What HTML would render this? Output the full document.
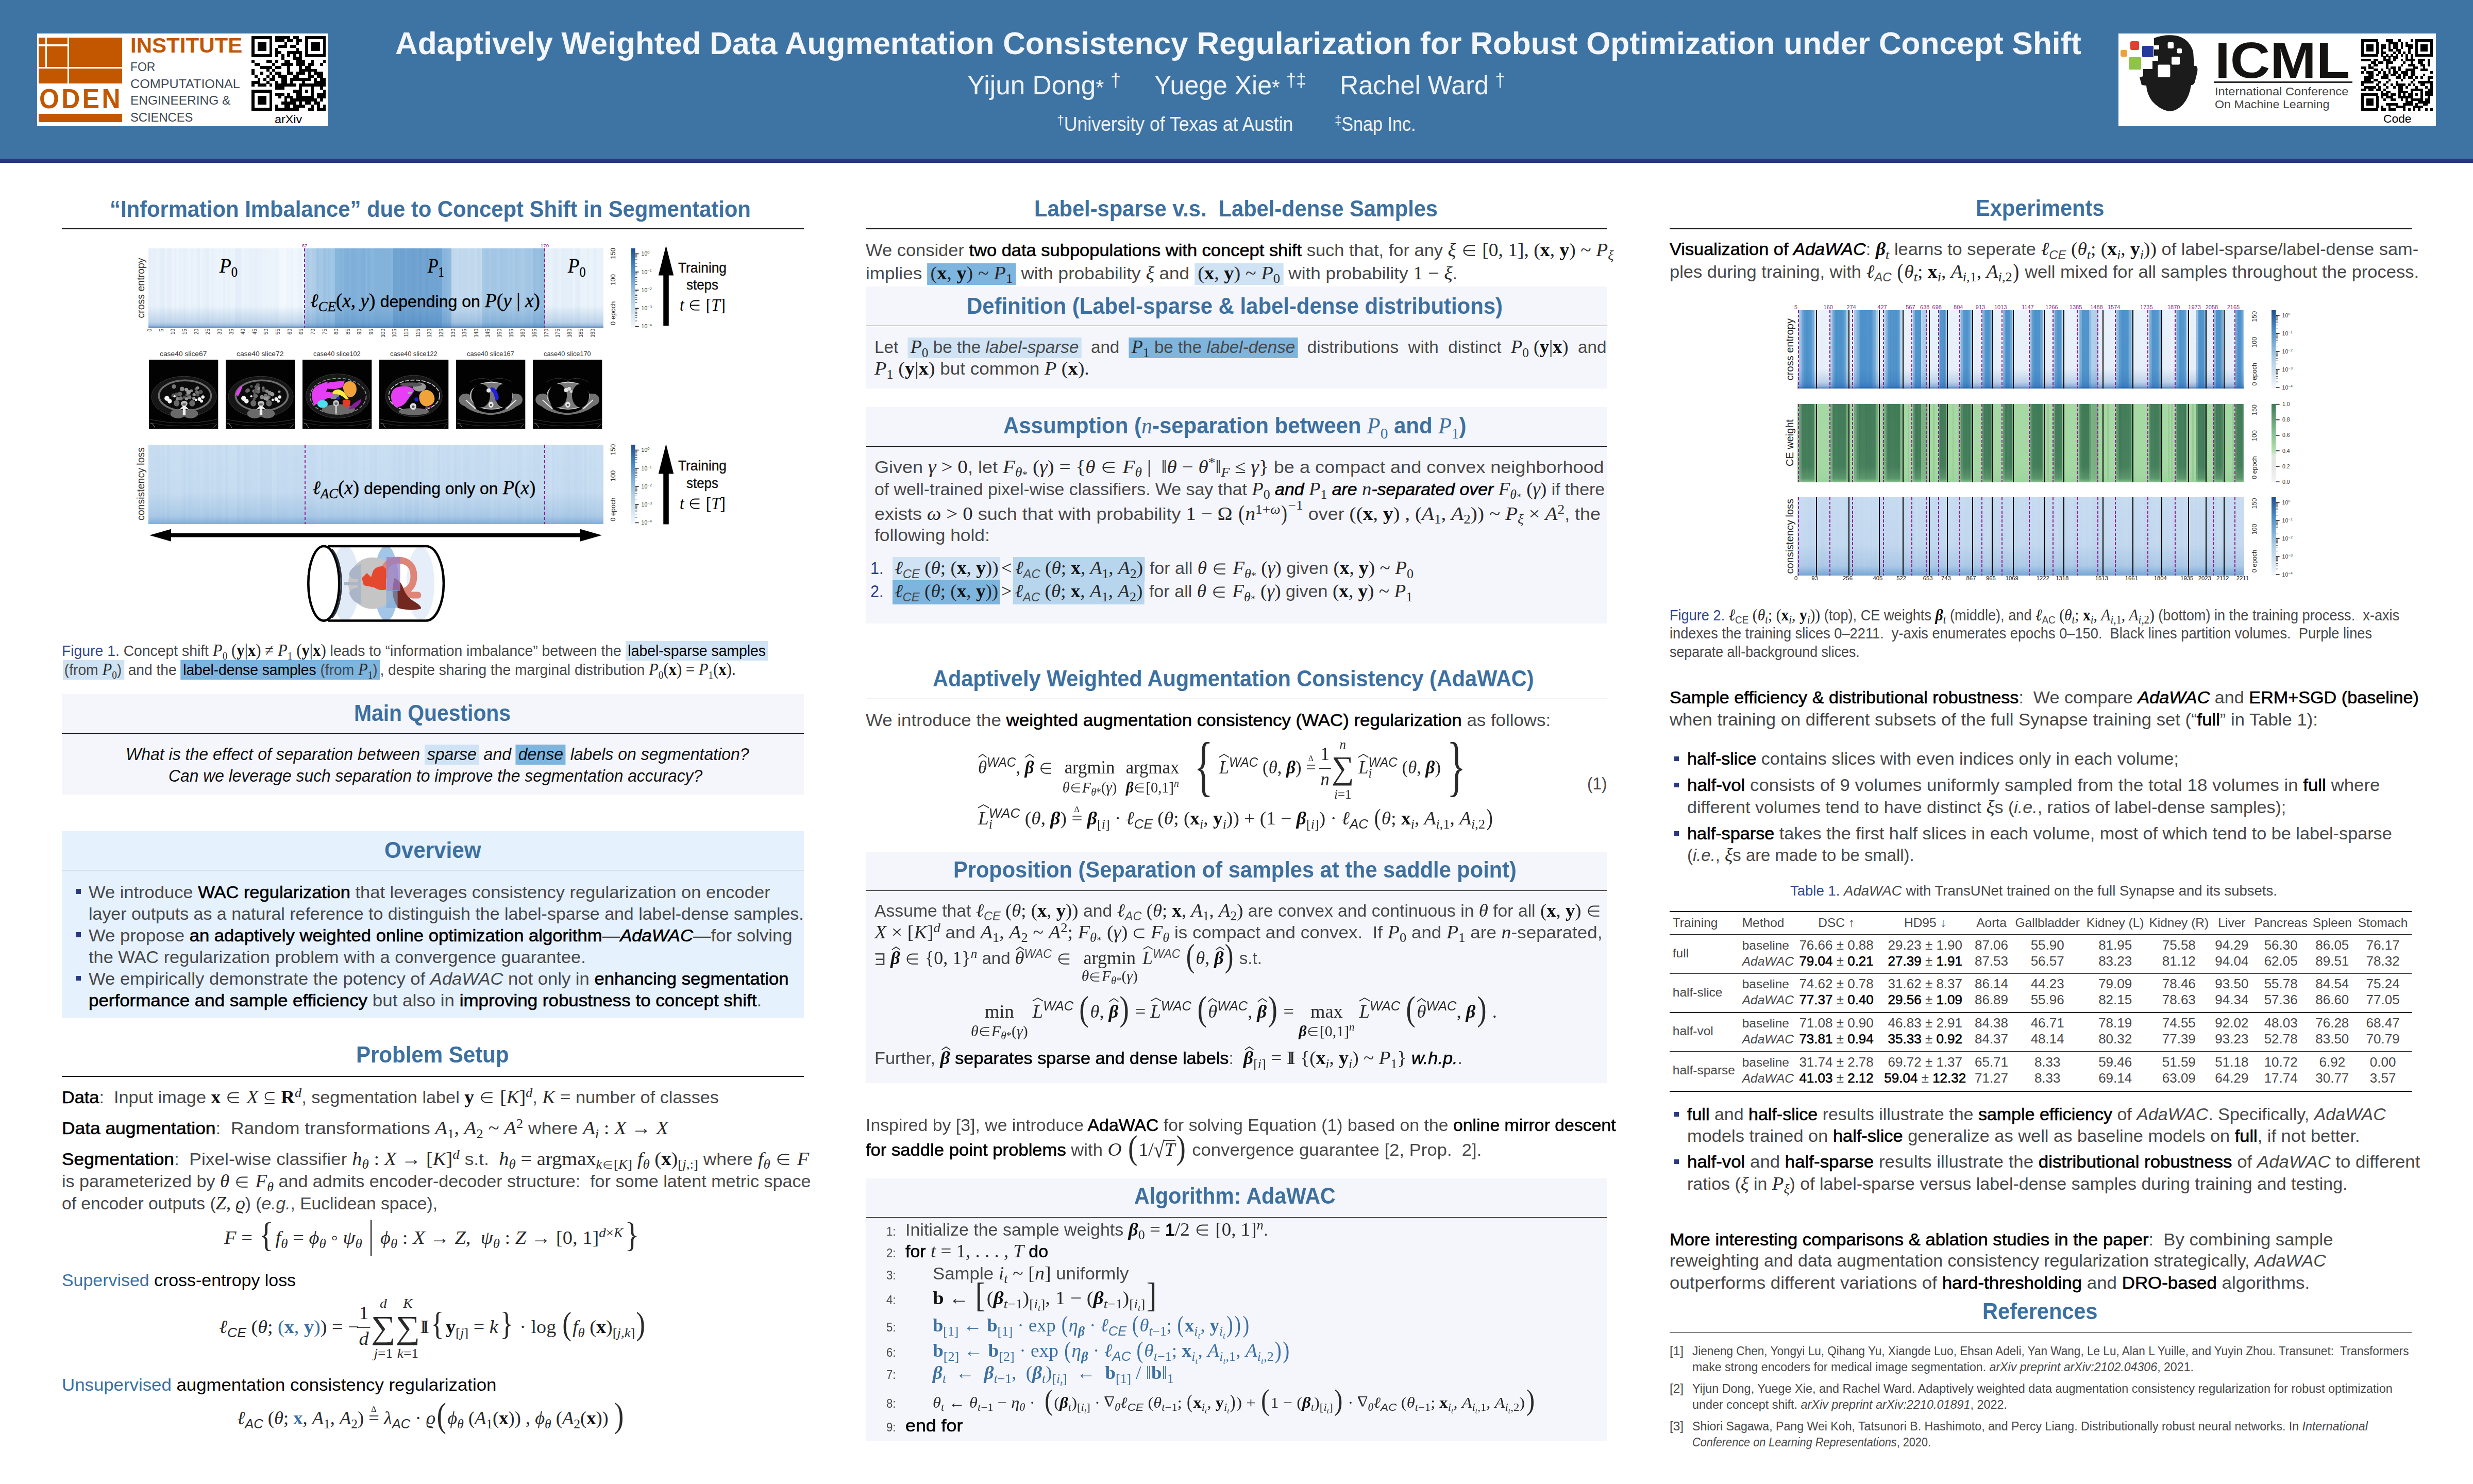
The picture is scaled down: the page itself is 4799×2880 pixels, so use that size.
<!DOCTYPE html><html><head><meta charset="utf-8"><title>AdaWAC poster</title><style>

html,body{margin:0;padding:0}
body{width:4799px;height:2880px;position:relative;overflow:hidden;background:#fff;font-family:"Liberation Sans",sans-serif}
.L{position:absolute;white-space:nowrap;line-height:0;font-size:0;transform-origin:0 0}
.L>u{display:inline-block;height:200px;width:0;text-decoration:none}
.L>span{line-height:0}
.b{font-family:"Liberation Sans",sans-serif;color:#484848}
.h{font-family:"Liberation Sans",sans-serif;font-weight:bold;color:#3c70a1}
.w{font-family:"Liberation Sans",sans-serif;color:#fff}
b{font-weight:normal;color:#000;-webkit-text-stroke:0.6px #000}
.h b{font-weight:bold}
i.t{font-style:italic}
.m{font-family:"Liberation Serif",serif;font-style:italic;color:#2a2a2a}
.r{font-family:"Liberation Serif",serif;font-style:normal;color:#2a2a2a}
.mb{font-family:"Liberation Serif",serif;font-style:normal;font-weight:bold;color:#111;-webkit-text-stroke:0}
.mbi{font-family:"Liberation Serif",serif;font-style:italic;font-weight:bold;color:#111;-webkit-text-stroke:0}
.b .m,.b .r,.b .mb,.b .mbi{font-size:109%}
.b .m .r,.b .r .m,.b .r .r,.b .m .m{font-size:100%}
.sb{font-size:70%;position:relative;top:.32em}
.sp{font-size:70%;position:relative;top:-.52em}
.z{display:inline-block;width:0}
.st{display:inline-flex;flex-direction:column;align-items:center;vertical-align:baseline}
.st>span{display:block;height:0}
.blk,.blk .m,.blk .r{color:#000}
.bl{color:#3c70a1}
.bl .m,.bl .r,.bl .mb,.bl .mbi{color:#3c70a1}
.hl1{background:#cfe3f4}
.hl2{background:#7db5df}
.hl3{background:#b7d6ee}
svg{position:absolute;overflow:visible}

</style></head><body>
<div style="position:absolute;left:0.0px;top:0.0px;width:4799.0px;height:308.0px;background:#3e74a4;"></div>
<div style="position:absolute;left:0.0px;top:308.0px;width:4799.0px;height:8.0px;background:#26387a;"></div>
<div class="L" style="left:767.0px;top:-95.2px;transform:scaleX(0.9912);"><u></u><span class="w" style="font-size:61px;font-weight:bold;color:#f4f6fb">Adaptively Weighted Data Augmentation Consistency Regularization for Robust Optimization under Concept Shift</span></div>
<div class="L" style="left:1877.0px;top:-17.0px;transform:scaleX(0.9877);"><u></u><span class="w" style="font-size:52px;color:#eef2f8">Yijun Dong<span style="font-size:80%;position:relative;top:.02em">*</span><span style="font-size:70%;position:relative;top:-.42em;margin-left:.35em">†</span></span></div>
<div class="L" style="left:2240.0px;top:-17.0px;transform:scaleX(0.9617);"><u></u><span class="w" style="font-size:52px;color:#eef2f8">Yuege Xie<span style="font-size:80%;position:relative;top:.02em">*</span><span style="font-size:70%;position:relative;top:-.42em;margin-left:.35em">†‡</span></span></div>
<div class="L" style="left:2600.0px;top:-17.0px;transform:scaleX(0.9676);"><u></u><span class="w" style="font-size:52px;color:#eef2f8">Rachel Ward<span style="font-size:70%;position:relative;top:-.42em;margin-left:.35em">†</span></span></div>
<div class="L" style="left:2051.0px;top:54.3px;transform:scaleX(0.9367);"><u></u><span class="w" style="font-size:38px;color:#eef2f8"><span style="font-size:70%;position:relative;top:-.45em">†</span>University of Texas at Austin</span></div>
<div class="L" style="left:2590.0px;top:54.3px;transform:scaleX(0.8977);"><u></u><span class="w" style="font-size:38px;color:#eef2f8"><span style="font-size:70%;position:relative;top:-.45em">‡</span>Snap Inc.</span></div>
<div style="position:absolute;left:72.0px;top:65.0px;width:564.0px;height:180.0px;background:#fff;"></div>
<div style="position:absolute;left:74.6px;top:73.0px;width:13.8px;height:13.2px;background:#c25700;"></div>
<div style="position:absolute;left:91.2px;top:73.0px;width:40.2px;height:13.2px;background:#c25700;"></div>
<div style="position:absolute;left:74.6px;top:89.8px;width:13.8px;height:39.8px;background:#c25700;"></div>
<div style="position:absolute;left:91.2px;top:89.8px;width:40.2px;height:39.8px;background:#c25700;"></div>
<div style="position:absolute;left:134.2px;top:73.0px;width:102.8px;height:56.6px;background:#c25700;"></div>
<div style="position:absolute;left:74.6px;top:133.0px;width:56.8px;height:28.6px;background:#c25700;"></div>
<div style="position:absolute;left:134.2px;top:133.0px;width:102.8px;height:28.6px;background:#c25700;"></div>
<div style="position:absolute;left:74.6px;top:221.0px;width:162.4px;height:15.8px;background:#c25700;"></div>
<div class="L" style="left:75.5px;top:10.0px;transform:scaleX(0.9410);"><u></u><span class="b" style="font-size:53px;font-weight:bold;color:#c25700;letter-spacing:.09em;margin-right:-.09em">ODEN</span></div>
<div class="L" style="left:253.4px;top:-97.8px;transform:scaleX(1.0515);"><u></u><span class="b" style="font-size:40px;font-weight:bold;color:#c25700">INSTITUTE</span></div>
<div class="L" style="left:253.4px;top:-62.2px;transform:scaleX(0.9346);"><u></u><span class="b" style="font-size:24.5px;color:#3d4954;">FOR</span></div>
<div class="L" style="left:253.4px;top:-29.4px;transform:scaleX(1.0265);"><u></u><span class="b" style="font-size:24.5px;color:#3d4954;">COMPUTATIONAL</span></div>
<div class="L" style="left:253.4px;top:3.3px;transform:scaleX(0.9980);"><u></u><span class="b" style="font-size:24.5px;color:#3d4954;">ENGINEERING &amp;</span></div>
<div class="L" style="left:253.4px;top:35.6px;transform:scaleX(0.9698);"><u></u><span class="b" style="font-size:24.5px;color:#3d4954;">SCIENCES</span></div>
<div class="L" style="left:533.0px;top:39.2px;transform:scaleX(1.0377);"><u></u><span class="b" style="font-size:22.5px;color:#000;">arXiv</span></div>
<svg style="left:488.2px;top:69.9px" width="144.4" height="144.4" viewBox="0 0 144.4 144.4" shape-rendering="crispEdges"><path d="M0.00 0.00h40.43v5.93h-40.43zM46.21 0.00h28.88v5.93h-28.88zM80.86 0.00h11.55v5.93h-11.55zM103.97 0.00h40.43v5.93h-40.43zM0.00 5.78h5.78v5.93h-5.78zM34.66 5.78h5.78v5.93h-5.78zM46.21 5.78h17.33v5.93h-17.33zM69.31 5.78h11.55v5.93h-11.55zM86.64 5.78h11.55v5.93h-11.55zM103.97 5.78h5.78v5.93h-5.78zM138.62 5.78h5.78v5.93h-5.78zM0.00 11.55h5.78v5.93h-5.78zM11.55 11.55h17.33v5.93h-17.33zM34.66 11.55h5.78v5.93h-5.78zM63.54 11.55h5.78v5.93h-5.78zM86.64 11.55h5.78v5.93h-5.78zM103.97 11.55h5.78v5.93h-5.78zM115.52 11.55h17.33v5.93h-17.33zM138.62 11.55h5.78v5.93h-5.78zM0.00 17.33h5.78v5.93h-5.78zM11.55 17.33h17.33v5.93h-17.33zM34.66 17.33h5.78v5.93h-5.78zM51.98 17.33h17.33v5.93h-17.33zM75.09 17.33h11.55v5.93h-11.55zM103.97 17.33h5.78v5.93h-5.78zM115.52 17.33h17.33v5.93h-17.33zM138.62 17.33h5.78v5.93h-5.78zM0.00 23.10h5.78v5.93h-5.78zM11.55 23.10h17.33v5.93h-17.33zM34.66 23.10h5.78v5.93h-5.78zM46.21 23.10h5.78v5.93h-5.78zM86.64 23.10h5.78v5.93h-5.78zM103.97 23.10h5.78v5.93h-5.78zM115.52 23.10h17.33v5.93h-17.33zM138.62 23.10h5.78v5.93h-5.78zM0.00 28.88h5.78v5.93h-5.78zM34.66 28.88h5.78v5.93h-5.78zM46.21 28.88h11.55v5.93h-11.55zM69.31 28.88h28.88v5.93h-28.88zM103.97 28.88h5.78v5.93h-5.78zM138.62 28.88h5.78v5.93h-5.78zM0.00 34.66h40.43v5.93h-40.43zM46.21 34.66h5.78v5.93h-5.78zM57.76 34.66h5.78v5.93h-5.78zM69.31 34.66h5.78v5.93h-5.78zM80.86 34.66h5.78v5.93h-5.78zM92.42 34.66h5.78v5.93h-5.78zM103.97 34.66h40.43v5.93h-40.43zM57.76 40.43h5.78v5.93h-5.78zM80.86 40.43h17.33v5.93h-17.33zM0.00 46.21h5.78v5.93h-5.78zM28.88 46.21h11.55v5.93h-11.55zM46.21 46.21h5.78v5.93h-5.78zM63.54 46.21h11.55v5.93h-11.55zM86.64 46.21h17.33v5.93h-17.33zM115.52 46.21h5.78v5.93h-5.78zM138.62 46.21h5.78v5.93h-5.78zM5.78 51.98h11.55v5.93h-11.55zM40.43 51.98h5.78v5.93h-5.78zM57.76 51.98h23.10v5.93h-23.10zM86.64 51.98h17.33v5.93h-17.33zM109.74 51.98h11.55v5.93h-11.55zM132.85 51.98h5.78v5.93h-5.78zM17.33 57.76h23.10v5.93h-23.10zM46.21 57.76h11.55v5.93h-11.55zM69.31 57.76h5.78v5.93h-5.78zM92.42 57.76h5.78v5.93h-5.78zM103.97 57.76h11.55v5.93h-11.55zM0.00 63.54h5.78v5.93h-5.78zM28.88 63.54h5.78v5.93h-5.78zM40.43 63.54h5.78v5.93h-5.78zM69.31 63.54h5.78v5.93h-5.78zM92.42 63.54h34.66v5.93h-34.66zM0.00 69.31h5.78v5.93h-5.78zM17.33 69.31h5.78v5.93h-5.78zM34.66 69.31h5.78v5.93h-5.78zM46.21 69.31h11.55v5.93h-11.55zM69.31 69.31h11.55v5.93h-11.55zM86.64 69.31h17.33v5.93h-17.33zM109.74 69.31h5.78v5.93h-5.78zM121.30 69.31h17.33v5.93h-17.33zM5.78 75.09h5.78v5.93h-5.78zM28.88 75.09h5.78v5.93h-5.78zM40.43 75.09h5.78v5.93h-5.78zM51.98 75.09h17.33v5.93h-17.33zM80.86 75.09h11.55v5.93h-11.55zM109.74 75.09h11.55v5.93h-11.55zM127.07 75.09h11.55v5.93h-11.55zM11.55 80.86h5.78v5.93h-5.78zM23.10 80.86h5.78v5.93h-5.78zM34.66 80.86h11.55v5.93h-11.55zM57.76 80.86h11.55v5.93h-11.55zM75.09 80.86h40.43v5.93h-40.43zM121.30 80.86h5.78v5.93h-5.78zM132.85 80.86h11.55v5.93h-11.55zM0.00 86.64h17.33v5.93h-17.33zM28.88 86.64h5.78v5.93h-5.78zM46.21 86.64h5.78v5.93h-5.78zM57.76 86.64h11.55v5.93h-11.55zM75.09 86.64h5.78v5.93h-5.78zM98.19 86.64h5.78v5.93h-5.78zM121.30 86.64h23.10v5.93h-23.10zM0.00 92.42h5.78v5.93h-5.78zM11.55 92.42h17.33v5.93h-17.33zM34.66 92.42h5.78v5.93h-5.78zM46.21 92.42h40.43v5.93h-40.43zM92.42 92.42h51.98v5.93h-51.98zM46.21 98.19h17.33v5.93h-17.33zM92.42 98.19h5.78v5.93h-5.78zM115.52 98.19h5.78v5.93h-5.78zM132.85 98.19h5.78v5.93h-5.78zM0.00 103.97h40.43v5.93h-40.43zM80.86 103.97h17.33v5.93h-17.33zM103.97 103.97h5.78v5.93h-5.78zM115.52 103.97h5.78v5.93h-5.78zM138.62 103.97h5.78v5.93h-5.78zM0.00 109.74h5.78v5.93h-5.78zM34.66 109.74h5.78v5.93h-5.78zM46.21 109.74h17.33v5.93h-17.33zM69.31 109.74h5.78v5.93h-5.78zM86.64 109.74h11.55v5.93h-11.55zM115.52 109.74h5.78v5.93h-5.78zM127.07 109.74h17.33v5.93h-17.33zM0.00 115.52h5.78v5.93h-5.78zM11.55 115.52h17.33v5.93h-17.33zM34.66 115.52h5.78v5.93h-5.78zM51.98 115.52h5.78v5.93h-5.78zM63.54 115.52h17.33v5.93h-17.33zM86.64 115.52h34.66v5.93h-34.66zM127.07 115.52h17.33v5.93h-17.33zM0.00 121.30h5.78v5.93h-5.78zM11.55 121.30h17.33v5.93h-17.33zM34.66 121.30h5.78v5.93h-5.78zM63.54 121.30h5.78v5.93h-5.78zM75.09 121.30h51.98v5.93h-51.98zM132.85 121.30h5.78v5.93h-5.78zM0.00 127.07h5.78v5.93h-5.78zM11.55 127.07h17.33v5.93h-17.33zM34.66 127.07h5.78v5.93h-5.78zM57.76 127.07h28.88v5.93h-28.88zM92.42 127.07h5.78v5.93h-5.78zM103.97 127.07h11.55v5.93h-11.55zM121.30 127.07h11.55v5.93h-11.55zM0.00 132.85h5.78v5.93h-5.78zM34.66 132.85h5.78v5.93h-5.78zM46.21 132.85h5.78v5.93h-5.78zM63.54 132.85h11.55v5.93h-11.55zM80.86 132.85h23.10v5.93h-23.10zM115.52 132.85h5.78v5.93h-5.78zM127.07 132.85h5.78v5.93h-5.78zM138.62 132.85h5.78v5.93h-5.78zM0.00 138.62h40.43v5.93h-40.43zM46.21 138.62h46.21v5.93h-46.21zM109.74 138.62h11.55v5.93h-11.55zM127.07 138.62h17.33v5.93h-17.33z" fill="#000"/></svg>
<div style="position:absolute;left:4111.0px;top:65.0px;width:616.0px;height:180.0px;background:#fff;"></div>
<div style="position:absolute;left:4134.0px;top:80.2px;width:17.0px;height:17.0px;background:#e0402f;border-radius:3px"></div>
<div style="position:absolute;left:4157.3px;top:89.2px;width:21.3px;height:21.4px;background:#26389a;border-radius:2px"></div>
<div style="position:absolute;left:4114.6px;top:97.2px;width:13.6px;height:12.8px;background:#f0a233;border-radius:3px"></div>
<div style="position:absolute;left:4131.4px;top:110.8px;width:24.0px;height:24.1px;background:#8ec549;border-radius:2px"></div>
<svg style="left:0;top:0" width="4799" height="320" viewBox="0 0 4799 320"><path d="M4180 74 Q4200 66 4222 69 Q4248 74 4256 100 L4258 128 Q4266 126 4264 140 L4259 160 Q4256 166 4252 165 Q4249 188 4236 203 Q4222 217 4208 216 Q4190 212 4176 196 Q4166 182 4165 166 L4156 165 L4152 150 L4159 148 L4159 134 L4177 134 L4177 118 L4188 118 L4188 108 L4180 108 L4180 96 L4190 96 L4190 88 L4180 88 Z" fill="#1b1b1b"/><rect x="4206.6" y="82" width="11.5" height="12" rx="2" fill="#fff"/><rect x="4224.8" y="94" width="9.2" height="9.4" rx="2" fill="#fff"/><rect x="4214" y="110" width="16" height="15.5" rx="2" fill="#fff"/><rect x="4187.4" y="125.5" width="24" height="24.5" rx="2" fill="#fff"/></svg>
<div class="L" style="left:4297.6px;top:-49.1px;transform:scaleX(1.0843);"><u></u><span class="b" style="font-size:99px;font-weight:bold;color:#151311">ICML</span></div>
<div style="position:absolute;left:4296.0px;top:158.0px;width:268.5px;height:3.0px;background:#2a2a2a;"></div>
<div class="L" style="left:4298.0px;top:-15.2px;transform:scaleX(1.1013);"><u></u><span class="b" style="font-size:21.5px;color:#444;">International Conference</span></div>
<div class="L" style="left:4298.0px;top:10.1px;transform:scaleX(1.0821);"><u></u><span class="b" style="font-size:21.5px;color:#444;">On Machine Learning</span></div>
<svg style="left:4582.4px;top:76.2px" width="138.8" height="138.8" viewBox="0 0 138.8 138.8" shape-rendering="crispEdges"><path d="M0.00 0.00h33.50v4.94h-33.50zM47.86 0.00h14.36v4.94h-14.36zM71.79 0.00h4.79v4.94h-4.79zM95.72 0.00h4.79v4.94h-4.79zM105.30 0.00h33.50v4.94h-33.50zM0.00 4.79h4.79v4.94h-4.79zM28.72 4.79h4.79v4.94h-4.79zM52.65 4.79h19.14v4.94h-19.14zM76.58 4.79h4.79v4.94h-4.79zM86.15 4.79h4.79v4.94h-4.79zM105.30 4.79h4.79v4.94h-4.79zM134.01 4.79h4.79v4.94h-4.79zM0.00 9.57h4.79v4.94h-4.79zM9.57 9.57h14.36v4.94h-14.36zM28.72 9.57h4.79v4.94h-4.79zM38.29 9.57h9.57v4.94h-9.57zM52.65 9.57h4.79v4.94h-4.79zM62.22 9.57h9.57v4.94h-9.57zM76.58 9.57h4.79v4.94h-4.79zM86.15 9.57h14.36v4.94h-14.36zM105.30 9.57h4.79v4.94h-4.79zM114.87 9.57h14.36v4.94h-14.36zM134.01 9.57h4.79v4.94h-4.79zM0.00 14.36h4.79v4.94h-4.79zM9.57 14.36h14.36v4.94h-14.36zM28.72 14.36h4.79v4.94h-4.79zM38.29 14.36h9.57v4.94h-9.57zM52.65 14.36h4.79v4.94h-4.79zM62.22 14.36h9.57v4.94h-9.57zM76.58 14.36h4.79v4.94h-4.79zM90.94 14.36h9.57v4.94h-9.57zM105.30 14.36h4.79v4.94h-4.79zM114.87 14.36h14.36v4.94h-14.36zM134.01 14.36h4.79v4.94h-4.79zM0.00 19.14h4.79v4.94h-4.79zM9.57 19.14h14.36v4.94h-14.36zM28.72 19.14h4.79v4.94h-4.79zM38.29 19.14h4.79v4.94h-4.79zM52.65 19.14h9.57v4.94h-9.57zM67.01 19.14h9.57v4.94h-9.57zM90.94 19.14h4.79v4.94h-4.79zM105.30 19.14h4.79v4.94h-4.79zM114.87 19.14h14.36v4.94h-14.36zM134.01 19.14h4.79v4.94h-4.79zM0.00 23.93h4.79v4.94h-4.79zM28.72 23.93h4.79v4.94h-4.79zM38.29 23.93h9.57v4.94h-9.57zM62.22 23.93h4.79v4.94h-4.79zM71.79 23.93h4.79v4.94h-4.79zM81.37 23.93h4.79v4.94h-4.79zM90.94 23.93h4.79v4.94h-4.79zM105.30 23.93h4.79v4.94h-4.79zM134.01 23.93h4.79v4.94h-4.79zM0.00 28.72h33.50v4.94h-33.50zM38.29 28.72h4.79v4.94h-4.79zM47.86 28.72h4.79v4.94h-4.79zM57.43 28.72h4.79v4.94h-4.79zM67.01 28.72h4.79v4.94h-4.79zM76.58 28.72h4.79v4.94h-4.79zM86.15 28.72h4.79v4.94h-4.79zM95.72 28.72h4.79v4.94h-4.79zM105.30 28.72h33.50v4.94h-33.50zM43.08 33.50h4.79v4.94h-4.79zM52.65 33.50h4.79v4.94h-4.79zM62.22 33.50h9.57v4.94h-9.57zM86.15 33.50h4.79v4.94h-4.79zM95.72 33.50h4.79v4.94h-4.79zM0.00 38.29h19.14v4.94h-19.14zM23.93 38.29h9.57v4.94h-9.57zM43.08 38.29h14.36v4.94h-14.36zM62.22 38.29h4.79v4.94h-4.79zM76.58 38.29h4.79v4.94h-4.79zM86.15 38.29h19.14v4.94h-19.14zM110.08 38.29h14.36v4.94h-14.36zM129.23 38.29h4.79v4.94h-4.79zM19.14 43.08h9.57v4.94h-9.57zM33.50 43.08h9.57v4.94h-9.57zM47.86 43.08h14.36v4.94h-14.36zM81.37 43.08h4.79v4.94h-4.79zM95.72 43.08h4.79v4.94h-4.79zM110.08 43.08h9.57v4.94h-9.57zM129.23 43.08h4.79v4.94h-4.79zM14.36 47.86h4.79v4.94h-4.79zM23.93 47.86h9.57v4.94h-9.57zM47.86 47.86h4.79v4.94h-4.79zM76.58 47.86h4.79v4.94h-4.79zM90.94 47.86h14.36v4.94h-14.36zM114.87 47.86h9.57v4.94h-9.57zM129.23 47.86h4.79v4.94h-4.79zM0.00 52.65h9.57v4.94h-9.57zM14.36 52.65h9.57v4.94h-9.57zM47.86 52.65h4.79v4.94h-4.79zM57.43 52.65h9.57v4.94h-9.57zM71.79 52.65h4.79v4.94h-4.79zM100.51 52.65h9.57v4.94h-9.57zM119.66 52.65h4.79v4.94h-4.79zM4.79 57.43h4.79v4.94h-4.79zM23.93 57.43h9.57v4.94h-9.57zM38.29 57.43h4.79v4.94h-4.79zM52.65 57.43h4.79v4.94h-4.79zM62.22 57.43h4.79v4.94h-4.79zM71.79 57.43h4.79v4.94h-4.79zM86.15 57.43h19.14v4.94h-19.14zM114.87 57.43h14.36v4.94h-14.36zM0.00 62.22h4.79v4.94h-4.79zM9.57 62.22h14.36v4.94h-14.36zM33.50 62.22h4.79v4.94h-4.79zM43.08 62.22h4.79v4.94h-4.79zM52.65 62.22h4.79v4.94h-4.79zM62.22 62.22h9.57v4.94h-9.57zM76.58 62.22h14.36v4.94h-14.36zM95.72 62.22h9.57v4.94h-9.57zM134.01 62.22h4.79v4.94h-4.79zM14.36 67.01h9.57v4.94h-9.57zM28.72 67.01h4.79v4.94h-4.79zM43.08 67.01h9.57v4.94h-9.57zM57.43 67.01h9.57v4.94h-9.57zM71.79 67.01h4.79v4.94h-4.79zM81.37 67.01h9.57v4.94h-9.57zM95.72 67.01h9.57v4.94h-9.57zM119.66 67.01h4.79v4.94h-4.79zM4.79 71.79h19.14v4.94h-19.14zM38.29 71.79h14.36v4.94h-14.36zM67.01 71.79h9.57v4.94h-9.57zM81.37 71.79h4.79v4.94h-4.79zM90.94 71.79h9.57v4.94h-9.57zM105.30 71.79h4.79v4.94h-4.79zM114.87 71.79h4.79v4.94h-4.79zM129.23 71.79h9.57v4.94h-9.57zM4.79 76.58h14.36v4.94h-14.36zM23.93 76.58h9.57v4.94h-9.57zM52.65 76.58h4.79v4.94h-4.79zM76.58 76.58h4.79v4.94h-4.79zM100.51 76.58h4.79v4.94h-4.79zM129.23 76.58h4.79v4.94h-4.79zM0.00 81.37h23.93v4.94h-23.93zM33.50 81.37h4.79v4.94h-4.79zM47.86 81.37h4.79v4.94h-4.79zM67.01 81.37h4.79v4.94h-4.79zM95.72 81.37h4.79v4.94h-4.79zM110.08 81.37h28.72v4.94h-28.72zM0.00 86.15h4.79v4.94h-4.79zM28.72 86.15h4.79v4.94h-4.79zM43.08 86.15h4.79v4.94h-4.79zM57.43 86.15h4.79v4.94h-4.79zM67.01 86.15h19.14v4.94h-19.14zM90.94 86.15h4.79v4.94h-4.79zM100.51 86.15h4.79v4.94h-4.79zM114.87 86.15h9.57v4.94h-9.57zM134.01 86.15h4.79v4.94h-4.79zM4.79 90.94h23.93v4.94h-23.93zM33.50 90.94h4.79v4.94h-4.79zM47.86 90.94h4.79v4.94h-4.79zM62.22 90.94h4.79v4.94h-4.79zM71.79 90.94h9.57v4.94h-9.57zM86.15 90.94h4.79v4.94h-4.79zM105.30 90.94h4.79v4.94h-4.79zM124.44 90.94h4.79v4.94h-4.79zM134.01 90.94h4.79v4.94h-4.79zM0.00 95.72h9.57v4.94h-9.57zM14.36 95.72h9.57v4.94h-9.57zM28.72 95.72h9.57v4.94h-9.57zM43.08 95.72h4.79v4.94h-4.79zM71.79 95.72h9.57v4.94h-9.57zM95.72 95.72h23.93v4.94h-23.93zM129.23 95.72h9.57v4.94h-9.57zM38.29 100.51h4.79v4.94h-4.79zM47.86 100.51h9.57v4.94h-9.57zM71.79 100.51h19.14v4.94h-19.14zM95.72 100.51h4.79v4.94h-4.79zM114.87 100.51h4.79v4.94h-4.79zM124.44 100.51h14.36v4.94h-14.36zM0.00 105.30h33.50v4.94h-33.50zM38.29 105.30h14.36v4.94h-14.36zM57.43 105.30h9.57v4.94h-9.57zM71.79 105.30h4.79v4.94h-4.79zM81.37 105.30h4.79v4.94h-4.79zM90.94 105.30h9.57v4.94h-9.57zM105.30 105.30h4.79v4.94h-4.79zM114.87 105.30h4.79v4.94h-4.79zM124.44 105.30h14.36v4.94h-14.36zM0.00 110.08h4.79v4.94h-4.79zM28.72 110.08h4.79v4.94h-4.79zM38.29 110.08h4.79v4.94h-4.79zM47.86 110.08h14.36v4.94h-14.36zM71.79 110.08h28.72v4.94h-28.72zM114.87 110.08h4.79v4.94h-4.79zM129.23 110.08h4.79v4.94h-4.79zM0.00 114.87h4.79v4.94h-4.79zM9.57 114.87h14.36v4.94h-14.36zM28.72 114.87h4.79v4.94h-4.79zM43.08 114.87h4.79v4.94h-4.79zM57.43 114.87h9.57v4.94h-9.57zM76.58 114.87h4.79v4.94h-4.79zM86.15 114.87h4.79v4.94h-4.79zM95.72 114.87h23.93v4.94h-23.93zM124.44 114.87h9.57v4.94h-9.57zM0.00 119.66h4.79v4.94h-4.79zM9.57 119.66h14.36v4.94h-14.36zM28.72 119.66h4.79v4.94h-4.79zM86.15 119.66h14.36v4.94h-14.36zM110.08 119.66h23.93v4.94h-23.93zM0.00 124.44h4.79v4.94h-4.79zM9.57 124.44h14.36v4.94h-14.36zM28.72 124.44h4.79v4.94h-4.79zM47.86 124.44h23.93v4.94h-23.93zM81.37 124.44h19.14v4.94h-19.14zM105.30 124.44h4.79v4.94h-4.79zM119.66 124.44h9.57v4.94h-9.57zM0.00 129.23h4.79v4.94h-4.79zM28.72 129.23h4.79v4.94h-4.79zM38.29 129.23h4.79v4.94h-4.79zM52.65 129.23h4.79v4.94h-4.79zM67.01 129.23h19.14v4.94h-19.14zM100.51 129.23h19.14v4.94h-19.14zM0.00 134.01h33.50v4.94h-33.50zM38.29 134.01h9.57v4.94h-9.57zM52.65 134.01h14.36v4.94h-14.36zM81.37 134.01h4.79v4.94h-4.79zM90.94 134.01h4.79v4.94h-4.79zM100.51 134.01h4.79v4.94h-4.79zM110.08 134.01h4.79v4.94h-4.79zM124.44 134.01h4.79v4.94h-4.79zM134.01 134.01h4.79v4.94h-4.79z" fill="#000"/></svg>
<div class="L" style="left:4624.6px;top:37.6px;transform:scaleX(1.0365);"><u></u><span class="b" style="font-size:22px;color:#000;">Code</span></div>
<div class="L" style="left:213.0px;top:221.0px;transform:scaleX(0.9602);"><u></u><span class="h" style="font-size:43.5px;">“Information Imbalance” due to Concept Shift in Segmentation</span></div>
<div style="position:absolute;left:120.0px;top:443.4px;width:1440.0px;height:1.2px;background:#151515;"></div>
<svg style="left:287.8px;top:481.8px" width="882.6" height="153.8" viewBox="0 0 882.6 153.8" shape-rendering="crispEdges"><rect x="0.0" width="4.8" height="153.8" fill="#e5eff9"/><rect x="4.5" width="4.8" height="153.8" fill="#e8f1fa"/><rect x="9.1" width="4.8" height="153.8" fill="#e7f0fa"/><rect x="13.6" width="9.4" height="153.8" fill="#e9f2fa"/><rect x="22.6" width="4.8" height="153.8" fill="#e4eef9"/><rect x="27.2" width="4.8" height="153.8" fill="#e3eef9"/><rect x="31.7" width="4.8" height="153.8" fill="#ebf3fb"/><rect x="36.2" width="4.8" height="153.8" fill="#e6eff9"/><rect x="40.7" width="4.8" height="153.8" fill="#e5eff9"/><rect x="45.3" width="4.8" height="153.8" fill="#edf4fb"/><rect x="49.8" width="4.8" height="153.8" fill="#e8f1fa"/><rect x="54.3" width="4.8" height="153.8" fill="#ebf3fb"/><rect x="58.8" width="4.8" height="153.8" fill="#e8f1fa"/><rect x="63.4" width="4.8" height="153.8" fill="#e9f2fa"/><rect x="67.9" width="4.8" height="153.8" fill="#e5eff9"/><rect x="72.4" width="4.8" height="153.8" fill="#e9f2fa"/><rect x="76.9" width="4.8" height="153.8" fill="#ecf4fb"/><rect x="81.5" width="4.8" height="153.8" fill="#e8f1fa"/><rect x="86.0" width="4.8" height="153.8" fill="#eaf3fb"/><rect x="90.5" width="4.8" height="153.8" fill="#eaf2fb"/><rect x="95.0" width="4.8" height="153.8" fill="#e4eef9"/><rect x="99.6" width="4.8" height="153.8" fill="#ebf3fb"/><rect x="104.1" width="4.8" height="153.8" fill="#e9f2fa"/><rect x="108.6" width="4.8" height="153.8" fill="#e6f0f9"/><rect x="113.2" width="4.8" height="153.8" fill="#e3eef9"/><rect x="117.7" width="4.8" height="153.8" fill="#ecf4fb"/><rect x="122.2" width="4.8" height="153.8" fill="#e8f1fa"/><rect x="126.7" width="4.8" height="153.8" fill="#eaf3fb"/><rect x="131.3" width="4.8" height="153.8" fill="#ecf4fb"/><rect x="135.8" width="4.8" height="153.8" fill="#eaf2fb"/><rect x="140.3" width="4.8" height="153.8" fill="#ecf4fb"/><rect x="144.8" width="4.8" height="153.8" fill="#e7f0fa"/><rect x="149.4" width="4.8" height="153.8" fill="#ebf3fb"/><rect x="153.9" width="4.8" height="153.8" fill="#e7f1fa"/><rect x="158.4" width="9.4" height="153.8" fill="#ecf4fb"/><rect x="167.5" width="9.4" height="153.8" fill="#e4eef9"/><rect x="176.5" width="4.8" height="153.8" fill="#e5eff9"/><rect x="181.0" width="4.8" height="153.8" fill="#edf4fb"/><rect x="185.6" width="4.8" height="153.8" fill="#e7f1fa"/><rect x="190.1" width="4.8" height="153.8" fill="#e9f2fa"/><rect x="194.6" width="4.8" height="153.8" fill="#e6f0f9"/><rect x="199.2" width="4.8" height="153.8" fill="#e8f1fa"/><rect x="203.7" width="9.4" height="153.8" fill="#e7f0fa"/><rect x="212.7" width="9.4" height="153.8" fill="#e9f2fa"/><rect x="221.8" width="4.8" height="153.8" fill="#ecf4fb"/><rect x="226.3" width="4.8" height="153.8" fill="#eaf2fb"/><rect x="230.8" width="4.8" height="153.8" fill="#ecf4fb"/><rect x="235.4" width="4.8" height="153.8" fill="#ecf3fb"/><rect x="239.9" width="4.8" height="153.8" fill="#edf4fb"/><rect x="244.4" width="4.8" height="153.8" fill="#eaf2fb"/><rect x="248.9" width="4.8" height="153.8" fill="#ebf3fb"/><rect x="253.5" width="4.8" height="153.8" fill="#f2f8fd"/><rect x="258.0" width="4.8" height="153.8" fill="#f3f8fd"/><rect x="262.5" width="4.8" height="153.8" fill="#f2f8fd"/><rect x="267.0" width="4.8" height="153.8" fill="#eff5fc"/><rect x="271.6" width="4.8" height="153.8" fill="#f0f6fd"/><rect x="276.1" width="4.8" height="153.8" fill="#ebf3fb"/><rect x="280.6" width="4.8" height="153.8" fill="#f1f7fd"/><rect x="285.1" width="4.8" height="153.8" fill="#eff6fc"/><rect x="289.7" width="4.8" height="153.8" fill="#ecf3fb"/><rect x="294.2" width="4.8" height="153.8" fill="#eaf2fb"/><rect x="298.7" width="4.8" height="153.8" fill="#f2f7fd"/><rect x="303.3" width="4.8" height="153.8" fill="#b5d1e9"/><rect x="307.8" width="4.8" height="153.8" fill="#accbe7"/><rect x="312.3" width="4.8" height="153.8" fill="#b3d0e9"/><rect x="316.8" width="4.8" height="153.8" fill="#afcde8"/><rect x="321.4" width="4.8" height="153.8" fill="#adcce7"/><rect x="325.9" width="4.8" height="153.8" fill="#9ec4e3"/><rect x="330.4" width="4.8" height="153.8" fill="#a3c7e5"/><rect x="334.9" width="4.8" height="153.8" fill="#a4c8e5"/><rect x="339.5" width="4.8" height="153.8" fill="#9bc2e3"/><rect x="344.0" width="4.8" height="153.8" fill="#a1c6e4"/><rect x="348.5" width="4.8" height="153.8" fill="#9bc2e3"/><rect x="353.0" width="4.8" height="153.8" fill="#a2c7e5"/><rect x="357.6" width="4.8" height="153.8" fill="#9ec4e3"/><rect x="362.1" width="4.8" height="153.8" fill="#87b5db"/><rect x="366.6" width="4.8" height="153.8" fill="#88b5db"/><rect x="371.1" width="4.8" height="153.8" fill="#83b2da"/><rect x="375.7" width="4.8" height="153.8" fill="#88b5db"/><rect x="380.2" width="4.8" height="153.8" fill="#81b1d9"/><rect x="384.7" width="4.8" height="153.8" fill="#7fafd9"/><rect x="389.2" width="4.8" height="153.8" fill="#84b3da"/><rect x="393.8" width="4.8" height="153.8" fill="#7eafd9"/><rect x="398.3" width="4.8" height="153.8" fill="#80b0d9"/><rect x="402.8" width="4.8" height="153.8" fill="#82b1da"/><rect x="407.4" width="4.8" height="153.8" fill="#84b3da"/><rect x="411.9" width="4.8" height="153.8" fill="#80b0d9"/><rect x="416.4" width="4.8" height="153.8" fill="#7eafd9"/><rect x="420.9" width="4.8" height="153.8" fill="#87b5db"/><rect x="425.5" width="4.8" height="153.8" fill="#81b1d9"/><rect x="430.0" width="4.8" height="153.8" fill="#88b5db"/><rect x="434.5" width="4.8" height="153.8" fill="#87b5db"/><rect x="439.0" width="4.8" height="153.8" fill="#82b1da"/><rect x="443.6" width="9.4" height="153.8" fill="#83b2da"/><rect x="452.6" width="9.4" height="153.8" fill="#84b3da"/><rect x="461.7" width="4.8" height="153.8" fill="#84b2da"/><rect x="466.2" width="4.8" height="153.8" fill="#84b3da"/><rect x="470.7" width="4.8" height="153.8" fill="#87b5db"/><rect x="475.2" width="4.8" height="153.8" fill="#70a3d1"/><rect x="479.8" width="4.8" height="153.8" fill="#6fa3d1"/><rect x="484.3" width="4.8" height="153.8" fill="#72a5d2"/><rect x="488.8" width="4.8" height="153.8" fill="#6da1d0"/><rect x="493.4" width="4.8" height="153.8" fill="#6ea2d0"/><rect x="497.9" width="4.8" height="153.8" fill="#75a6d2"/><rect x="502.4" width="9.4" height="153.8" fill="#70a3d1"/><rect x="511.5" width="4.8" height="153.8" fill="#6ba0d0"/><rect x="516.0" width="4.8" height="153.8" fill="#6fa2d1"/><rect x="520.5" width="4.8" height="153.8" fill="#71a4d1"/><rect x="525.0" width="4.8" height="153.8" fill="#6ba0d0"/><rect x="529.6" width="9.4" height="153.8" fill="#71a4d1"/><rect x="538.6" width="4.8" height="153.8" fill="#6ca0d0"/><rect x="543.1" width="4.8" height="153.8" fill="#71a4d1"/><rect x="547.7" width="4.8" height="153.8" fill="#70a3d1"/><rect x="552.2" width="4.8" height="153.8" fill="#72a4d2"/><rect x="556.7" width="4.8" height="153.8" fill="#6fa2d1"/><rect x="561.2" width="4.8" height="153.8" fill="#72a4d2"/><rect x="565.8" width="4.8" height="153.8" fill="#72a5d2"/><rect x="570.3" width="4.8" height="153.8" fill="#87b5dc"/><rect x="574.8" width="4.8" height="153.8" fill="#88b5dc"/><rect x="579.3" width="4.8" height="153.8" fill="#8eb9de"/><rect x="583.9" width="4.8" height="153.8" fill="#91bbde"/><rect x="588.4" width="4.8" height="153.8" fill="#c0d7ec"/><rect x="592.9" width="4.8" height="153.8" fill="#c2d9ed"/><rect x="597.5" width="4.8" height="153.8" fill="#c3daed"/><rect x="602.0" width="4.8" height="153.8" fill="#c0d8ec"/><rect x="606.5" width="4.8" height="153.8" fill="#c1d8ed"/><rect x="611.0" width="4.8" height="153.8" fill="#c0d8ec"/><rect x="615.6" width="4.8" height="153.8" fill="#c1d8ed"/><rect x="620.1" width="4.8" height="153.8" fill="#c3daed"/><rect x="624.6" width="4.8" height="153.8" fill="#c0d8ec"/><rect x="629.1" width="4.8" height="153.8" fill="#c1d8ed"/><rect x="633.7" width="4.8" height="153.8" fill="#c5dbee"/><rect x="638.2" width="4.8" height="153.8" fill="#bdd6ec"/><rect x="642.7" width="4.8" height="153.8" fill="#c3d9ed"/><rect x="647.2" width="4.8" height="153.8" fill="#a7cae6"/><rect x="651.8" width="4.8" height="153.8" fill="#a3c7e4"/><rect x="656.3" width="4.8" height="153.8" fill="#a2c6e4"/><rect x="660.8" width="4.8" height="153.8" fill="#a8cae6"/><rect x="665.3" width="9.4" height="153.8" fill="#a2c6e4"/><rect x="674.4" width="4.8" height="153.8" fill="#a4c8e5"/><rect x="678.9" width="4.8" height="153.8" fill="#a7c9e6"/><rect x="683.4" width="4.8" height="153.8" fill="#a1c5e4"/><rect x="688.0" width="4.8" height="153.8" fill="#a3c7e4"/><rect x="692.5" width="4.8" height="153.8" fill="#a3c7e5"/><rect x="697.0" width="4.8" height="153.8" fill="#a8cae6"/><rect x="701.6" width="4.8" height="153.8" fill="#a4c8e5"/><rect x="706.1" width="4.8" height="153.8" fill="#a9cae6"/><rect x="710.6" width="4.8" height="153.8" fill="#a2c6e4"/><rect x="715.1" width="4.8" height="153.8" fill="#a3c7e5"/><rect x="719.7" width="4.8" height="153.8" fill="#a7c9e5"/><rect x="724.2" width="4.8" height="153.8" fill="#a9cbe6"/><rect x="728.7" width="4.8" height="153.8" fill="#a5c8e5"/><rect x="733.2" width="4.8" height="153.8" fill="#a2c6e4"/><rect x="737.8" width="4.8" height="153.8" fill="#a1c5e4"/><rect x="742.3" width="4.8" height="153.8" fill="#a5c8e5"/><rect x="746.8" width="4.8" height="153.8" fill="#93bcdf"/><rect x="751.3" width="9.4" height="153.8" fill="#99c0e1"/><rect x="760.4" width="4.8" height="153.8" fill="#93bcdf"/><rect x="764.9" width="4.8" height="153.8" fill="#94bcdf"/><rect x="769.4" width="4.8" height="153.8" fill="#e9f2fa"/><rect x="774.0" width="4.8" height="153.8" fill="#e7f1f9"/><rect x="778.5" width="4.8" height="153.8" fill="#e9f2fa"/><rect x="783.0" width="4.8" height="153.8" fill="#e4eff9"/><rect x="787.6" width="4.8" height="153.8" fill="#e2edf8"/><rect x="792.1" width="4.8" height="153.8" fill="#e4eff8"/><rect x="796.6" width="4.8" height="153.8" fill="#e9f2fa"/><rect x="801.1" width="4.8" height="153.8" fill="#e4eef8"/><rect x="805.7" width="4.8" height="153.8" fill="#e4eff9"/><rect x="810.2" width="13.9" height="153.8" fill="#e5eff9"/><rect x="823.8" width="4.8" height="153.8" fill="#eaf3fa"/><rect x="828.3" width="4.8" height="153.8" fill="#e3eef8"/><rect x="832.8" width="4.8" height="153.8" fill="#e1edf8"/><rect x="837.3" width="9.4" height="153.8" fill="#eaf3fa"/><rect x="846.4" width="4.8" height="153.8" fill="#ebf3fa"/><rect x="850.9" width="4.8" height="153.8" fill="#e5f0f9"/><rect x="855.4" width="4.8" height="153.8" fill="#ebf3fa"/><rect x="860.0" width="4.8" height="153.8" fill="#eaf3fa"/><rect x="864.5" width="4.8" height="153.8" fill="#e3eef8"/><rect x="869.0" width="4.8" height="153.8" fill="#e8f2fa"/><rect x="873.5" width="4.8" height="153.8" fill="#e9f2fa"/><rect x="878.1" width="4.8" height="153.8" fill="#e8f1f9"/><defs><linearGradient id="g1" x1="0" y1="0" x2="0" y2="1"><stop offset="0" stop-color="#2c6fb3" stop-opacity="0"/><stop offset=".72" stop-color="#2c6fb3" stop-opacity="0"/><stop offset=".93" stop-color="#2c6fb3" stop-opacity=".22"/><stop offset=".975" stop-color="#2c6fb3" stop-opacity=".42"/><stop offset="1" stop-color="#1f5aa6" stop-opacity=".7"/></linearGradient></defs><rect width="883" height="154" fill="url(#g1)"/><line x1="303.5" y1="0" x2="303.5" y2="153.8" stroke="#8e1f93" stroke-width="2" stroke-dasharray="6.5 3.5"/><line x1="769.2" y1="0" x2="769.2" y2="153.8" stroke="#8e1f93" stroke-width="2" stroke-dasharray="6.5 3.5"/></svg>
<svg style="left:287.8px;top:862.6px" width="882.6" height="153.6" viewBox="0 0 882.6 153.6" shape-rendering="crispEdges"><rect x="0.0" width="4.8" height="153.6" fill="#c8ddf1"/><rect x="4.5" width="4.8" height="153.6" fill="#c6dcf0"/><rect x="9.1" width="4.8" height="153.6" fill="#c7dcf1"/><rect x="13.6" width="4.8" height="153.6" fill="#c6dbf0"/><rect x="18.1" width="4.8" height="153.6" fill="#c5dbf0"/><rect x="22.6" width="4.8" height="153.6" fill="#c9ddf1"/><rect x="27.2" width="4.8" height="153.6" fill="#c6dcf0"/><rect x="31.7" width="4.8" height="153.6" fill="#cadff2"/><rect x="36.2" width="4.8" height="153.6" fill="#c4daf0"/><rect x="40.7" width="4.8" height="153.6" fill="#cbdff2"/><rect x="45.3" width="4.8" height="153.6" fill="#cadef1"/><rect x="49.8" width="13.9" height="153.6" fill="#cbdff2"/><rect x="63.4" width="4.8" height="153.6" fill="#c9ddf1"/><rect x="67.9" width="4.8" height="153.6" fill="#c4daf0"/><rect x="72.4" width="4.8" height="153.6" fill="#cadef2"/><rect x="76.9" width="4.8" height="153.6" fill="#c5dbf0"/><rect x="81.5" width="4.8" height="153.6" fill="#c6dcf1"/><rect x="86.0" width="4.8" height="153.6" fill="#c9def1"/><rect x="90.5" width="4.8" height="153.6" fill="#c8ddf1"/><rect x="95.0" width="4.8" height="153.6" fill="#c7ddf1"/><rect x="99.6" width="4.8" height="153.6" fill="#ccdff2"/><rect x="104.1" width="4.8" height="153.6" fill="#c9def1"/><rect x="108.6" width="4.8" height="153.6" fill="#c7dcf1"/><rect x="113.2" width="4.8" height="153.6" fill="#c6dcf0"/><rect x="117.7" width="4.8" height="153.6" fill="#cbdff2"/><rect x="122.2" width="4.8" height="153.6" fill="#c8ddf1"/><rect x="126.7" width="4.8" height="153.6" fill="#cadff2"/><rect x="131.3" width="4.8" height="153.6" fill="#c7dcf1"/><rect x="135.8" width="4.8" height="153.6" fill="#c6dbf0"/><rect x="140.3" width="4.8" height="153.6" fill="#c8ddf1"/><rect x="144.8" width="4.8" height="153.6" fill="#cbdff2"/><rect x="149.4" width="4.8" height="153.6" fill="#c5dbf0"/><rect x="153.9" width="4.8" height="153.6" fill="#cadff2"/><rect x="158.4" width="4.8" height="153.6" fill="#cbdff2"/><rect x="162.9" width="4.8" height="153.6" fill="#cadff2"/><rect x="167.5" width="4.8" height="153.6" fill="#cbdff2"/><rect x="172.0" width="4.8" height="153.6" fill="#c4daf0"/><rect x="176.5" width="4.8" height="153.6" fill="#c9def1"/><rect x="181.0" width="4.8" height="153.6" fill="#cbdff2"/><rect x="185.6" width="4.8" height="153.6" fill="#c4daf0"/><rect x="190.1" width="9.4" height="153.6" fill="#c6dcf0"/><rect x="199.2" width="4.8" height="153.6" fill="#c8ddf1"/><rect x="203.7" width="4.8" height="153.6" fill="#c7ddf1"/><rect x="208.2" width="4.8" height="153.6" fill="#c8ddf1"/><rect x="212.7" width="4.8" height="153.6" fill="#cadff2"/><rect x="217.3" width="4.8" height="153.6" fill="#c4daf0"/><rect x="221.8" width="4.8" height="153.6" fill="#c4dbf0"/><rect x="226.3" width="13.9" height="153.6" fill="#c5dbf0"/><rect x="239.9" width="4.8" height="153.6" fill="#cce0f2"/><rect x="244.4" width="4.8" height="153.6" fill="#cbdff2"/><rect x="248.9" width="4.8" height="153.6" fill="#c5dbf0"/><rect x="253.5" width="4.8" height="153.6" fill="#c8ddf1"/><rect x="258.0" width="13.9" height="153.6" fill="#c7dcf1"/><rect x="271.6" width="4.8" height="153.6" fill="#c9def1"/><rect x="276.1" width="4.8" height="153.6" fill="#c9ddf1"/><rect x="280.6" width="4.8" height="153.6" fill="#c7dcf1"/><rect x="285.1" width="4.8" height="153.6" fill="#c6dbf0"/><rect x="289.7" width="4.8" height="153.6" fill="#c7dcf1"/><rect x="294.2" width="4.8" height="153.6" fill="#c5dbf0"/><rect x="298.7" width="4.8" height="153.6" fill="#c8ddf1"/><rect x="303.3" width="4.8" height="153.6" fill="#cadef2"/><rect x="307.8" width="4.8" height="153.6" fill="#c7dcf1"/><rect x="312.3" width="9.4" height="153.6" fill="#c5dbf0"/><rect x="321.4" width="4.8" height="153.6" fill="#c7dcf1"/><rect x="325.9" width="4.8" height="153.6" fill="#c9def1"/><rect x="330.4" width="4.8" height="153.6" fill="#cadff2"/><rect x="334.9" width="4.8" height="153.6" fill="#c7dcf1"/><rect x="339.5" width="4.8" height="153.6" fill="#cadff2"/><rect x="344.0" width="4.8" height="153.6" fill="#c9def1"/><rect x="348.5" width="4.8" height="153.6" fill="#c7ddf1"/><rect x="353.0" width="4.8" height="153.6" fill="#c7dcf1"/><rect x="357.6" width="4.8" height="153.6" fill="#c8ddf1"/><rect x="362.1" width="4.8" height="153.6" fill="#cadef1"/><rect x="366.6" width="4.8" height="153.6" fill="#c7ddf1"/><rect x="371.1" width="4.8" height="153.6" fill="#cadef1"/><rect x="375.7" width="4.8" height="153.6" fill="#c8ddf1"/><rect x="380.2" width="4.8" height="153.6" fill="#c6dcf0"/><rect x="384.7" width="4.8" height="153.6" fill="#c8ddf1"/><rect x="389.2" width="4.8" height="153.6" fill="#cadef1"/><rect x="393.8" width="4.8" height="153.6" fill="#c5dbf0"/><rect x="398.3" width="9.4" height="153.6" fill="#c7ddf1"/><rect x="407.4" width="9.4" height="153.6" fill="#cbdff2"/><rect x="416.4" width="4.8" height="153.6" fill="#c7dcf1"/><rect x="420.9" width="4.8" height="153.6" fill="#cbdff2"/><rect x="425.5" width="4.8" height="153.6" fill="#cadff2"/><rect x="430.0" width="4.8" height="153.6" fill="#c6dcf0"/><rect x="434.5" width="4.8" height="153.6" fill="#c8ddf1"/><rect x="439.0" width="4.8" height="153.6" fill="#c5dbf0"/><rect x="443.6" width="4.8" height="153.6" fill="#cbdff2"/><rect x="448.1" width="4.8" height="153.6" fill="#c9def1"/><rect x="452.6" width="4.8" height="153.6" fill="#cbdff2"/><rect x="457.1" width="4.8" height="153.6" fill="#cadff2"/><rect x="461.7" width="4.8" height="153.6" fill="#c9def1"/><rect x="466.2" width="4.8" height="153.6" fill="#cadef2"/><rect x="470.7" width="4.8" height="153.6" fill="#c9ddf1"/><rect x="475.2" width="4.8" height="153.6" fill="#c5dbf0"/><rect x="479.8" width="4.8" height="153.6" fill="#c9ddf1"/><rect x="484.3" width="4.8" height="153.6" fill="#c4daf0"/><rect x="488.8" width="4.8" height="153.6" fill="#c5dbf0"/><rect x="493.4" width="4.8" height="153.6" fill="#cadff2"/><rect x="497.9" width="4.8" height="153.6" fill="#c4daf0"/><rect x="502.4" width="9.4" height="153.6" fill="#c5dbf0"/><rect x="511.5" width="4.8" height="153.6" fill="#cbdff2"/><rect x="516.0" width="4.8" height="153.6" fill="#c5dbf0"/><rect x="520.5" width="4.8" height="153.6" fill="#c4daf0"/><rect x="525.0" width="4.8" height="153.6" fill="#cbdff2"/><rect x="529.6" width="4.8" height="153.6" fill="#c5dbf0"/><rect x="534.1" width="4.8" height="153.6" fill="#cbdff2"/><rect x="538.6" width="4.8" height="153.6" fill="#c9def1"/><rect x="543.1" width="4.8" height="153.6" fill="#cbdff2"/><rect x="547.7" width="4.8" height="153.6" fill="#cce0f2"/><rect x="552.2" width="4.8" height="153.6" fill="#c9ddf1"/><rect x="556.7" width="4.8" height="153.6" fill="#cadff2"/><rect x="561.2" width="4.8" height="153.6" fill="#c4daf0"/><rect x="565.8" width="4.8" height="153.6" fill="#cadef2"/><rect x="570.3" width="4.8" height="153.6" fill="#c8ddf1"/><rect x="574.8" width="4.8" height="153.6" fill="#cadef2"/><rect x="579.3" width="4.8" height="153.6" fill="#c5dbf0"/><rect x="583.9" width="4.8" height="153.6" fill="#cadef2"/><rect x="588.4" width="4.8" height="153.6" fill="#cbdff2"/><rect x="592.9" width="4.8" height="153.6" fill="#c4dbf0"/><rect x="597.5" width="4.8" height="153.6" fill="#c7dcf1"/><rect x="602.0" width="4.8" height="153.6" fill="#c9ddf1"/><rect x="606.5" width="4.8" height="153.6" fill="#cbdff2"/><rect x="611.0" width="4.8" height="153.6" fill="#c6dcf0"/><rect x="615.6" width="4.8" height="153.6" fill="#c5dbf0"/><rect x="620.1" width="4.8" height="153.6" fill="#c6dcf0"/><rect x="624.6" width="4.8" height="153.6" fill="#c9def1"/><rect x="629.1" width="4.8" height="153.6" fill="#cadef2"/><rect x="633.7" width="18.4" height="153.6" fill="#c7dcf1"/><rect x="651.8" width="4.8" height="153.6" fill="#c7ddf1"/><rect x="656.3" width="4.8" height="153.6" fill="#c5dbf0"/><rect x="660.8" width="4.8" height="153.6" fill="#c8ddf1"/><rect x="665.3" width="4.8" height="153.6" fill="#cce0f2"/><rect x="669.9" width="4.8" height="153.6" fill="#c7ddf1"/><rect x="674.4" width="4.8" height="153.6" fill="#cadef2"/><rect x="678.9" width="4.8" height="153.6" fill="#c5dbf0"/><rect x="683.4" width="4.8" height="153.6" fill="#cadef1"/><rect x="688.0" width="4.8" height="153.6" fill="#cadef2"/><rect x="692.5" width="4.8" height="153.6" fill="#c9def1"/><rect x="697.0" width="9.4" height="153.6" fill="#c8ddf1"/><rect x="706.1" width="4.8" height="153.6" fill="#c9def1"/><rect x="710.6" width="4.8" height="153.6" fill="#cbdff2"/><rect x="715.1" width="9.4" height="153.6" fill="#c5dbf0"/><rect x="724.2" width="4.8" height="153.6" fill="#cadef2"/><rect x="728.7" width="4.8" height="153.6" fill="#cbdff2"/><rect x="733.2" width="9.4" height="153.6" fill="#c8ddf1"/><rect x="742.3" width="4.8" height="153.6" fill="#cadef2"/><rect x="746.8" width="4.8" height="153.6" fill="#c5dbf0"/><rect x="751.3" width="4.8" height="153.6" fill="#c6dcf0"/><rect x="755.9" width="4.8" height="153.6" fill="#c6dbf0"/><rect x="760.4" width="4.8" height="153.6" fill="#c9ddf1"/><rect x="764.9" width="4.8" height="153.6" fill="#c7dcf1"/><rect x="769.4" width="4.8" height="153.6" fill="#c6dcf0"/><rect x="774.0" width="4.8" height="153.6" fill="#cadef1"/><rect x="778.5" width="4.8" height="153.6" fill="#cce0f2"/><rect x="783.0" width="4.8" height="153.6" fill="#c6dcf1"/><rect x="787.6" width="4.8" height="153.6" fill="#cadef1"/><rect x="792.1" width="4.8" height="153.6" fill="#c7ddf1"/><rect x="796.6" width="4.8" height="153.6" fill="#cbdff2"/><rect x="801.1" width="4.8" height="153.6" fill="#c9ddf1"/><rect x="805.7" width="4.8" height="153.6" fill="#c6dcf0"/><rect x="810.2" width="4.8" height="153.6" fill="#c6dbf0"/><rect x="814.7" width="4.8" height="153.6" fill="#c4daf0"/><rect x="819.2" width="4.8" height="153.6" fill="#c8ddf1"/><rect x="823.8" width="4.8" height="153.6" fill="#c7dcf1"/><rect x="828.3" width="4.8" height="153.6" fill="#c5dbf0"/><rect x="832.8" width="9.4" height="153.6" fill="#c7dcf1"/><rect x="841.9" width="4.8" height="153.6" fill="#cadff2"/><rect x="846.4" width="4.8" height="153.6" fill="#c5dbf0"/><rect x="850.9" width="4.8" height="153.6" fill="#cce0f2"/><rect x="855.4" width="4.8" height="153.6" fill="#c8ddf1"/><rect x="860.0" width="4.8" height="153.6" fill="#c9def1"/><rect x="864.5" width="4.8" height="153.6" fill="#c8ddf1"/><rect x="869.0" width="9.4" height="153.6" fill="#cbdff2"/><rect x="878.1" width="4.8" height="153.6" fill="#c8ddf1"/><defs><linearGradient id="g2" x1="0" y1="0" x2="0" y2="1"><stop offset="0" stop-color="#3d80c0" stop-opacity="0"/><stop offset=".6" stop-color="#3d80c0" stop-opacity="0.03"/><stop offset=".9" stop-color="#3d80c0" stop-opacity=".22"/><stop offset="1" stop-color="#3d80c0" stop-opacity=".5"/></linearGradient></defs><rect width="883" height="154" fill="url(#g2)"/><line x1="303.5" y1="0" x2="303.5" y2="153.6" stroke="#8e1f93" stroke-width="2" stroke-dasharray="6.5 3.5"/><line x1="769.2" y1="0" x2="769.2" y2="153.6" stroke="#8e1f93" stroke-width="2" stroke-dasharray="6.5 3.5"/></svg>
<svg style="left:0;top:0" width="10" height="10"><text transform="translate(279.5,559.0) rotate(-90)" font-size="19.5" fill="#333" text-anchor="middle" font-family="Liberation Sans">cross entropy</text><text transform="translate(279.5,939.0) rotate(-90)" font-size="19.5" fill="#333" text-anchor="middle" font-family="Liberation Sans">consistency loss</text><text transform="translate(1193.5,491.8) rotate(-90)" font-size="13" fill="#333" text-anchor="middle" font-family="Liberation Sans">150</text><text transform="translate(1193.5,542.8) rotate(-90)" font-size="13" fill="#333" text-anchor="middle" font-family="Liberation Sans">100</text><text transform="translate(1193.5,607.8) rotate(-90)" font-size="13" fill="#333" text-anchor="middle" font-family="Liberation Sans">0 epoch</text><text transform="translate(1193.5,872.6) rotate(-90)" font-size="13" fill="#333" text-anchor="middle" font-family="Liberation Sans">150</text><text transform="translate(1193.5,923.6) rotate(-90)" font-size="13" fill="#333" text-anchor="middle" font-family="Liberation Sans">100</text><text transform="translate(1193.5,988.6) rotate(-90)" font-size="13" fill="#333" text-anchor="middle" font-family="Liberation Sans">0 epoch</text><text transform="translate(294.1,638.0) rotate(-90)" font-size="10" fill="#333" text-anchor="end" font-family="Liberation Sans">0</text><text transform="translate(316.7,638.0) rotate(-90)" font-size="10" fill="#333" text-anchor="end" font-family="Liberation Sans">5</text><text transform="translate(339.3,638.0) rotate(-90)" font-size="10" fill="#333" text-anchor="end" font-family="Liberation Sans">10</text><text transform="translate(362.0,638.0) rotate(-90)" font-size="10" fill="#333" text-anchor="end" font-family="Liberation Sans">15</text><text transform="translate(384.6,638.0) rotate(-90)" font-size="10" fill="#333" text-anchor="end" font-family="Liberation Sans">20</text><text transform="translate(407.2,638.0) rotate(-90)" font-size="10" fill="#333" text-anchor="end" font-family="Liberation Sans">25</text><text transform="translate(429.8,638.0) rotate(-90)" font-size="10" fill="#333" text-anchor="end" font-family="Liberation Sans">30</text><text transform="translate(452.5,638.0) rotate(-90)" font-size="10" fill="#333" text-anchor="end" font-family="Liberation Sans">35</text><text transform="translate(475.1,638.0) rotate(-90)" font-size="10" fill="#333" text-anchor="end" font-family="Liberation Sans">40</text><text transform="translate(497.7,638.0) rotate(-90)" font-size="10" fill="#333" text-anchor="end" font-family="Liberation Sans">45</text><text transform="translate(520.4,638.0) rotate(-90)" font-size="10" fill="#333" text-anchor="end" font-family="Liberation Sans">50</text><text transform="translate(543.0,638.0) rotate(-90)" font-size="10" fill="#333" text-anchor="end" font-family="Liberation Sans">55</text><text transform="translate(565.6,638.0) rotate(-90)" font-size="10" fill="#333" text-anchor="end" font-family="Liberation Sans">60</text><text transform="translate(588.3,638.0) rotate(-90)" font-size="10" fill="#333" text-anchor="end" font-family="Liberation Sans">65</text><text transform="translate(610.9,638.0) rotate(-90)" font-size="10" fill="#333" text-anchor="end" font-family="Liberation Sans">70</text><text transform="translate(633.5,638.0) rotate(-90)" font-size="10" fill="#333" text-anchor="end" font-family="Liberation Sans">75</text><text transform="translate(656.2,638.0) rotate(-90)" font-size="10" fill="#333" text-anchor="end" font-family="Liberation Sans">80</text><text transform="translate(678.8,638.0) rotate(-90)" font-size="10" fill="#333" text-anchor="end" font-family="Liberation Sans">85</text><text transform="translate(701.4,638.0) rotate(-90)" font-size="10" fill="#333" text-anchor="end" font-family="Liberation Sans">90</text><text transform="translate(724.0,638.0) rotate(-90)" font-size="10" fill="#333" text-anchor="end" font-family="Liberation Sans">95</text><text transform="translate(746.7,638.0) rotate(-90)" font-size="10" fill="#333" text-anchor="end" font-family="Liberation Sans">100</text><text transform="translate(769.3,638.0) rotate(-90)" font-size="10" fill="#333" text-anchor="end" font-family="Liberation Sans">105</text><text transform="translate(791.9,638.0) rotate(-90)" font-size="10" fill="#333" text-anchor="end" font-family="Liberation Sans">110</text><text transform="translate(814.6,638.0) rotate(-90)" font-size="10" fill="#333" text-anchor="end" font-family="Liberation Sans">115</text><text transform="translate(837.2,638.0) rotate(-90)" font-size="10" fill="#333" text-anchor="end" font-family="Liberation Sans">120</text><text transform="translate(859.8,638.0) rotate(-90)" font-size="10" fill="#333" text-anchor="end" font-family="Liberation Sans">125</text><text transform="translate(882.5,638.0) rotate(-90)" font-size="10" fill="#333" text-anchor="end" font-family="Liberation Sans">130</text><text transform="translate(905.1,638.0) rotate(-90)" font-size="10" fill="#333" text-anchor="end" font-family="Liberation Sans">135</text><text transform="translate(927.7,638.0) rotate(-90)" font-size="10" fill="#333" text-anchor="end" font-family="Liberation Sans">140</text><text transform="translate(950.4,638.0) rotate(-90)" font-size="10" fill="#333" text-anchor="end" font-family="Liberation Sans">145</text><text transform="translate(973.0,638.0) rotate(-90)" font-size="10" fill="#333" text-anchor="end" font-family="Liberation Sans">150</text><text transform="translate(995.6,638.0) rotate(-90)" font-size="10" fill="#333" text-anchor="end" font-family="Liberation Sans">155</text><text transform="translate(1018.2,638.0) rotate(-90)" font-size="10" fill="#333" text-anchor="end" font-family="Liberation Sans">160</text><text transform="translate(1040.9,638.0) rotate(-90)" font-size="10" fill="#333" text-anchor="end" font-family="Liberation Sans">165</text><text transform="translate(1063.5,638.0) rotate(-90)" font-size="10" fill="#333" text-anchor="end" font-family="Liberation Sans">170</text><text transform="translate(1086.1,638.0) rotate(-90)" font-size="10" fill="#333" text-anchor="end" font-family="Liberation Sans">175</text><text transform="translate(1108.8,638.0) rotate(-90)" font-size="10" fill="#333" text-anchor="end" font-family="Liberation Sans">180</text><text transform="translate(1131.4,638.0) rotate(-90)" font-size="10" fill="#333" text-anchor="end" font-family="Liberation Sans">185</text><text transform="translate(1154.0,638.0) rotate(-90)" font-size="10" fill="#333" text-anchor="end" font-family="Liberation Sans">190</text><text x="591" y="479.5" font-size="9.5" fill="#8e1f93" text-anchor="middle" font-family="Liberation Sans">67</text><text x="1057" y="479.5" font-size="9.5" fill="#8e1f93" text-anchor="middle" font-family="Liberation Sans">170</text></svg>
<svg style="left:1224.6px;top:482.0px" width="67.6" height="163.5" viewBox="0 0 67.6 163.5"><defs><linearGradient id="cb1" x1="0" y1="0" x2="0" y2="1"><stop offset="0" stop-color="#1d4f91"/><stop offset=".25" stop-color="#4b8cc6"/><stop offset=".6" stop-color="#a9cbe6"/><stop offset="1" stop-color="#f3f8fd"/></linearGradient></defs><rect width="7.6" height="153.5" fill="url(#cb1)"/><rect x="7.6" y="9.7" width="7" height="1.6" fill="#222"/><text x="19.6" y="14.5" font-size="10.5" fill="#333" font-family="Liberation Sans">10<tspan dy="-4" font-size="7.5">0</tspan></text><rect x="7.6" y="11.6" width="4" height="1" fill="#333"/><rect x="7.6" y="13.4" width="4" height="1" fill="#333"/><rect x="7.6" y="15.5" width="4" height="1" fill="#333"/><rect x="7.6" y="17.8" width="4" height="1" fill="#333"/><rect x="7.6" y="20.6" width="4" height="1" fill="#333"/><rect x="7.6" y="24.0" width="4" height="1" fill="#333"/><rect x="7.6" y="28.4" width="4" height="1" fill="#333"/><rect x="7.6" y="34.6" width="4" height="1" fill="#333"/><rect x="7.6" y="45.0" width="7" height="1.6" fill="#222"/><text x="19.6" y="49.8" font-size="10.5" fill="#333" font-family="Liberation Sans">10<tspan dy="-4" font-size="7.5">−1</tspan></text><rect x="7.6" y="46.9" width="4" height="1" fill="#333"/><rect x="7.6" y="48.7" width="4" height="1" fill="#333"/><rect x="7.6" y="50.7" width="4" height="1" fill="#333"/><rect x="7.6" y="53.1" width="4" height="1" fill="#333"/><rect x="7.6" y="55.9" width="4" height="1" fill="#333"/><rect x="7.6" y="59.3" width="4" height="1" fill="#333"/><rect x="7.6" y="63.7" width="4" height="1" fill="#333"/><rect x="7.6" y="69.9" width="4" height="1" fill="#333"/><rect x="7.6" y="80.2" width="7" height="1.6" fill="#222"/><text x="19.6" y="85.0" font-size="10.5" fill="#333" font-family="Liberation Sans">10<tspan dy="-4" font-size="7.5">−2</tspan></text><rect x="7.6" y="82.1" width="4" height="1" fill="#333"/><rect x="7.6" y="83.9" width="4" height="1" fill="#333"/><rect x="7.6" y="86.0" width="4" height="1" fill="#333"/><rect x="7.6" y="88.3" width="4" height="1" fill="#333"/><rect x="7.6" y="91.1" width="4" height="1" fill="#333"/><rect x="7.6" y="94.5" width="4" height="1" fill="#333"/><rect x="7.6" y="98.9" width="4" height="1" fill="#333"/><rect x="7.6" y="105.1" width="4" height="1" fill="#333"/><rect x="7.6" y="115.5" width="7" height="1.6" fill="#222"/><text x="19.6" y="120.2" font-size="10.5" fill="#333" font-family="Liberation Sans">10<tspan dy="-4" font-size="7.5">−3</tspan></text><rect x="7.6" y="117.4" width="4" height="1" fill="#333"/><rect x="7.6" y="119.2" width="4" height="1" fill="#333"/><rect x="7.6" y="121.2" width="4" height="1" fill="#333"/><rect x="7.6" y="123.6" width="4" height="1" fill="#333"/><rect x="7.6" y="126.4" width="4" height="1" fill="#333"/><rect x="7.6" y="129.8" width="4" height="1" fill="#333"/><rect x="7.6" y="134.2" width="4" height="1" fill="#333"/><rect x="7.6" y="140.4" width="4" height="1" fill="#333"/><rect x="7.6" y="150.7" width="7" height="1.6" fill="#222"/><text x="19.6" y="155.5" font-size="10.5" fill="#333" font-family="Liberation Sans">10<tspan dy="-4" font-size="7.5">−4</tspan></text></svg>
<svg style="left:1224.6px;top:862.8px" width="67.6" height="163.5" viewBox="0 0 67.6 163.5"><defs><linearGradient id="cb2" x1="0" y1="0" x2="0" y2="1"><stop offset="0" stop-color="#1d4f91"/><stop offset=".25" stop-color="#4b8cc6"/><stop offset=".6" stop-color="#a9cbe6"/><stop offset="1" stop-color="#f3f8fd"/></linearGradient></defs><rect width="7.6" height="153.5" fill="url(#cb2)"/><rect x="7.6" y="9.7" width="7" height="1.6" fill="#222"/><text x="19.6" y="14.5" font-size="10.5" fill="#333" font-family="Liberation Sans">10<tspan dy="-4" font-size="7.5">0</tspan></text><rect x="7.6" y="11.6" width="4" height="1" fill="#333"/><rect x="7.6" y="13.4" width="4" height="1" fill="#333"/><rect x="7.6" y="15.5" width="4" height="1" fill="#333"/><rect x="7.6" y="17.8" width="4" height="1" fill="#333"/><rect x="7.6" y="20.6" width="4" height="1" fill="#333"/><rect x="7.6" y="24.0" width="4" height="1" fill="#333"/><rect x="7.6" y="28.4" width="4" height="1" fill="#333"/><rect x="7.6" y="34.6" width="4" height="1" fill="#333"/><rect x="7.6" y="45.0" width="7" height="1.6" fill="#222"/><text x="19.6" y="49.8" font-size="10.5" fill="#333" font-family="Liberation Sans">10<tspan dy="-4" font-size="7.5">−1</tspan></text><rect x="7.6" y="46.9" width="4" height="1" fill="#333"/><rect x="7.6" y="48.7" width="4" height="1" fill="#333"/><rect x="7.6" y="50.7" width="4" height="1" fill="#333"/><rect x="7.6" y="53.1" width="4" height="1" fill="#333"/><rect x="7.6" y="55.9" width="4" height="1" fill="#333"/><rect x="7.6" y="59.3" width="4" height="1" fill="#333"/><rect x="7.6" y="63.7" width="4" height="1" fill="#333"/><rect x="7.6" y="69.9" width="4" height="1" fill="#333"/><rect x="7.6" y="80.2" width="7" height="1.6" fill="#222"/><text x="19.6" y="85.0" font-size="10.5" fill="#333" font-family="Liberation Sans">10<tspan dy="-4" font-size="7.5">−2</tspan></text><rect x="7.6" y="82.1" width="4" height="1" fill="#333"/><rect x="7.6" y="83.9" width="4" height="1" fill="#333"/><rect x="7.6" y="86.0" width="4" height="1" fill="#333"/><rect x="7.6" y="88.3" width="4" height="1" fill="#333"/><rect x="7.6" y="91.1" width="4" height="1" fill="#333"/><rect x="7.6" y="94.5" width="4" height="1" fill="#333"/><rect x="7.6" y="98.9" width="4" height="1" fill="#333"/><rect x="7.6" y="105.1" width="4" height="1" fill="#333"/><rect x="7.6" y="115.5" width="7" height="1.6" fill="#222"/><text x="19.6" y="120.2" font-size="10.5" fill="#333" font-family="Liberation Sans">10<tspan dy="-4" font-size="7.5">−3</tspan></text><rect x="7.6" y="117.4" width="4" height="1" fill="#333"/><rect x="7.6" y="119.2" width="4" height="1" fill="#333"/><rect x="7.6" y="121.2" width="4" height="1" fill="#333"/><rect x="7.6" y="123.6" width="4" height="1" fill="#333"/><rect x="7.6" y="126.4" width="4" height="1" fill="#333"/><rect x="7.6" y="129.8" width="4" height="1" fill="#333"/><rect x="7.6" y="134.2" width="4" height="1" fill="#333"/><rect x="7.6" y="140.4" width="4" height="1" fill="#333"/><rect x="7.6" y="150.7" width="7" height="1.6" fill="#222"/><text x="19.6" y="155.5" font-size="10.5" fill="#333" font-family="Liberation Sans">10<tspan dy="-4" font-size="7.5">−4</tspan></text></svg>
<svg style="left:0;top:0" width="10" height="10"><path d="M1292.5 476.5L1307.25 534.5H1297.75V632H1287.25V534.5H1277.75Z" fill="#000"/></svg>
<svg style="left:0;top:0" width="10" height="10"><path d="M1292.5 861.5L1307.25 919.5H1297.75V1017.5H1287.25V919.5H1277.75Z" fill="#000"/></svg>
<div class="L" style="left:1316.0px;top:328.7px;transform:scaleX(0.9554);"><u></u><span class="b" style="font-size:27.5px;color:#111;-webkit-text-stroke:.4px #111">Training</span></div>
<div class="L" style="left:1332.0px;top:362.4px;transform:scaleX(0.9412);"><u></u><span class="b" style="font-size:27.5px;color:#111;-webkit-text-stroke:.4px #111">steps</span></div>
<div class="L" style="left:1319.0px;top:402.8px;transform:scaleX(0.9220);"><u></u><span class="r blk" style="font-size:34px;color:#000;"><span class="m">t</span> <span class="r" style="display:inline-block;width:.74em;height:0;position:relative;margin:0 .05em"><svg style="left:.04em;top:-.6em" width=".64em" height=".62em" viewBox="0 0 20 19"><path d="M19 1.2H9.5a8.3 8.3 0 0 0 0 16.6H19M1.4 9.5H19" fill="none" stroke="currentColor" stroke-width="1.7"/></svg></span> <span class="r">[</span><span class="m">T</span><span class="r">]</span></span></div>
<div class="L" style="left:1316.0px;top:713.4px;transform:scaleX(0.9554);"><u></u><span class="b" style="font-size:27.5px;color:#111;-webkit-text-stroke:.4px #111">Training</span></div>
<div class="L" style="left:1332.0px;top:747.1px;transform:scaleX(0.9412);"><u></u><span class="b" style="font-size:27.5px;color:#111;-webkit-text-stroke:.4px #111">steps</span></div>
<div class="L" style="left:1319.0px;top:787.5px;transform:scaleX(0.9220);"><u></u><span class="r blk" style="font-size:34px;color:#000;"><span class="m">t</span> <span class="r" style="display:inline-block;width:.74em;height:0;position:relative;margin:0 .05em"><svg style="left:.04em;top:-.6em" width=".64em" height=".62em" viewBox="0 0 20 19"><path d="M19 1.2H9.5a8.3 8.3 0 0 0 0 16.6H19M1.4 9.5H19" fill="none" stroke="currentColor" stroke-width="1.7"/></svg></span> <span class="r">[</span><span class="m">T</span><span class="r">]</span></span></div>
<div class="L" style="left:425.5px;top:329.0px;transform:scaleX(0.9103);"><u></u><span class="m blk" style="font-size:41px;color:#000;-webkit-text-stroke:.35px #000"><span class="m">P</span><span class="r" style="font-size:66%;position:relative;top:.3em">0</span></span></div>
<div class="L" style="left:830.0px;top:329.0px;transform:scaleX(0.8205);"><u></u><span class="m blk" style="font-size:41px;color:#000;-webkit-text-stroke:.35px #000"><span class="m">P</span><span class="r" style="font-size:66%;position:relative;top:.3em">1</span></span></div>
<div class="L" style="left:1102.0px;top:329.0px;transform:scaleX(0.8974);"><u></u><span class="m blk" style="font-size:41px;color:#000;-webkit-text-stroke:.35px #000"><span class="m">P</span><span class="r" style="font-size:66%;position:relative;top:.3em">0</span></span></div>
<div class="L" style="left:602.0px;top:396.0px;transform:scaleX(1.0068);"><u></u><span class="m blk" style="font-size:37px;color:#000;-webkit-text-stroke:.35px #000"><span class="m">ℓ</span><span class="m" style="font-size:72%;position:relative;top:.3em">CE</span><span class="r">(</span><span class="m">x, y</span><span class="r">)</span> <span class="b" style="font-style:normal;color:#000;-webkit-text-stroke:.4px #000;font-size:86%">depending on</span> <span class="m">P</span><span class="r">(</span><span class="m">y</span><span class="r"> | </span><span class="m">x</span><span class="r">)</span></span></div>
<div class="L" style="left:606.5px;top:758.6px;"><u></u><span class="m blk" style="font-size:37px;color:#000;-webkit-text-stroke:.35px #000"><span class="m">ℓ</span><span class="m" style="font-size:72%;position:relative;top:.3em">AC</span><span class="r">(</span><span class="m">x</span><span class="r">)</span> <span class="b" style="font-style:normal;color:#000;-webkit-text-stroke:.4px #000;font-size:86%">depending only on</span> <span class="m">P</span><span class="r">(</span><span class="m">x</span><span class="r">)</span></span></div>
<svg style="left:289.3px;top:697.9px" width="134.3" height="134.3" viewBox="0 0 100 100"><rect width="100" height="100" fill="#020202"/><path d="M0 86 Q50 97 100 86" fill="none" stroke="#3a3a3a" stroke-width=".8"/><path d="M0 91 Q50 101 100 91" fill="none" stroke="#2e2e2e" stroke-width=".7"/><path d="M2 92.5h3l4 6" fill="none" stroke="#bbb" stroke-width=".6"/><path d="M98 93l-5 6" stroke="#888" stroke-width=".6"/><ellipse cx="50.7" cy="53.5" rx="47" ry="29.5" fill="#161616" stroke="#3a3a3a" stroke-width=".7"/><ellipse cx="52" cy="52" rx="37.7" ry="22" fill="#0b0b0b" stroke="#6e6e6e" stroke-width="2.6"/><circle cx="68.2" cy="42.4" r="2.2" fill="#666666"/><circle cx="36.0" cy="39.3" r="2.7" fill="#777777"/><circle cx="58.6" cy="52.0" r="2.0" fill="#555555"/><circle cx="41.4" cy="56.6" r="2.5" fill="#888888"/><circle cx="57.7" cy="54.3" r="2.3" fill="#777777"/><circle cx="65.3" cy="50.7" r="2.4" fill="#888888"/><circle cx="54.7" cy="51.0" r="2.0" fill="#666666"/><circle cx="59.2" cy="54.7" r="2.3" fill="#777777"/><circle cx="51.2" cy="54.6" r="2.2" fill="#555555"/><circle cx="54.3" cy="56.6" r="2.2" fill="#999999"/><circle cx="70.6" cy="47.6" r="2.2" fill="#777777"/><circle cx="47.9" cy="42.3" r="3.3" fill="#888888"/><circle cx="61.4" cy="44.9" r="2.1" fill="#888888"/><circle cx="35.4" cy="51.7" r="2.9" fill="#555555"/><circle cx="69.2" cy="46.8" r="2.2" fill="#777777"/><circle cx="56.8" cy="45.7" r="2.5" fill="#666666"/><circle cx="74.8" cy="46.6" r="3.1" fill="#555555"/><circle cx="46.0" cy="56.0" r="2.9" fill="#777777"/><circle cx="40.1" cy="50.5" r="3.1" fill="#555555"/><circle cx="64.9" cy="56.0" r="2.3" fill="#999999"/><circle cx="70.7" cy="50.9" r="2.3" fill="#555555"/><circle cx="36.1" cy="38.7" r="2.9" fill="#777777"/><circle cx="54.1" cy="43.4" r="2.6" fill="#999999"/><circle cx="57.2" cy="47.2" r="3.2" fill="#999999"/><circle cx="70.4" cy="40.8" r="2.2" fill="#888888"/><circle cx="44.8" cy="49.5" r="3.2" fill="#666666"/><circle cx="26" cy="56" r="3.6" fill="#f4f4f4"/><circle cx="30" cy="60" r="3.2" fill="#f4f4f4"/><circle cx="73" cy="57" r="2.6" fill="#f4f4f4"/><circle cx="78" cy="54" r="2.4" fill="#f4f4f4"/><circle cx="76" cy="60" r="2.2" fill="#f4f4f4"/><circle cx="68" cy="58" r="1.8" fill="#f4f4f4"/><circle cx="37" cy="53" r="1.6" fill="#f4f4f4"/><ellipse cx="40" cy="63" rx="4.2" ry="4.5" fill="#686868"/><ellipse cx="62.5" cy="63" rx="4.2" ry="4.5" fill="#686868"/><ellipse cx="42" cy="78" rx="11" ry="6.8" fill="#6a6a6a"/><ellipse cx="60" cy="78" rx="11" ry="6.8" fill="#6a6a6a"/><ellipse cx="51" cy="63.5" rx="4.8" ry="4.2" fill="#bdbdbd"/><ellipse cx="51" cy="64.5" rx="2.6" ry="1.6" fill="#6a6a6a"/><path d="M44 72 L49 67 H53 L58 72 L53 71 V80 H49 V71Z" fill="#efefef"/></svg>
<div class="L" style="left:310.2px;top:491.2px;transform:scaleX(1.0632);"><u></u><span class="b" style="font-size:13px;color:#333;">case40 slice67</span></div>
<svg style="left:438.1px;top:697.9px" width="134.3" height="134.3" viewBox="0 0 100 100"><rect width="100" height="100" fill="#020202"/><path d="M0 86 Q50 97 100 86" fill="none" stroke="#3a3a3a" stroke-width=".8"/><path d="M0 91 Q50 101 100 91" fill="none" stroke="#2e2e2e" stroke-width=".7"/><path d="M2 92.5h3l4 6" fill="none" stroke="#bbb" stroke-width=".6"/><path d="M98 93l-5 6" stroke="#888" stroke-width=".6"/><ellipse cx="50.7" cy="53.5" rx="47" ry="29.5" fill="#161616" stroke="#3a3a3a" stroke-width=".7"/><ellipse cx="52" cy="52" rx="37.7" ry="22" fill="#0b0b0b" stroke="#6e6e6e" stroke-width="2.6"/><circle cx="62.0" cy="54.1" r="2.6" fill="#777777"/><circle cx="56.6" cy="56.0" r="2.1" fill="#999999"/><circle cx="30.6" cy="45.4" r="2.4" fill="#555555"/><circle cx="46.7" cy="45.7" r="3.3" fill="#666666"/><circle cx="47.1" cy="41.4" r="2.8" fill="#888888"/><circle cx="63.5" cy="48.1" r="2.9" fill="#888888"/><circle cx="37.2" cy="38.6" r="2.0" fill="#555555"/><circle cx="55.0" cy="44.2" r="2.5" fill="#555555"/><circle cx="40.5" cy="45.4" r="2.0" fill="#888888"/><circle cx="44.4" cy="41.6" r="1.9" fill="#666666"/><circle cx="58.3" cy="54.6" r="3.4" fill="#999999"/><circle cx="67.2" cy="50.0" r="3.1" fill="#999999"/><circle cx="59.5" cy="56.9" r="2.5" fill="#999999"/><circle cx="42.4" cy="51.5" r="2.3" fill="#888888"/><circle cx="41.6" cy="47.4" r="2.1" fill="#555555"/><circle cx="46.5" cy="36.4" r="2.6" fill="#555555"/><circle cx="32.2" cy="44.3" r="2.7" fill="#666666"/><circle cx="41.2" cy="56.9" r="2.1" fill="#555555"/><circle cx="57.9" cy="51.5" r="2.4" fill="#777777"/><circle cx="42.7" cy="44.3" r="2.1" fill="#555555"/><circle cx="59.5" cy="45.4" r="2.4" fill="#888888"/><circle cx="44.1" cy="39.6" r="2.5" fill="#666666"/><circle cx="77.5" cy="46.3" r="1.8" fill="#999999"/><circle cx="43.1" cy="52.4" r="3.3" fill="#666666"/><circle cx="52.4" cy="54.1" r="3.1" fill="#888888"/><circle cx="54.3" cy="40.7" r="1.9" fill="#777777"/><circle cx="26" cy="56" r="3.6" fill="#f4f4f4"/><circle cx="30" cy="60" r="3.2" fill="#f4f4f4"/><circle cx="73" cy="57" r="2.6" fill="#f4f4f4"/><circle cx="78" cy="54" r="2.4" fill="#f4f4f4"/><circle cx="76" cy="60" r="2.2" fill="#f4f4f4"/><circle cx="68" cy="58" r="1.8" fill="#f4f4f4"/><circle cx="37" cy="53" r="1.6" fill="#f4f4f4"/><ellipse cx="40" cy="63" rx="4.2" ry="4.5" fill="#686868"/><ellipse cx="62.5" cy="63" rx="4.2" ry="4.5" fill="#686868"/><ellipse cx="42" cy="78" rx="11" ry="6.8" fill="#6a6a6a"/><ellipse cx="60" cy="78" rx="11" ry="6.8" fill="#6a6a6a"/><ellipse cx="51" cy="63.5" rx="4.8" ry="4.2" fill="#bdbdbd"/><ellipse cx="51" cy="64.5" rx="2.6" ry="1.6" fill="#6a6a6a"/><path d="M44 72 L49 67 H53 L58 72 L53 71 V80 H49 V71Z" fill="#efefef"/><path d="M15 50 Q17 42 24.5 36.5 Q24 42 17.5 53.5Z" fill="#e53ef5"/></svg>
<div class="L" style="left:459.0px;top:491.2px;transform:scaleX(1.0632);"><u></u><span class="b" style="font-size:13px;color:#333;">case40 slice72</span></div>
<svg style="left:587.0px;top:697.9px" width="134.3" height="134.3" viewBox="0 0 100 100"><rect width="100" height="100" fill="#020202"/><path d="M0 86 Q50 97 100 86" fill="none" stroke="#3a3a3a" stroke-width=".8"/><path d="M0 91 Q50 101 100 91" fill="none" stroke="#2e2e2e" stroke-width=".7"/><path d="M2 92.5h3l4 6" fill="none" stroke="#bbb" stroke-width=".6"/><path d="M98 93l-5 6" stroke="#888" stroke-width=".6"/><ellipse cx="51" cy="52.5" rx="46.2" ry="32" fill="#181818" stroke="#3a3a3a" stroke-width=".7"/><ellipse cx="51.5" cy="53" rx="40.5" ry="26" fill="#101010" stroke="#8a8a8a" stroke-width="1.3" stroke-dasharray="5 2.5"/><ellipse cx="52" cy="72" rx="24" ry="7.5" fill="#6c6c6c"/><ellipse cx="45" cy="52" rx="8" ry="5" fill="#8a8a8a"/><path d="M17 66 Q11 52 15 44 Q19 37 27 35 L36 31.5 L36.5 36 L38 33 L61 30.2 Q60 36 57.5 40 L47 42.5 L36 42 L34 46 L45 48 L44 53 Q34 56 28 60 Q22 63 17 66Z" fill="#e53ef5"/><path d="M58.5 40 Q60 31 69 31 Q79 33 78 45 Q76 54 68 54.5 Q60 52 58.5 40Z" fill="#f0a33a"/><path d="M43.5 47 Q46 43 52 43 Q58 44 62 50 L67 57 Q63 58 60 55 Q54 49 44 49.5Z" fill="#f8ec3a"/><ellipse cx="29" cy="64" rx="7.6" ry="5.6" fill="#4fe0f0"/><path d="M58 59 Q63 56 69 59 Q70 67 64 69 Q57 68 58 59Z" fill="#e23b2a"/><circle cx="51.6" cy="55.5" r="2.3" fill="#1c1ce6"/><path d="M66.5 71 Q72 63 85 56.5 Q85 64 77 69 Q71 72 66.5 71Z" fill="#8a1d9c"/><ellipse cx="48.5" cy="63" rx="4.4" ry="4.6" fill="#c9c9c9"/><ellipse cx="48.5" cy="63.5" rx="2.2" ry="2" fill="#6a6a6a"/><rect x="47.6" y="67" width="1.8" height="11" fill="#e8e8e8"/></svg>
<div class="L" style="left:607.9px;top:491.2px;transform:scaleX(0.9840);"><u></u><span class="b" style="font-size:13px;color:#333;">case40 slice102</span></div>
<svg style="left:735.8px;top:697.9px" width="134.3" height="134.3" viewBox="0 0 100 100"><rect width="100" height="100" fill="#020202"/><path d="M0 86 Q50 97 100 86" fill="none" stroke="#3a3a3a" stroke-width=".8"/><path d="M0 91 Q50 101 100 91" fill="none" stroke="#2e2e2e" stroke-width=".7"/><path d="M2 92.5h3l4 6" fill="none" stroke="#bbb" stroke-width=".6"/><path d="M98 93l-5 6" stroke="#888" stroke-width=".6"/><ellipse cx="50" cy="52.5" rx="41" ry="30" fill="#181818" stroke="#3a3a3a" stroke-width=".7"/><ellipse cx="50.5" cy="52" rx="36.8" ry="22.5" fill="#080808" stroke="#c8c8c8" stroke-width="1.3" stroke-dasharray="6 2"/><ellipse cx="50" cy="75" rx="22" ry="5" fill="#6c6c6c"/><ellipse cx="58" cy="39.5" rx="9.5" ry="6.5" fill="#9a9a9a"/><ellipse cx="46" cy="36" rx="16" ry="3" fill="#555"/><path d="M17.5 58 Q15 45 25 40 Q36 36.5 47 40.5 Q51 43 49.5 47 Q45 52 41 58 Q35 68 26 68.5 Q19 67 17.5 58Z" fill="#e53ef5"/><path d="M57.5 54 Q58 45 68 43.5 Q79 45 80 57 Q79 66 68 67.7 Q58 66 57.5 54Z" fill="#f0a33a"/><circle cx="53.7" cy="57.5" r="2.9" fill="#1c1ce6"/><ellipse cx="44" cy="48" rx="3.2" ry="1.6" fill="#aaa"/><path d="M66 69.5l10 -2.5v1.5l-10 2.5z" fill="#b02cc0"/><ellipse cx="49" cy="67.5" rx="4.6" ry="4.8" fill="#e2e2e2"/><ellipse cx="49" cy="68" rx="2.1" ry="1.9" fill="#555"/></svg>
<div class="L" style="left:756.7px;top:491.2px;transform:scaleX(0.9840);"><u></u><span class="b" style="font-size:13px;color:#333;">case40 slice122</span></div>
<svg style="left:884.7px;top:697.9px" width="134.3" height="134.3" viewBox="0 0 100 100"><rect width="100" height="100" fill="#020202"/><path d="M0 86 Q50 97 100 86" fill="none" stroke="#3a3a3a" stroke-width=".8"/><path d="M0 91 Q50 101 100 91" fill="none" stroke="#2e2e2e" stroke-width=".7"/><path d="M2 92.5h3l4 6" fill="none" stroke="#bbb" stroke-width=".6"/><path d="M98 93l-5 6" stroke="#888" stroke-width=".6"/><path d="M20 32 Q35 23 50 30 Q65 23 80 32" fill="none" stroke="#2c2c2c" stroke-width=".8"/><path d="M4 56 Q6 49 15 49 Q24 50 23 60 L30 72 Q50 82 70 72 L77 60 Q76 50 85 49 Q94 49 96 56 Q97 64 88 67 Q75 78 50 80 Q25 78 12 67 Q3 64 4 56Z" fill="#737373"/><ellipse cx="51" cy="52" rx="30.5" ry="19.5" fill="#7a7a7a" stroke="#cfcfcf" stroke-width="1"/><ellipse cx="35.8" cy="52" rx="13.4" ry="17" fill="#030303"/><ellipse cx="69" cy="52" rx="12.4" ry="17" fill="#030303"/><path d="M14 58 L28 71" stroke="#eee" stroke-width="1.5"/><path d="M87 58 L73 71" stroke="#eee" stroke-width="1.5"/><ellipse cx="50.5" cy="65" rx="3.6" ry="4.4" fill="#e6e6e6"/><ellipse cx="50.5" cy="65.5" rx="1.6" ry="1.6" fill="#555"/><path d="M45 33.5 Q51 31 57 33.5" fill="none" stroke="#ddd" stroke-width="1.3"/><circle cx="47" cy="44.5" r="3" fill="#e8e8e8"/><path d="M49.5 41 Q53 38.5 57 43 Q62 50 61.5 56 Q60 60 56.5 59 Q56 52 53 47 Q50 45 49.5 41Z" fill="#2020e0"/></svg>
<div class="L" style="left:905.6px;top:491.2px;transform:scaleX(0.9840);"><u></u><span class="b" style="font-size:13px;color:#333;">case40 slice167</span></div>
<svg style="left:1033.5px;top:697.9px" width="134.3" height="134.3" viewBox="0 0 100 100"><rect width="100" height="100" fill="#020202"/><path d="M0 86 Q50 97 100 86" fill="none" stroke="#3a3a3a" stroke-width=".8"/><path d="M0 91 Q50 101 100 91" fill="none" stroke="#2e2e2e" stroke-width=".7"/><path d="M2 92.5h3l4 6" fill="none" stroke="#bbb" stroke-width=".6"/><path d="M98 93l-5 6" stroke="#888" stroke-width=".6"/><path d="M20 32 Q35 23 50 30 Q65 23 80 32" fill="none" stroke="#2c2c2c" stroke-width=".8"/><path d="M4 56 Q6 49 15 49 Q24 50 23 60 L30 72 Q50 82 70 72 L77 60 Q76 50 85 49 Q94 49 96 56 Q97 64 88 67 Q75 78 50 80 Q25 78 12 67 Q3 64 4 56Z" fill="#737373"/><ellipse cx="51" cy="52" rx="30.5" ry="19.5" fill="#7a7a7a" stroke="#cfcfcf" stroke-width="1"/><ellipse cx="35.8" cy="52" rx="13.4" ry="17" fill="#030303"/><ellipse cx="69" cy="52" rx="12.4" ry="17" fill="#030303"/><path d="M14 58 L28 71" stroke="#eee" stroke-width="1.5"/><path d="M87 58 L73 71" stroke="#eee" stroke-width="1.5"/><ellipse cx="50.5" cy="65" rx="3.6" ry="4.4" fill="#e6e6e6"/><ellipse cx="50.5" cy="65.5" rx="1.6" ry="1.6" fill="#555"/><path d="M45 33.5 Q51 31 57 33.5" fill="none" stroke="#ddd" stroke-width="1.3"/><circle cx="48" cy="44" r="3" fill="#e8e8e8"/><circle cx="52.5" cy="42" r="2.6" fill="#dcdcdc"/><circle cx="55.5" cy="46" r="2" fill="#d0d0d0"/></svg>
<div class="L" style="left:1054.5px;top:491.2px;transform:scaleX(0.9840);"><u></u><span class="b" style="font-size:13px;color:#333;">case40 slice170</span></div>
<svg style="left:0;top:0" width="10" height="10"><path d="M290 1038.7l42 -12v8.2H1126v-8.2l42 12l-42 12v-8.2H332v8.2z" fill="#000"/></svg>
<svg style="left:0;top:0" width="10" height="10"><ellipse cx="669.6" cy="1132" rx="27.6" ry="73" fill="#dbe7f6" opacity=".85"/><ellipse cx="816" cy="1132" rx="27" ry="71" fill="#e6eef9"/><ellipse cx="749.6" cy="1132" rx="24" ry="73" fill="#a3c6e7"/><ellipse cx="722.7" cy="1131.8" rx="46.7" ry="50" fill="#c5c5c5"/><path d="M700 1095 Q680 1100 677 1115 Q680 1125 695 1124 L695 1130 L668 1130 L668 1136 L695 1136 L695 1140 Q678 1142 678 1152 Q684 1170 700 1172Z" fill="#aab6c8"/><path d="M746 1118 Q742 1090 772 1087 Q803 1088 803 1118 Q803 1140 786 1147 Q788 1156 811 1155" fill="none" stroke="#df8577" stroke-width="13" stroke-linecap="round"/><path d="M765 1122 Q778 1126 784 1145 Q790 1160 805 1168 Q818 1176 817 1181 Q800 1187 772 1180 Q760 1160 762 1140Z" fill="#73281f"/><path d="M724 1108 Q730 1098 744 1099 L749 1104 L749 1144 Q738 1148 726 1140 L706 1136 L702 1122 L712 1112 L720 1120Z" fill="#e4482f"/><rect x="749.6" y="1081" width="27" height="66" fill="#9a7fc4" opacity=".75"/><path d="M749.6 1145 h22 v35 h-22z" fill="#7fa8d6" opacity=".6"/><path d="M637 1060 H827 A34 72.25 0 0 1 827 1204.5 H637" fill="none" stroke="#000" stroke-width="4.6"/><ellipse cx="628.3" cy="1132.3" rx="30" ry="72.3" fill="#fff" stroke="#000" stroke-width="4.6"/><path d="M644 1066 A31 73 0 0 1 644 1199" fill="none" stroke="#27323d" stroke-width="3.2"/></svg>
<div class="L" style="left:120.0px;top:1073.3px;transform:scaleX(0.9440);"><u></u><span class="b" style="font-size:30px;"><span style="color:#33478c">Figure 1.</span> Concept shift <span class="m">P</span><span class="r sb" style="font-size:68%">0</span><span class="r"> (</span><span class="mb">y</span><span class="r">|</span><span class="mb">x</span><span class="r">) ≠ </span><span class="m">P</span><span class="r sb" style="font-size:68%">1</span><span class="r"> (</span><span class="mb">y</span><span class="r">|</span><span class="mb">x</span><span class="r">)</span> leads to “information imbalance” between the <span class="hl1" style="padding:2px 5px 3px 5px;color:#000">label-sparse samples</span></span></div>
<div class="L" style="left:122.0px;top:1110.4px;transform:scaleX(0.9392);"><u></u><span class="b" style="font-size:30px;"><span class="hl1" style="padding:2px 5px 3px 3px">(from <span class="m">P</span><span class="r sb" style="font-size:68%">0</span>)</span> and the <span class="hl2" style="padding:2px 5px 3px 5px"><span style="color:#000">label-dense samples</span> (from <span class="m">P</span><span class="r sb" style="font-size:68%">1</span>)</span>, despite sharing the marginal distribution <span class="m">P</span><span class="r sb" style="font-size:68%">0</span><span class="r">(</span><span class="mb">x</span><span class="r">) = </span><span class="m">P</span><span class="r sb" style="font-size:68%">1</span><span class="r">(</span><span class="mb">x</span><span class="r">).</span></span></div>
<div style="position:absolute;left:120.0px;top:1347.3px;width:1440.0px;height:194.7px;background:#f5f6fb;"></div>
<div class="L" style="left:687.0px;top:1198.8px;transform:scaleX(0.9387);"><u></u><span class="h" style="font-size:43.5px;">Main Questions</span></div>
<div style="position:absolute;left:120.0px;top:1423.1px;width:1440.0px;height:1.2px;background:#151515;"></div>
<div class="L" style="left:243.7px;top:1274.7px;transform:scaleX(0.9698);"><u></u><span class="b" style="font-size:33px;color:#111;"><i class="t">What is the effect of separation between <span class="hl1" style="padding:0 5px 2px 5px">sparse</span> and <span class="hl2" style="padding:0 5px 2px 5px">dense</span> labels on segmentation?</i></span></div>
<div class="L" style="left:327.4px;top:1317.1px;transform:scaleX(0.9639);"><u></u><span class="b" style="font-size:33px;color:#111;"><i class="t">Can we leverage such separation to improve the segmentation accuracy?</i></span></div>
<div style="position:absolute;left:120.0px;top:1613.0px;width:1440.0px;height:363.3px;background:#e5f1fd;"></div>
<div class="L" style="left:746.0px;top:1464.5px;transform:scaleX(0.9689);"><u></u><span class="h" style="font-size:43.5px;">Overview</span></div>
<div style="position:absolute;left:120.0px;top:1688.2px;width:1440.0px;height:1.2px;background:#151515;"></div>
<div class="L" style="left:171.6px;top:1542.8px;transform:scaleX(1.0450);"><u></u><span class="b" style="font-size:33px;">We introduce <b>WAC regularization</b> that leverages consistency regularization on encoder</span></div>
<div style="position:absolute;left:147.0px;top:1725.2px;width:9.5px;height:9.5px;background:#2a3a80;"></div>
<div class="L" style="left:171.6px;top:1584.6px;transform:scaleX(1.0278);"><u></u><span class="b" style="font-size:33px;">layer outputs as a natural reference to distinguish the label-sparse and label-dense samples.</span></div>
<div class="L" style="left:171.6px;top:1627.0px;transform:scaleX(1.0494);"><u></u><span class="b" style="font-size:33px;">We propose <b>an adaptively weighted online optimization algorithm</b>—<b><i class="t">AdaWAC</i></b>—for solving</span></div>
<div style="position:absolute;left:147.0px;top:1809.4px;width:9.5px;height:9.5px;background:#2a3a80;"></div>
<div class="L" style="left:171.6px;top:1668.9px;transform:scaleX(1.0407);"><u></u><span class="b" style="font-size:33px;">the WAC regularization problem with a convergence guarantee.</span></div>
<div class="L" style="left:171.6px;top:1711.4px;transform:scaleX(1.0484);"><u></u><span class="b" style="font-size:33px;">We empirically demonstrate the potency of <i class="t">AdaWAC</i> not only in <b>enhancing segmentation</b></span></div>
<div style="position:absolute;left:147.0px;top:1893.8px;width:9.5px;height:9.5px;background:#2a3a80;"></div>
<div class="L" style="left:171.6px;top:1753.2px;transform:scaleX(1.0585);"><u></u><span class="b" style="font-size:33px;"><b>performance and sample efficiency</b> but also in <b>improving robustness to concept shift</b>.</span></div>
<div class="L" style="left:690.8px;top:1861.8px;transform:scaleX(0.9657);"><u></u><span class="h" style="font-size:43.5px;">Problem Setup</span></div>
<div style="position:absolute;left:120.0px;top:2088.4px;width:1440.0px;height:1.2px;background:#151515;"></div>
<div class="L" style="left:120.0px;top:1940.7px;transform:scaleX(1.0382);"><u></u><span class="b" style="font-size:33px;"><b>Data</b>:&nbsp; Input image <span class="mb">x</span> <span class="r" style="display:inline-block;width:.74em;height:0;position:relative;margin:0 .05em"><svg style="left:.04em;top:-.6em" width=".64em" height=".62em" viewBox="0 0 20 19"><path d="M19 1.2H9.5a8.3 8.3 0 0 0 0 16.6H19M1.4 9.5H19" fill="none" stroke="currentColor" stroke-width="1.7"/></svg></span> <span class="m" style="font-weight:normal">X</span> <span style="display:inline-block;width:.72em;height:0;position:relative"><svg style="left:.05em;top:-.66em" width=".62em" height=".75em" viewBox="0 0 20 24"><path d="M19 1H9a7 7 0 0 0 0 14h10M1 22h18" fill="none" stroke="#1c1c1c" stroke-width="1.7"/></svg></span> <span class="mb" style="-webkit-text-stroke:0">R</span><span class="sp"><span class="m">d</span></span>, segmentation label <span class="mb">y</span> <span class="r" style="display:inline-block;width:.74em;height:0;position:relative;margin:0 .05em"><svg style="left:.04em;top:-.6em" width=".64em" height=".62em" viewBox="0 0 20 19"><path d="M19 1.2H9.5a8.3 8.3 0 0 0 0 16.6H19M1.4 9.5H19" fill="none" stroke="currentColor" stroke-width="1.7"/></svg></span> <span class="r">[</span><span class="m">K</span><span class="r">]</span><span class="sp"><span class="m">d</span></span>, <span class="m">K</span><span class="r"> = </span>number of classes</span></div>
<div class="L" style="left:120.0px;top:2001.3px;transform:scaleX(1.0705);"><u></u><span class="b" style="font-size:33px;"><b>Data augmentation</b>:&nbsp; Random transformations <span class="m">A</span><span class="sb"><span class="r">1</span></span><span class="r">, </span><span class="m">A</span><span class="sb"><span class="r">2</span></span> <span class="r">~</span> <span class="m" style="font-weight:normal">A</span><span class="sp"><span class="r">2</span></span> where <span class="m">A</span><span class="sb"><span class="m">i</span></span><span class="r"> : </span><span class="m" style="font-weight:normal">X</span><span class="r"> → </span><span class="m" style="font-weight:normal">X</span></span></div>
<div class="L" style="left:120.0px;top:2060.7px;transform:scaleX(1.0702);"><u></u><span class="b" style="font-size:33px;"><b>Segmentation</b>:&nbsp; Pixel-wise classifier <span class="m">h</span><span class="sb"><span class="m">θ</span></span><span class="r"> : </span><span class="m" style="font-weight:normal">X</span><span class="r"> → [</span><span class="m">K</span><span class="r">]</span><span class="sp"><span class="m">d</span></span> s.t.&nbsp; <span class="m">h</span><span class="sb"><span class="m">θ</span></span><span class="r"> = argmax</span><span class="sb"><span class="m">k</span><span class="r" style="display:inline-block;width:.74em;height:0;position:relative;margin:0 .05em"><svg style="left:.04em;top:-.6em" width=".64em" height=".62em" viewBox="0 0 20 19"><path d="M19 1.2H9.5a8.3 8.3 0 0 0 0 16.6H19M1.4 9.5H19" fill="none" stroke="currentColor" stroke-width="1.7"/></svg></span><span class="r">[</span><span class="m">K</span><span class="r">]</span></span> <span class="m">f</span><span class="sb"><span class="m">θ</span></span><span class="r"> (</span><span class="mb">x</span><span class="r">)</span><span class="sb"><span class="r">[</span><span class="m">j</span><span class="r">,:]</span></span> where <span class="m">f</span><span class="sb"><span class="m">θ</span></span> <span class="r" style="display:inline-block;width:.74em;height:0;position:relative;margin:0 .05em"><svg style="left:.04em;top:-.6em" width=".64em" height=".62em" viewBox="0 0 20 19"><path d="M19 1.2H9.5a8.3 8.3 0 0 0 0 16.6H19M1.4 9.5H19" fill="none" stroke="currentColor" stroke-width="1.7"/></svg></span> <span class="m" style="font-weight:normal">F</span></span></div>
<div class="L" style="left:120.0px;top:2104.4px;transform:scaleX(1.0334);"><u></u><span class="b" style="font-size:33px;">is parameterized by <span class="m">θ</span> <span class="r" style="display:inline-block;width:.74em;height:0;position:relative;margin:0 .05em"><svg style="left:.04em;top:-.6em" width=".64em" height=".62em" viewBox="0 0 20 19"><path d="M19 1.2H9.5a8.3 8.3 0 0 0 0 16.6H19M1.4 9.5H19" fill="none" stroke="currentColor" stroke-width="1.7"/></svg></span> <span class="m" style="font-weight:normal">F</span><span class="sb"><span class="m">θ</span></span> and admits encoder-decoder structure:&nbsp; for some latent metric space</span></div>
<div class="L" style="left:120.0px;top:2146.9px;transform:scaleX(1.0172);"><u></u><span class="b" style="font-size:33px;">of encoder outputs (<span class="m" style="font-weight:normal">Z</span><span class="r">, </span><span class="m">ϱ</span>) (<i class="t">e.g.</i>, Euclidean space),</span></div>
<div class="L" style="left:434.8px;top:2213.6px;transform:scaleX(1.0691);"><u></u><span class="r" style="font-size:36px;"><span class="m" style="font-weight:normal">F</span><span class="r"> = </span><span class="r" style="display:inline-block;font-size:190%;position:relative;top:0.08em;transform:scaleX(0.8);font-weight:normal">{</span><span class="m">f</span><span class="sb"><span class="m">θ</span></span><span class="r"> = </span><span class="m">ϕ</span><span class="sb"><span class="m">θ</span></span><span class="r"> ◦ </span><span class="m">ψ</span><span class="sb"><span class="m">θ</span></span> <span class="r" style="display:inline-block;font-size:210%;position:relative;top:0.1em;transform:scaleX(0.6);font-weight:normal">|</span> <span class="m">ϕ</span><span class="sb"><span class="m">θ</span></span><span class="r"> : </span><span class="m" style="font-weight:normal">X</span><span class="r"> → </span><span class="m" style="font-weight:normal">Z</span><span class="r">, &nbsp;</span><span class="m">ψ</span><span class="sb"><span class="m">θ</span></span><span class="r"> : </span><span class="m" style="font-weight:normal">Z</span><span class="r"> → [0, 1]</span><span class="sp"><span class="m">d</span><span class="r">×</span><span class="m">K</span></span><span class="r" style="display:inline-block;font-size:190%;position:relative;top:0.08em;transform:scaleX(0.8);font-weight:normal">}</span></span></div>
<div class="L" style="left:120.0px;top:2295.5px;transform:scaleX(1.0272);"><u></u><span class="b" style="font-size:33px;"><span class="bl">Supervised</span> <span style="color:#000">cross-entropy loss</span></span></div>
<div class="L" style="left:424.5px;top:2386.5px;transform:scaleX(1.0590);"><u></u><span class="r" style="font-size:36px;"><span class="m">ℓ</span><span class="sb"><span style="font-family:'Liberation Sans',sans-serif;font-style:italic">CE</span></span><span class="r"> (</span><span class="m">θ</span><span class="r">; </span><span class="bl"><span class="r">(</span><span class="mb">x</span><span class="r">, </span><span class="mb">y</span><span class="r">)</span></span><span class="r">) = −</span><span class="st"><span style="position:relative;top:-.73em"><span class="r">1</span></span><span style="position:relative;top:.64em"><span class="m">d</span></span><span style="position:relative;top:.05em;border-top:1.6px solid #222;align-self:stretch;margin:0 -.08em"></span></span><span style="display:inline-block;width:0.12em"></span><span class="st"><span><span class="r" style="font-size:175%;position:relative;top:.16em">∑</span></span><span style="font-size:72%;position:relative;top:2.38em"><span class="m">j</span><span class="r">=1</span></span><span style="font-size:72%;position:relative;top:-1.37em"><span class="m">d</span></span></span><span class="st"><span><span class="r" style="font-size:175%;position:relative;top:.16em">∑</span></span><span style="font-size:72%;position:relative;top:2.38em"><span class="m">k</span><span class="r">=1</span></span><span style="font-size:72%;position:relative;top:-1.37em"><span class="m">K</span></span></span><span class="r" style="letter-spacing:-.2em;margin-right:.2em">II</span><span class="r" style="display:inline-block;font-size:175%;position:relative;top:0.06em;transform:scaleX(0.8);font-weight:normal">{</span><span class="mb">y</span><span class="sb"><span class="r">[</span><span class="m">j</span><span class="r">]</span></span><span class="r"> = </span><span class="m">k</span><span class="r" style="display:inline-block;font-size:175%;position:relative;top:0.06em;transform:scaleX(0.8);font-weight:normal">}</span><span class="r"> · log </span><span class="r" style="display:inline-block;font-size:175%;position:relative;top:0.06em;transform:scaleX(0.8);font-weight:normal">(</span><span class="m">f</span><span class="sb"><span class="m">θ</span></span><span class="r"> (</span><span class="mb">x</span><span class="r">)</span><span class="sb"><span class="r">[</span><span class="m">j,k</span><span class="r">]</span></span><span class="r" style="display:inline-block;font-size:175%;position:relative;top:0.06em;transform:scaleX(0.8);font-weight:normal">)</span></span></div>
<div class="L" style="left:120.0px;top:2498.7px;transform:scaleX(1.0545);"><u></u><span class="b" style="font-size:33px;"><span class="bl">Unsupervised</span> <span style="color:#000">augmentation consistency regularization</span></span></div>
<div class="L" style="left:459.7px;top:2563.6px;transform:scaleX(1.0136);"><u></u><span class="r" style="font-size:36px;"><span class="m">ℓ</span><span class="sb"><span style="font-family:'Liberation Sans',sans-serif;font-style:italic">AC</span></span><span class="r"> (</span><span class="m">θ</span><span class="r">; </span><span class="bl"><span class="mb">x</span></span><span class="r">, </span><span class="m">A</span><span class="sb"><span class="r">1</span></span><span class="r">, </span><span class="m">A</span><span class="sb"><span class="r">2</span></span><span class="r">) </span><span class="st"><span class="r">=</span><span class="r" style="font-size:45%;position:relative;top:-1.05em">∆</span></span> <span class="m">λ</span><span class="sb"><span style="font-family:'Liberation Sans',sans-serif;font-style:italic">AC</span></span><span class="r"> · </span><span class="m">ϱ</span><span class="r" style="display:inline-block;font-size:190%;position:relative;top:0.08em;transform:scaleX(0.8);font-weight:normal">(</span><span class="m">ϕ</span><span class="sb"><span class="m">θ</span></span><span class="r"> (</span><span class="m">A</span><span class="sb"><span class="r">1</span></span><span class="r">(</span><span class="mb">x</span><span class="r">)) , </span><span class="m">ϕ</span><span class="sb"><span class="m">θ</span></span><span class="r"> (</span><span class="m">A</span><span class="sb"><span class="r">2</span></span><span class="r">(</span><span class="mb">x</span><span class="r">)) </span><span class="r" style="display:inline-block;font-size:190%;position:relative;top:0.08em;transform:scaleX(0.8);font-weight:normal">)</span></span></div>
<div class="L" style="left:2007.0px;top:219.9px;transform:scaleX(0.9563);"><u></u><span class="h" style="font-size:43.5px;">Label-sparse v.s.&nbsp; Label-dense Samples</span></div>
<div style="position:absolute;left:1680.0px;top:443.4px;width:1439.0px;height:1.2px;background:#151515;"></div>
<div class="L" style="left:1680.0px;top:296.7px;transform:scaleX(1.0443);"><u></u><span class="b" style="font-size:33px;">We consider <b>two data subpopulations with concept shift</b> such that, for any <span class="m">ξ</span> <span class="r" style="display:inline-block;width:.74em;height:0;position:relative;margin:0 .05em"><svg style="left:.04em;top:-.6em" width=".64em" height=".62em" viewBox="0 0 20 19"><path d="M19 1.2H9.5a8.3 8.3 0 0 0 0 16.6H19M1.4 9.5H19" fill="none" stroke="currentColor" stroke-width="1.7"/></svg></span><span class="r"> [0, 1], </span><span class="r">(</span><span class="mb">x</span><span class="r">, </span><span class="mb">y</span><span class="r">)</span> <span class="r">~</span> <span class="m">P</span><span class="sb"><span class="m">ξ</span></span></span></div>
<div class="L" style="left:1680.0px;top:341.6px;transform:scaleX(1.0639);"><u></u><span class="b" style="font-size:33px;">implies <span class="hl2" style="padding:1px 6px 4px 6px"><span class="r">(</span><span class="mb">x</span><span class="r">, </span><span class="mb">y</span><span class="r">)</span> <span class="r">~</span> <span class="m">P</span><span class="sb"><span class="r">1</span></span></span> with probability <span class="m">ξ</span> and <span class="hl1" style="padding:1px 6px 4px 6px"><span class="r">(</span><span class="mb">x</span><span class="r">, </span><span class="mb">y</span><span class="r">)</span> <span class="r">~</span> <span class="m">P</span><span class="sb"><span class="r">0</span></span></span> with probability <span class="r">1 − </span><span class="m">ξ</span>.</span></div>
<div style="position:absolute;left:1680.0px;top:556.4px;width:1439.0px;height:197.2px;background:#f5f6fb;"></div>
<div class="L" style="left:1876.0px;top:408.6px;transform:scaleX(0.9626);"><u></u><span class="h" style="font-size:43.5px;">Definition (Label-sparse &amp; label-dense distributions)</span></div>
<div style="position:absolute;left:1680.0px;top:632.0px;width:1439.0px;height:1.2px;background:#151515;"></div>
<div class="L" style="left:1697.2px;top:485.4px;transform:scaleX(1.0070);"><u></u><span class="b" style="font-size:33px;">Let&nbsp; <span class="hl1" style="padding:0 5px 3px 5px"><span class="m">P</span><span class="sb"><span class="r">0</span></span> be the <i class="t">label-sparse</i></span>&nbsp; and&nbsp; <span class="hl2" style="padding:0 5px 3px 5px"><span class="m">P</span><span class="sb"><span class="r">1</span></span> be the <i class="t">label-dense</i></span>&nbsp; distributions&nbsp; with&nbsp; distinct&nbsp; <span class="m">P</span><span class="sb"><span class="r">0</span></span><span class="r"> (</span><span class="mb">y</span><span class="r">|</span><span class="mb">x</span><span class="r">)</span>&nbsp; and</span></div>
<div class="L" style="left:1697.2px;top:527.2px;transform:scaleX(1.0621);"><u></u><span class="b" style="font-size:33px;"><span class="m">P</span><span class="sb"><span class="r">1</span></span><span class="r"> (</span><span class="mb">y</span><span class="r">|</span><span class="mb">x</span><span class="r">)</span> but common <span class="m">P</span><span class="r"> (</span><span class="mb">x</span><span class="r">).</span></span></div>
<div style="position:absolute;left:1680.0px;top:789.9px;width:1439.0px;height:419.8px;background:#f5f6fb;"></div>
<div class="L" style="left:1946.7px;top:640.9px;transform:scaleX(0.9641);"><u></u><span class="h" style="font-size:43.5px;">Assumption (<span class="m" style="font-weight:normal;color:#3c70a1">n</span>-separation between <span class="m" style="font-weight:normal;color:#3c70a1">P</span><span class="sb"><span class="r" style="font-weight:normal;color:#3c70a1">0</span></span> and <span class="m" style="font-weight:normal;color:#3c70a1">P</span><span class="sb"><span class="r" style="font-weight:normal;color:#3c70a1">1</span></span>)</span></div>
<div style="position:absolute;left:1680.0px;top:865.5px;width:1439.0px;height:1.2px;background:#151515;"></div>
<div class="L" style="left:1697.2px;top:717.8px;transform:scaleX(1.0914);"><u></u><span class="b" style="font-size:33px;">Given <span class="m">γ</span><span class="r"> &gt; 0</span>, let <span class="m" style="font-weight:normal">F</span><span class="sb"><span class="m">θ</span><span class="r" style="font-size:85%;position:relative;top:.12em">*</span></span><span class="r"> (</span><span class="m">γ</span><span class="r">)</span><span class="r"> = {</span><span class="m">θ</span> <span class="r" style="display:inline-block;width:.74em;height:0;position:relative;margin:0 .05em"><svg style="left:.04em;top:-.6em" width=".64em" height=".62em" viewBox="0 0 20 19"><path d="M19 1.2H9.5a8.3 8.3 0 0 0 0 16.6H19M1.4 9.5H19" fill="none" stroke="currentColor" stroke-width="1.7"/></svg></span> <span class="m" style="font-weight:normal">F</span><span class="sb"><span class="m">θ</span></span><span class="r"> | &nbsp;</span><span class="r">‖</span><span class="m">θ</span><span class="r"> − </span><span class="m">θ</span><span class="sp"><span class="r">*</span></span><span class="r">‖</span><span class="sb"><span class="m" style="font-weight:normal">F</span></span><span class="r"> ≤ </span><span class="m">γ</span><span class="r">}</span> be a compact and convex neighborhood</span></div>
<div class="L" style="left:1697.2px;top:760.8px;transform:scaleX(1.0247);"><u></u><span class="b" style="font-size:33px;">of well-trained pixel-wise classifiers. We say that <span class="m">P</span><span class="sb"><span class="r">0</span></span> <i class="t" style="color:#000;-webkit-text-stroke:.55px #000">and</i> <span class="m">P</span><span class="sb"><span class="r">1</span></span> <i class="t" style="color:#000;-webkit-text-stroke:.55px #000">are </i><span class="m">n</span><i class="t" style="color:#000;-webkit-text-stroke:.55px #000">-separated over</i> <span class="m" style="font-weight:normal">F</span><span class="sb"><span class="m">θ</span><span class="r" style="font-size:85%;position:relative;top:.12em">*</span></span><span class="r"> (</span><span class="m">γ</span><span class="r">)</span> if there</span></div>
<div class="L" style="left:1697.2px;top:808.7px;transform:scaleX(1.0891);"><u></u><span class="b" style="font-size:33px;">exists <span class="m">ω</span><span class="r"> &gt; 0</span> such that with probability <span class="r">1 − Ω </span><span class="r" style="display:inline-block;font-size:125%;position:relative;top:0.04em;transform:scaleX(0.8);font-weight:normal">(</span><span class="m">n</span><span class="sp"><span class="r">1+</span><span class="m">ω</span></span><span class="r" style="display:inline-block;font-size:125%;position:relative;top:0.04em;transform:scaleX(0.8);font-weight:normal">)</span><span class="sp" style="top:-.85em"><span class="r">−1</span></span> over <span class="r">(</span><span class="r">(</span><span class="mb">x</span><span class="r">, </span><span class="mb">y</span><span class="r">)</span><span class="r"> , (</span><span class="m">A</span><span class="sb"><span class="r">1</span></span><span class="r">, </span><span class="m">A</span><span class="sb"><span class="r">2</span></span><span class="r">))</span> <span class="r">~</span> <span class="m">P</span><span class="sb"><span class="m">ξ</span></span><span class="r"> × </span><span class="m" style="font-weight:normal">A</span><span class="sp"><span class="r">2</span></span>, the</span></div>
<div class="L" style="left:1697.2px;top:849.9px;transform:scaleX(1.0702);"><u></u><span class="b" style="font-size:33px;">following hold:</span></div>
<div class="L" style="left:1689.0px;top:914.4px;transform:scaleX(0.9259);"><u></u><span class="b" style="font-size:33px;"><span style="color:#2a3a80">1.</span></span></div>
<div class="L" style="left:1732.0px;top:914.4px;transform:scaleX(1.0349);"><u></u><span class="b" style="font-size:33px;"><span class="hl1" style="padding:3px 3px 7px 4px"><span class="m">ℓ</span><span class="sb"><span style="font-family:'Liberation Sans',sans-serif;font-style:italic">CE</span></span><span class="r"> (</span><span class="m">θ</span><span class="r">; </span><span class="r">(</span><span class="mb">x</span><span class="r">, </span><span class="mb">y</span><span class="r">)</span><span class="r">)</span></span><span class="r" style="margin:0 2px">&lt;</span><span class="hl3" style="padding:3px 3px 7px 4px"><span class="m">ℓ</span><span class="sb"><span style="font-family:'Liberation Sans',sans-serif;font-style:italic">AC</span></span><span class="r"> (</span><span class="m">θ</span><span class="r">; </span><span class="mb">x</span><span class="r">, </span><span class="m">A</span><span class="sb"><span class="r">1</span></span><span class="r">, </span><span class="m">A</span><span class="sb"><span class="r">2</span></span><span class="r">)</span></span> for all <span class="m">θ</span> <span class="r" style="display:inline-block;width:.74em;height:0;position:relative;margin:0 .05em"><svg style="left:.04em;top:-.6em" width=".64em" height=".62em" viewBox="0 0 20 19"><path d="M19 1.2H9.5a8.3 8.3 0 0 0 0 16.6H19M1.4 9.5H19" fill="none" stroke="currentColor" stroke-width="1.7"/></svg></span> <span class="m" style="font-weight:normal">F</span><span class="sb"><span class="m">θ</span><span class="r" style="font-size:85%;position:relative;top:.12em">*</span></span><span class="r"> (</span><span class="m">γ</span><span class="r">)</span> given <span class="r">(</span><span class="mb">x</span><span class="r">, </span><span class="mb">y</span><span class="r">)</span> <span class="r">~</span> <span class="m">P</span><span class="sb"><span class="r">0</span></span></span></div>
<div class="L" style="left:1689.0px;top:959.3px;transform:scaleX(0.9259);"><u></u><span class="b" style="font-size:33px;"><span style="color:#2a3a80">2.</span></span></div>
<div class="L" style="left:1732.0px;top:959.3px;transform:scaleX(1.0332);"><u></u><span class="b" style="font-size:33px;"><span class="hl2" style="padding:3px 3px 7px 4px"><span class="m">ℓ</span><span class="sb"><span style="font-family:'Liberation Sans',sans-serif;font-style:italic">CE</span></span><span class="r"> (</span><span class="m">θ</span><span class="r">; </span><span class="r">(</span><span class="mb">x</span><span class="r">, </span><span class="mb">y</span><span class="r">)</span><span class="r">)</span></span><span class="r" style="margin:0 2px">&gt;</span><span class="hl3" style="padding:3px 3px 7px 4px"><span class="m">ℓ</span><span class="sb"><span style="font-family:'Liberation Sans',sans-serif;font-style:italic">AC</span></span><span class="r"> (</span><span class="m">θ</span><span class="r">; </span><span class="mb">x</span><span class="r">, </span><span class="m">A</span><span class="sb"><span class="r">1</span></span><span class="r">, </span><span class="m">A</span><span class="sb"><span class="r">2</span></span><span class="r">)</span></span> for all <span class="m">θ</span> <span class="r" style="display:inline-block;width:.74em;height:0;position:relative;margin:0 .05em"><svg style="left:.04em;top:-.6em" width=".64em" height=".62em" viewBox="0 0 20 19"><path d="M19 1.2H9.5a8.3 8.3 0 0 0 0 16.6H19M1.4 9.5H19" fill="none" stroke="currentColor" stroke-width="1.7"/></svg></span> <span class="m" style="font-weight:normal">F</span><span class="sb"><span class="m">θ</span><span class="r" style="font-size:85%;position:relative;top:.12em">*</span></span><span class="r"> (</span><span class="m">γ</span><span class="r">)</span> given <span class="r">(</span><span class="mb">x</span><span class="r">, </span><span class="mb">y</span><span class="r">)</span> <span class="r">~</span> <span class="m">P</span><span class="sb"><span class="r">1</span></span></span></div>
<div class="L" style="left:1810.3px;top:1132.2px;transform:scaleX(0.9520);"><u></u><span class="h" style="font-size:43.5px;">Adaptively Weighted Augmentation Consistency (AdaWAC)</span></div>
<div style="position:absolute;left:1680.0px;top:1356.2px;width:1439.0px;height:1.2px;background:#151515;"></div>
<div class="L" style="left:1680.0px;top:1209.0px;transform:scaleX(1.0563);"><u></u><span class="b" style="font-size:33px;">We introduce the <b>weighted augmentation consistency (WAC) regularization</b> as follows:</span></div>
<div class="L" style="left:1898.0px;top:1301.2px;transform:scaleX(0.9658);"><u></u><span class="r" style="font-size:36px;"><span class="m">θ</span><span style="display:inline-block;width:0;height:0;position:relative;left:-0.5em;top:-0.08em"><svg style="left:0;top:-.97em" width="0.50em" height=".2em" viewBox="0 0 20 8" preserveAspectRatio="none"><path d="M1 7.5L10 1L19 7.5" fill="none" stroke="#222" stroke-width="1.6" vector-effect="non-scaling-stroke"/></svg></span><span class="sp"><span style="font-family:'Liberation Sans',sans-serif;font-style:italic">WAC</span></span><span class="r">, </span><span class="mbi">β</span><span style="display:inline-block;width:0;height:0;position:relative;left:-0.5em;top:-0.08em"><svg style="left:0;top:-.97em" width="0.53em" height=".2em" viewBox="0 0 20 8" preserveAspectRatio="none"><path d="M1 7.5L10 1L19 7.5" fill="none" stroke="#222" stroke-width="1.6" vector-effect="non-scaling-stroke"/></svg></span> <span class="r" style="display:inline-block;width:.74em;height:0;position:relative;margin:0 .05em"><svg style="left:.04em;top:-.6em" width=".64em" height=".62em" viewBox="0 0 20 19"><path d="M19 1.2H9.5a8.3 8.3 0 0 0 0 16.6H19M1.4 9.5H19" fill="none" stroke="currentColor" stroke-width="1.7"/></svg></span> &nbsp;<span class="st"><span><span class="r">argmin</span></span><span style="font-size:82%;position:relative;top:1.3em"><span class="m">θ</span><span class="r" style="display:inline-block;width:.74em;height:0;position:relative;margin:0 .05em"><svg style="left:.04em;top:-.6em" width=".64em" height=".62em" viewBox="0 0 20 19"><path d="M19 1.2H9.5a8.3 8.3 0 0 0 0 16.6H19M1.4 9.5H19" fill="none" stroke="currentColor" stroke-width="1.7"/></svg></span><span class="m" style="font-weight:normal">F</span><span class="sb"><span class="m">θ</span><span class="r">*</span></span><span class="r">(</span><span class="m">γ</span><span class="r">)</span></span></span> &nbsp;<span class="st"><span><span class="r">argmax</span></span><span style="font-size:82%;position:relative;top:1.3em"><span class="mbi">β</span><span class="r" style="display:inline-block;width:.74em;height:0;position:relative;margin:0 .05em"><svg style="left:.04em;top:-.6em" width=".64em" height=".62em" viewBox="0 0 20 19"><path d="M19 1.2H9.5a8.3 8.3 0 0 0 0 16.6H19M1.4 9.5H19" fill="none" stroke="currentColor" stroke-width="1.7"/></svg></span><span class="r">[0,1]</span><span class="sp"><span class="m">n</span></span></span></span> &nbsp;<span class="r" style="display:inline-block;font-size:360%;position:relative;top:0.22em;transform:scaleX(0.62);font-weight:normal">{</span><span class="m">L</span><span style="display:inline-block;width:0;height:0;position:relative;left:-0.58em;top:-0.1em"><svg style="left:0;top:-.97em" width="0.62em" height=".2em" viewBox="0 0 20 8" preserveAspectRatio="none"><path d="M1 7.5L10 1L19 7.5" fill="none" stroke="#222" stroke-width="1.6" vector-effect="non-scaling-stroke"/></svg></span><span class="sp"><span style="font-family:'Liberation Sans',sans-serif;font-style:italic">WAC</span></span><span class="r"> (</span><span class="m">θ</span><span class="r">, </span><span class="mbi">β</span><span class="r">)</span> <span class="st"><span class="r">=</span><span class="r" style="font-size:45%;position:relative;top:-1.05em">∆</span></span> <span class="st"><span style="position:relative;top:-.73em"><span class="r">1</span></span><span style="position:relative;top:.64em"><span class="m">n</span></span><span style="position:relative;top:.05em;border-top:1.6px solid #222;align-self:stretch;margin:0 -.08em"></span></span><span style="display:inline-block;width:0.12em"></span><span class="st"><span><span class="r" style="font-size:175%;position:relative;top:.16em">∑</span></span><span style="font-size:72%;position:relative;top:2.38em"><span class="m">i</span><span class="r">=1</span></span><span style="font-size:72%;position:relative;top:-1.37em"><span class="m">n</span></span></span> <span class="m">L</span><span style="display:inline-block;width:0;height:0;position:relative;left:-0.58em;top:-0.1em"><svg style="left:0;top:-.97em" width="0.62em" height=".2em" viewBox="0 0 20 8" preserveAspectRatio="none"><path d="M1 7.5L10 1L19 7.5" fill="none" stroke="#222" stroke-width="1.6" vector-effect="non-scaling-stroke"/></svg></span><span class="sb z"><span class="m">i</span></span><span class="sp"><span style="font-family:'Liberation Sans',sans-serif;font-style:italic">WAC</span></span><span class="r"> (</span><span class="m">θ</span><span class="r">, </span><span class="mbi">β</span><span class="r">)</span><span class="r" style="display:inline-block;font-size:360%;position:relative;top:0.22em;transform:scaleX(0.62);font-weight:normal">}</span></span></div>
<div class="L" style="left:3080.0px;top:1332.0px;transform:scaleX(0.9500);"><u></u><span class="b" style="font-size:33px;">(1)</span></div>
<div class="L" style="left:1898.0px;top:1399.6px;transform:scaleX(1.0395);"><u></u><span class="r" style="font-size:36px;"><span class="m">L</span><span style="display:inline-block;width:0;height:0;position:relative;left:-0.58em;top:-0.1em"><svg style="left:0;top:-.97em" width="0.62em" height=".2em" viewBox="0 0 20 8" preserveAspectRatio="none"><path d="M1 7.5L10 1L19 7.5" fill="none" stroke="#222" stroke-width="1.6" vector-effect="non-scaling-stroke"/></svg></span><span class="sb z"><span class="m">i</span></span><span class="sp"><span style="font-family:'Liberation Sans',sans-serif;font-style:italic">WAC</span></span><span class="r"> (</span><span class="m">θ</span><span class="r">, </span><span class="mbi">β</span><span class="r">)</span> <span class="st"><span class="r">=</span><span class="r" style="font-size:45%;position:relative;top:-1.05em">∆</span></span> <span class="mbi">β</span><span class="sb"><span class="r">[</span><span class="m">i</span><span class="r">]</span></span><span class="r"> · </span><span class="m">ℓ</span><span class="sb"><span style="font-family:'Liberation Sans',sans-serif;font-style:italic">CE</span></span><span class="r"> (</span><span class="m">θ</span><span class="r">; (</span><span class="mb">x</span><span class="sb"><span class="m">i</span></span><span class="r">, </span><span class="mb">y</span><span class="sb"><span class="m">i</span></span><span class="r">)) + (1 − </span><span class="mbi">β</span><span class="sb"><span class="r">[</span><span class="m">i</span><span class="r">]</span></span><span class="r">) · </span><span class="m">ℓ</span><span class="sb"><span style="font-family:'Liberation Sans',sans-serif;font-style:italic">AC</span></span> <span class="r" style="display:inline-block;font-size:130%;position:relative;top:0.05em;transform:scaleX(0.8);font-weight:normal">(</span><span class="m">θ</span><span class="r">; </span><span class="mb">x</span><span class="sb"><span class="m">i</span></span><span class="r">, </span><span class="m">A</span><span class="sb"><span class="m">i</span><span class="r">,1</span></span><span class="r">, </span><span class="m">A</span><span class="sb"><span class="m">i</span><span class="r">,2</span></span><span class="r" style="display:inline-block;font-size:130%;position:relative;top:0.05em;transform:scaleX(0.8);font-weight:normal">)</span></span></div>
<div style="position:absolute;left:1680.0px;top:1653.0px;width:1439.0px;height:449.3px;background:#f5f6fb;"></div>
<div class="L" style="left:1849.6px;top:1502.8px;transform:scaleX(0.9559);"><u></u><span class="h" style="font-size:43.5px;">Proposition (Separation of samples at the saddle point)</span></div>
<div style="position:absolute;left:1680.0px;top:1728.0px;width:1439.0px;height:1.2px;background:#151515;"></div>
<div class="L" style="left:1697.2px;top:1579.0px;transform:scaleX(1.0215);"><u></u><span class="b" style="font-size:33px;">Assume that <span class="m">ℓ</span><span class="sb"><span style="font-family:'Liberation Sans',sans-serif;font-style:italic">CE</span></span><span class="r"> (</span><span class="m">θ</span><span class="r">; </span><span class="r">(</span><span class="mb">x</span><span class="r">, </span><span class="mb">y</span><span class="r">)</span><span class="r">)</span> and <span class="m">ℓ</span><span class="sb"><span style="font-family:'Liberation Sans',sans-serif;font-style:italic">AC</span></span><span class="r"> (</span><span class="m">θ</span><span class="r">; </span><span class="mb">x</span><span class="r">, </span><span class="m">A</span><span class="sb"><span class="r">1</span></span><span class="r">, </span><span class="m">A</span><span class="sb"><span class="r">2</span></span><span class="r">)</span> are convex and continuous in <span class="m">θ</span> for all <span class="r">(</span><span class="mb">x</span><span class="r">, </span><span class="mb">y</span><span class="r">)</span> <span class="r" style="display:inline-block;width:.74em;height:0;position:relative;margin:0 .05em"><svg style="left:.04em;top:-.6em" width=".64em" height=".62em" viewBox="0 0 20 19"><path d="M19 1.2H9.5a8.3 8.3 0 0 0 0 16.6H19M1.4 9.5H19" fill="none" stroke="currentColor" stroke-width="1.7"/></svg></span></span></div>
<div class="L" style="left:1697.2px;top:1620.8px;transform:scaleX(1.0589);"><u></u><span class="b" style="font-size:33px;"><span class="m" style="font-weight:normal">X</span><span class="r"> × [</span><span class="m">K</span><span class="r">]</span><span class="sp"><span class="m">d</span></span> and <span class="m">A</span><span class="sb"><span class="r">1</span></span><span class="r">, </span><span class="m">A</span><span class="sb"><span class="r">2</span></span> <span class="r">~</span> <span class="m" style="font-weight:normal">A</span><span class="sp"><span class="r">2</span></span><span class="r">; </span><span class="m" style="font-weight:normal">F</span><span class="sb"><span class="m">θ</span><span class="r" style="font-size:85%;position:relative;top:.12em">*</span></span><span class="r"> (</span><span class="m">γ</span><span class="r">)</span> <span style="display:inline-block;width:.72em;height:0;position:relative"><svg style="left:.05em;top:-.58em" width=".62em" height=".6em" viewBox="0 0 20 19"><path d="M19 1H9a8 8 0 0 0 0 16h10" fill="none" stroke="#1c1c1c" stroke-width="1.7"/></svg></span> <span class="m" style="font-weight:normal">F</span><span class="sb"><span class="m">θ</span></span> is compact and convex.&nbsp; If <span class="m">P</span><span class="sb"><span class="r">0</span></span> and <span class="m">P</span><span class="sb"><span class="r">1</span></span> are <span class="m">n</span>-separated,</span></div>
<div class="L" style="left:1697.2px;top:1671.2px;transform:scaleX(1.0009);"><u></u><span class="b" style="font-size:33px;"><span style="display:inline-block;transform:rotate(180deg);font-family:'Liberation Sans';position:relative;top:.02em">E</span> <span class="mbi">β</span><span style="display:inline-block;width:0;height:0;position:relative;left:-0.5em;top:-0.08em"><svg style="left:0;top:-.97em" width="0.53em" height=".2em" viewBox="0 0 20 8" preserveAspectRatio="none"><path d="M1 7.5L10 1L19 7.5" fill="none" stroke="#222" stroke-width="1.6" vector-effect="non-scaling-stroke"/></svg></span> <span class="r" style="display:inline-block;width:.74em;height:0;position:relative;margin:0 .05em"><svg style="left:.04em;top:-.6em" width=".64em" height=".62em" viewBox="0 0 20 19"><path d="M19 1.2H9.5a8.3 8.3 0 0 0 0 16.6H19M1.4 9.5H19" fill="none" stroke="currentColor" stroke-width="1.7"/></svg></span><span class="r"> {0, 1}</span><span class="sp"><span class="m">n</span></span> and <span class="m">θ</span><span style="display:inline-block;width:0;height:0;position:relative;left:-0.5em;top:-0.08em"><svg style="left:0;top:-.97em" width="0.50em" height=".2em" viewBox="0 0 20 8" preserveAspectRatio="none"><path d="M1 7.5L10 1L19 7.5" fill="none" stroke="#222" stroke-width="1.6" vector-effect="non-scaling-stroke"/></svg></span><span class="sp"><span style="font-family:'Liberation Sans',sans-serif;font-style:italic">WAC</span></span> <span class="r" style="display:inline-block;width:.74em;height:0;position:relative;margin:0 .05em"><svg style="left:.04em;top:-.6em" width=".64em" height=".62em" viewBox="0 0 20 19"><path d="M19 1.2H9.5a8.3 8.3 0 0 0 0 16.6H19M1.4 9.5H19" fill="none" stroke="currentColor" stroke-width="1.7"/></svg></span> &nbsp;<span class="st"><span><span class="r">argmin</span></span><span style="font-size:82%;position:relative;top:1.3em"><span class="m">θ</span><span class="r" style="display:inline-block;width:.74em;height:0;position:relative;margin:0 .05em"><svg style="left:.04em;top:-.6em" width=".64em" height=".62em" viewBox="0 0 20 19"><path d="M19 1.2H9.5a8.3 8.3 0 0 0 0 16.6H19M1.4 9.5H19" fill="none" stroke="currentColor" stroke-width="1.7"/></svg></span><span class="m" style="font-weight:normal">F</span><span class="sb"><span class="m">θ</span><span class="r">*</span></span><span class="r">(</span><span class="m">γ</span><span class="r">)</span></span></span> <span class="m">L</span><span style="display:inline-block;width:0;height:0;position:relative;left:-0.58em;top:-0.1em"><svg style="left:0;top:-.97em" width="0.62em" height=".2em" viewBox="0 0 20 8" preserveAspectRatio="none"><path d="M1 7.5L10 1L19 7.5" fill="none" stroke="#222" stroke-width="1.6" vector-effect="non-scaling-stroke"/></svg></span><span class="sp"><span style="font-family:'Liberation Sans',sans-serif;font-style:italic">WAC</span></span> <span class="r" style="display:inline-block;font-size:190%;position:relative;top:0.08em;transform:scaleX(0.8);font-weight:normal">(</span><span class="m">θ</span><span class="r">, </span><span class="mbi">β</span><span style="display:inline-block;width:0;height:0;position:relative;left:-0.5em;top:-0.08em"><svg style="left:0;top:-.97em" width="0.53em" height=".2em" viewBox="0 0 20 8" preserveAspectRatio="none"><path d="M1 7.5L10 1L19 7.5" fill="none" stroke="#222" stroke-width="1.6" vector-effect="non-scaling-stroke"/></svg></span><span class="r" style="display:inline-block;font-size:190%;position:relative;top:0.08em;transform:scaleX(0.8);font-weight:normal">)</span> s.t.</span></div>
<div class="L" style="left:1884.0px;top:1774.5px;transform:scaleX(1.0145);"><u></u><span class="r" style="font-size:36px;"><span class="st"><span><span class="r">min</span></span><span style="font-size:82%;position:relative;top:1.3em"><span class="m">θ</span><span class="r" style="display:inline-block;width:.74em;height:0;position:relative;margin:0 .05em"><svg style="left:.04em;top:-.6em" width=".64em" height=".62em" viewBox="0 0 20 19"><path d="M19 1.2H9.5a8.3 8.3 0 0 0 0 16.6H19M1.4 9.5H19" fill="none" stroke="currentColor" stroke-width="1.7"/></svg></span><span class="m" style="font-weight:normal">F</span><span class="sb"><span class="m">θ</span><span class="r">*</span></span><span class="r">(</span><span class="m">γ</span><span class="r">)</span></span></span> <span class="m">L</span><span style="display:inline-block;width:0;height:0;position:relative;left:-0.58em;top:-0.1em"><svg style="left:0;top:-.97em" width="0.62em" height=".2em" viewBox="0 0 20 8" preserveAspectRatio="none"><path d="M1 7.5L10 1L19 7.5" fill="none" stroke="#222" stroke-width="1.6" vector-effect="non-scaling-stroke"/></svg></span><span class="sp"><span style="font-family:'Liberation Sans',sans-serif;font-style:italic">WAC</span></span> <span class="r" style="display:inline-block;font-size:190%;position:relative;top:0.08em;transform:scaleX(0.8);font-weight:normal">(</span><span class="m">θ</span><span class="r">, </span><span class="mbi">β</span><span style="display:inline-block;width:0;height:0;position:relative;left:-0.5em;top:-0.08em"><svg style="left:0;top:-.97em" width="0.53em" height=".2em" viewBox="0 0 20 8" preserveAspectRatio="none"><path d="M1 7.5L10 1L19 7.5" fill="none" stroke="#222" stroke-width="1.6" vector-effect="non-scaling-stroke"/></svg></span><span class="r" style="display:inline-block;font-size:190%;position:relative;top:0.08em;transform:scaleX(0.8);font-weight:normal">)</span><span class="r"> = </span><span class="m">L</span><span style="display:inline-block;width:0;height:0;position:relative;left:-0.58em;top:-0.1em"><svg style="left:0;top:-.97em" width="0.62em" height=".2em" viewBox="0 0 20 8" preserveAspectRatio="none"><path d="M1 7.5L10 1L19 7.5" fill="none" stroke="#222" stroke-width="1.6" vector-effect="non-scaling-stroke"/></svg></span><span class="sp"><span style="font-family:'Liberation Sans',sans-serif;font-style:italic">WAC</span></span> <span class="r" style="display:inline-block;font-size:190%;position:relative;top:0.08em;transform:scaleX(0.8);font-weight:normal">(</span><span class="m">θ</span><span style="display:inline-block;width:0;height:0;position:relative;left:-0.5em;top:-0.08em"><svg style="left:0;top:-.97em" width="0.50em" height=".2em" viewBox="0 0 20 8" preserveAspectRatio="none"><path d="M1 7.5L10 1L19 7.5" fill="none" stroke="#222" stroke-width="1.6" vector-effect="non-scaling-stroke"/></svg></span><span class="sp"><span style="font-family:'Liberation Sans',sans-serif;font-style:italic">WAC</span></span><span class="r">, </span><span class="mbi">β</span><span style="display:inline-block;width:0;height:0;position:relative;left:-0.5em;top:-0.08em"><svg style="left:0;top:-.97em" width="0.53em" height=".2em" viewBox="0 0 20 8" preserveAspectRatio="none"><path d="M1 7.5L10 1L19 7.5" fill="none" stroke="#222" stroke-width="1.6" vector-effect="non-scaling-stroke"/></svg></span><span class="r" style="display:inline-block;font-size:190%;position:relative;top:0.08em;transform:scaleX(0.8);font-weight:normal">)</span><span class="r"> = </span> <span class="st"><span><span class="r">max</span></span><span style="font-size:82%;position:relative;top:1.3em"><span class="mbi">β</span><span class="r" style="display:inline-block;width:.74em;height:0;position:relative;margin:0 .05em"><svg style="left:.04em;top:-.6em" width=".64em" height=".62em" viewBox="0 0 20 19"><path d="M19 1.2H9.5a8.3 8.3 0 0 0 0 16.6H19M1.4 9.5H19" fill="none" stroke="currentColor" stroke-width="1.7"/></svg></span><span class="r">[0,1]</span><span class="sp"><span class="m">n</span></span></span></span> <span class="m">L</span><span style="display:inline-block;width:0;height:0;position:relative;left:-0.58em;top:-0.1em"><svg style="left:0;top:-.97em" width="0.62em" height=".2em" viewBox="0 0 20 8" preserveAspectRatio="none"><path d="M1 7.5L10 1L19 7.5" fill="none" stroke="#222" stroke-width="1.6" vector-effect="non-scaling-stroke"/></svg></span><span class="sp"><span style="font-family:'Liberation Sans',sans-serif;font-style:italic">WAC</span></span> <span class="r" style="display:inline-block;font-size:190%;position:relative;top:0.08em;transform:scaleX(0.8);font-weight:normal">(</span><span class="m">θ</span><span style="display:inline-block;width:0;height:0;position:relative;left:-0.5em;top:-0.08em"><svg style="left:0;top:-.97em" width="0.50em" height=".2em" viewBox="0 0 20 8" preserveAspectRatio="none"><path d="M1 7.5L10 1L19 7.5" fill="none" stroke="#222" stroke-width="1.6" vector-effect="non-scaling-stroke"/></svg></span><span class="sp"><span style="font-family:'Liberation Sans',sans-serif;font-style:italic">WAC</span></span><span class="r">, </span><span class="mbi">β</span><span class="r" style="display:inline-block;font-size:190%;position:relative;top:0.08em;transform:scaleX(0.8);font-weight:normal">)</span><span class="r"> .</span></span></div>
<div class="L" style="left:1697.2px;top:1865.4px;transform:scaleX(1.0379);"><u></u><span class="b" style="font-size:33px;">Further, <span class="mbi">β</span><span style="display:inline-block;width:0;height:0;position:relative;left:-0.5em;top:-0.08em"><svg style="left:0;top:-.97em" width="0.53em" height=".2em" viewBox="0 0 20 8" preserveAspectRatio="none"><path d="M1 7.5L10 1L19 7.5" fill="none" stroke="#222" stroke-width="1.6" vector-effect="non-scaling-stroke"/></svg></span> <b>separates sparse and dense labels</b>:&nbsp; <span class="mbi">β</span><span style="display:inline-block;width:0;height:0;position:relative;left:-0.5em;top:-0.08em"><svg style="left:0;top:-.97em" width="0.53em" height=".2em" viewBox="0 0 20 8" preserveAspectRatio="none"><path d="M1 7.5L10 1L19 7.5" fill="none" stroke="#222" stroke-width="1.6" vector-effect="non-scaling-stroke"/></svg></span><span class="sb"><span class="r">[</span><span class="m">i</span><span class="r">]</span></span><span class="r"> = </span><span class="r" style="letter-spacing:-.2em;margin-right:.2em">II</span><span class="r"> {(</span><span class="mb">x</span><span class="sb"><span class="m">i</span></span><span class="r">, </span><span class="mb">y</span><span class="sb"><span class="m">i</span></span><span class="r">) </span><span class="r">~</span> <span class="m">P</span><span class="sb"><span class="r">1</span></span><span class="r">}</span> <i class="t" style="color:#000;-webkit-text-stroke:.55px #000">w.h.p.</i>.</span></div>
<div class="L" style="left:1680.0px;top:1995.0px;transform:scaleX(1.0249);"><u></u><span class="b" style="font-size:33px;">Inspired by [3], we introduce <b>AdaWAC</b> for solving Equation (1) based on the <b>online mirror descent</b></span></div>
<div class="L" style="left:1680.0px;top:2042.9px;transform:scaleX(1.0491);"><u></u><span class="b" style="font-size:33px;"><b>for saddle point problems</b> with <span class="m">O</span> <span class="r" style="display:inline-block;font-size:200%;position:relative;top:0.1em;transform:scaleX(0.8);font-weight:normal">(</span><span class="r">1/</span><span class="r" style="display:inline-block;transform:scaleY(1.22);transform-origin:50% 78%">√</span><span class="m" style="display:inline-block;position:relative">T<span style="position:absolute;left:-.04em;right:-.02em;top:-.5em;border-top:1.6px solid #222"></span></span><span class="r" style="display:inline-block;font-size:200%;position:relative;top:0.1em;transform:scaleX(0.8);font-weight:normal">)</span> convergence guarantee [2, Prop.&nbsp; 2].</span></div>
<div style="position:absolute;left:1680.0px;top:2287.2px;width:1439.0px;height:508.8px;background:#f5f6fb;"></div>
<div class="L" style="left:2201.2px;top:2136.3px;transform:scaleX(0.9438);"><u></u><span class="h" style="font-size:43.5px;">Algorithm: AdaWAC</span></div>
<div style="position:absolute;left:1680.0px;top:2361.6px;width:1439.0px;height:1.2px;background:#151515;"></div>
<div class="L" style="left:1720.0px;top:2197.8px;transform:scaleX(0.9250);"><u></u><span class="b" style="font-size:24px;">1:</span></div>
<div class="L" style="left:1720.0px;top:2239.6px;transform:scaleX(0.9250);"><u></u><span class="b" style="font-size:24px;">2:</span></div>
<div class="L" style="left:1720.0px;top:2282.6px;transform:scaleX(0.9250);"><u></u><span class="b" style="font-size:24px;">3:</span></div>
<div class="L" style="left:1720.0px;top:2330.6px;transform:scaleX(0.9250);"><u></u><span class="b" style="font-size:24px;">4:</span></div>
<div class="L" style="left:1720.0px;top:2384.0px;transform:scaleX(0.9250);"><u></u><span class="b" style="font-size:24px;">5:</span></div>
<div class="L" style="left:1720.0px;top:2433.2px;transform:scaleX(0.9250);"><u></u><span class="b" style="font-size:24px;">6:</span></div>
<div class="L" style="left:1720.0px;top:2476.2px;transform:scaleX(0.9250);"><u></u><span class="b" style="font-size:24px;">7:</span></div>
<div class="L" style="left:1720.0px;top:2531.6px;transform:scaleX(0.9250);"><u></u><span class="b" style="font-size:24px;">8:</span></div>
<div class="L" style="left:1720.0px;top:2577.6px;transform:scaleX(0.9250);"><u></u><span class="b" style="font-size:24px;">9:</span></div>
<div class="L" style="left:1756.8px;top:2197.8px;transform:scaleX(1.0301);"><u></u><span class="b" style="font-size:33px;">Initialize the sample weights <span class="mbi">β</span><span class="sb"><span class="r">0</span></span><span class="r"> = </span><b style="-webkit-text-stroke:1px #000">1</b><span class="r">/2 </span><span class="r" style="display:inline-block;width:.74em;height:0;position:relative;margin:0 .05em"><svg style="left:.04em;top:-.6em" width=".64em" height=".62em" viewBox="0 0 20 19"><path d="M19 1.2H9.5a8.3 8.3 0 0 0 0 16.6H19M1.4 9.5H19" fill="none" stroke="currentColor" stroke-width="1.7"/></svg></span><span class="r"> [0, 1]</span><span class="sp"><span class="m">n</span></span>.</span></div>
<div class="L" style="left:1756.8px;top:2239.6px;transform:scaleX(1.0269);"><u></u><span class="b" style="font-size:33px;"><b>for</b> <span class="m">t</span><span class="r"> = 1, . . . , </span><span class="m">T</span> <b>do</b></span></div>
<div class="L" style="left:1810.3px;top:2282.6px;transform:scaleX(1.0548);"><u></u><span class="b" style="font-size:33px;">Sample <span class="m">i</span><span class="sb"><span class="m">t</span></span> <span class="r">~</span><span class="r"> [</span><span class="m">n</span><span class="r">]</span> uniformly</span></div>
<div class="L" style="left:1810.3px;top:2330.6px;transform:scaleX(1.0823);"><u></u><span class="r" style="font-size:36px;"><span class="mb">b</span><span class="r"> ← </span><span class="r" style="display:inline-block;font-size:190%;position:relative;top:0.08em;transform:scaleX(0.8);font-weight:normal">[</span><span class="r">(</span><span class="mbi">β</span><span class="sb"><span class="m">t</span><span class="r">−1</span></span><span class="r">)</span><span class="sb"><span class="r">[</span><span class="m">i</span><span class="sb"><span class="m">t</span></span><span class="r">]</span></span><span class="r">, 1 − </span><span class="r">(</span><span class="mbi">β</span><span class="sb"><span class="m">t</span><span class="r">−1</span></span><span class="r">)</span><span class="sb"><span class="r">[</span><span class="m">i</span><span class="sb"><span class="m">t</span></span><span class="r">]</span></span><span class="r" style="display:inline-block;font-size:190%;position:relative;top:0.08em;transform:scaleX(0.8);font-weight:normal">]</span></span></div>
<div class="L" style="left:1810.3px;top:2384.0px;transform:scaleX(1.0169);"><u></u><span class="r" style="font-size:36px;"><span class="bl"><span class="mb">b</span><span class="sb"><span class="r">[1]</span></span><span class="r"> ← </span><span class="mb">b</span><span class="sb"><span class="r">[1]</span></span><span class="r"> · exp </span><span class="r" style="display:inline-block;font-size:130%;position:relative;top:0.05em;transform:scaleX(0.8);font-weight:normal">(</span><span class="m">η</span><span class="sb"><span class="mbi">β</span></span><span class="r"> · </span><span class="m">ℓ</span><span class="sb"><span style="font-family:'Liberation Sans',sans-serif;font-style:italic">CE</span></span> <span class="r" style="display:inline-block;font-size:130%;position:relative;top:0.05em;transform:scaleX(0.8);font-weight:normal">(</span><span class="m">θ</span><span class="sb"><span class="m">t</span><span class="r">−1</span></span><span class="r">; </span><span class="r" style="display:inline-block;font-size:130%;position:relative;top:0.05em;transform:scaleX(0.8);font-weight:normal">(</span><span class="mb">x</span><span class="sb"><span class="m">i</span><span class="sb"><span class="m">t</span></span></span><span class="r">, </span><span class="mb">y</span><span class="sb"><span class="m">i</span><span class="sb"><span class="m">t</span></span></span><span class="r" style="display:inline-block;font-size:130%;position:relative;top:0.05em;transform:scaleX(0.8);font-weight:normal">)</span><span class="r" style="display:inline-block;font-size:130%;position:relative;top:0.05em;transform:scaleX(0.8);font-weight:normal">)</span><span class="r" style="display:inline-block;font-size:130%;position:relative;top:0.05em;transform:scaleX(0.8);font-weight:normal">)</span></span></span></div>
<div class="L" style="left:1810.3px;top:2433.2px;transform:scaleX(1.0393);"><u></u><span class="r" style="font-size:36px;"><span class="bl"><span class="mb">b</span><span class="sb"><span class="r">[2]</span></span><span class="r"> ← </span><span class="mb">b</span><span class="sb"><span class="r">[2]</span></span><span class="r"> · exp </span><span class="r" style="display:inline-block;font-size:130%;position:relative;top:0.05em;transform:scaleX(0.8);font-weight:normal">(</span><span class="m">η</span><span class="sb"><span class="mbi">β</span></span><span class="r"> · </span><span class="m">ℓ</span><span class="sb"><span style="font-family:'Liberation Sans',sans-serif;font-style:italic">AC</span></span> <span class="r" style="display:inline-block;font-size:130%;position:relative;top:0.05em;transform:scaleX(0.8);font-weight:normal">(</span><span class="m">θ</span><span class="sb"><span class="m">t</span><span class="r">−1</span></span><span class="r">; </span><span class="mb">x</span><span class="sb"><span class="m">i</span><span class="sb"><span class="m">t</span></span></span><span class="r">, </span><span class="m">A</span><span class="sb"><span class="m">i</span><span class="sb"><span class="m">t</span></span><span class="r">,1</span></span><span class="r">, </span><span class="m">A</span><span class="sb"><span class="m">i</span><span class="sb"><span class="m">t</span></span><span class="r">,2</span></span><span class="r" style="display:inline-block;font-size:130%;position:relative;top:0.05em;transform:scaleX(0.8);font-weight:normal">)</span><span class="r" style="display:inline-block;font-size:130%;position:relative;top:0.05em;transform:scaleX(0.8);font-weight:normal">)</span></span></span></div>
<div class="L" style="left:1810.3px;top:2476.2px;transform:scaleX(1.0235);"><u></u><span class="r" style="font-size:36px;"><span class="bl"><span class="mbi">β</span><span class="sb"><span class="m">t</span></span><span class="r"> &nbsp;←&nbsp; </span><span class="mbi">β</span><span class="sb"><span class="m">t</span><span class="r">−1</span></span><span class="r">, &nbsp;</span><span class="r">(</span><span class="mbi">β</span><span class="sb"><span class="m">t</span></span><span class="r">)</span><span class="sb"><span class="r">[</span><span class="m">i</span><span class="sb"><span class="m">t</span></span><span class="r">]</span></span><span class="r"> &nbsp;←&nbsp; </span><span class="mb">b</span><span class="sb"><span class="r">[1]</span></span><span class="r"> / ‖</span><span class="mb">b</span><span class="r">‖</span><span class="sb"><span class="r">1</span></span></span></span></div>
<div class="L" style="left:1810.3px;top:2531.6px;transform:scaleX(1.1022);"><u></u><span class="r" style="font-size:29.5px;"><span class="m">θ</span><span class="sb"><span class="m">t</span></span><span class="r"> ← </span><span class="m">θ</span><span class="sb"><span class="m">t</span><span class="r">−1</span></span><span class="r"> − </span><span class="m">η</span><span class="sb"><span class="m">θ</span></span><span class="r"> · &nbsp;</span><span class="r" style="display:inline-block;font-size:190%;position:relative;top:0.08em;transform:scaleX(0.8);font-weight:normal">(</span><span class="r">(</span><span class="mbi">β</span><span class="sb"><span class="m">t</span></span><span class="r">)</span><span class="sb"><span class="r">[</span><span class="m">i</span><span class="sb"><span class="m">t</span></span><span class="r">]</span></span><span class="r"> · </span><span class="r" style="display:inline-block;transform:rotate(180deg);position:relative;top:-.04em">∆</span><span class="sb"><span class="m">θ</span></span><span class="m">ℓ</span><span class="sb"><span style="font-family:'Liberation Sans',sans-serif;font-style:italic">CE</span></span><span class="r"> (</span><span class="m">θ</span><span class="sb"><span class="m">t</span><span class="r">−1</span></span><span class="r">; </span><span class="r" style="display:inline-block;font-size:125%;position:relative;top:0.04em;transform:scaleX(0.8);font-weight:normal">(</span><span class="mb">x</span><span class="sb"><span class="m">i</span><span class="sb"><span class="m">t</span></span></span><span class="r">, </span><span class="mb">y</span><span class="sb"><span class="m">i</span><span class="sb"><span class="m">t</span></span></span><span class="r" style="display:inline-block;font-size:125%;position:relative;top:0.04em;transform:scaleX(0.8);font-weight:normal">)</span><span class="r">) + </span><span class="r" style="display:inline-block;font-size:190%;position:relative;top:0.08em;transform:scaleX(0.8);font-weight:normal">(</span><span class="r">1 − </span><span class="r">(</span><span class="mbi">β</span><span class="sb"><span class="m">t</span></span><span class="r">)</span><span class="sb"><span class="r">[</span><span class="m">i</span><span class="sb"><span class="m">t</span></span><span class="r">]</span></span><span class="r" style="display:inline-block;font-size:190%;position:relative;top:0.08em;transform:scaleX(0.8);font-weight:normal">)</span><span class="r"> · </span><span class="r" style="display:inline-block;transform:rotate(180deg);position:relative;top:-.04em">∆</span><span class="sb"><span class="m">θ</span></span><span class="m">ℓ</span><span class="sb"><span style="font-family:'Liberation Sans',sans-serif;font-style:italic">AC</span></span><span class="r"> (</span><span class="m">θ</span><span class="sb"><span class="m">t</span><span class="r">−1</span></span><span class="r">; </span><span class="mb">x</span><span class="sb"><span class="m">i</span><span class="sb"><span class="m">t</span></span></span><span class="r">, </span><span class="m">A</span><span class="sb"><span class="m">i</span><span class="sb"><span class="m">t</span></span><span class="r">,1</span></span><span class="r">, </span><span class="m">A</span><span class="sb"><span class="m">i</span><span class="sb"><span class="m">t</span></span><span class="r">,2</span></span><span class="r">)</span><span class="r" style="display:inline-block;font-size:190%;position:relative;top:0.08em;transform:scaleX(0.8);font-weight:normal">)</span></span></div>
<div class="L" style="left:1756.8px;top:2577.6px;transform:scaleX(1.0832);"><u></u><span class="b" style="font-size:33px;"><b>end for</b></span></div>
<div class="L" style="left:3833.9px;top:218.9px;transform:scaleX(0.9553);"><u></u><span class="h" style="font-size:43.5px;">Experiments</span></div>
<div style="position:absolute;left:3240.0px;top:443.4px;width:1440.0px;height:1.2px;background:#151515;"></div>
<div class="L" style="left:3240.0px;top:295.2px;transform:scaleX(1.0413);"><u></u><span class="b" style="font-size:33px;"><b>Visualization of <i class="t">AdaWAC</i></b>: <span class="mbi">β</span><span class="sb"><span class="m">t</span></span> learns to seperate <span class="m">ℓ</span><span class="sb"><span style="font-family:'Liberation Sans',sans-serif;font-style:italic">CE</span></span><span class="r"> (</span><span class="m">θ</span><span class="sb"><span class="m">t</span></span><span class="r">; (</span><span class="mb">x</span><span class="sb"><span class="m">i</span></span><span class="r">, </span><span class="mb">y</span><span class="sb"><span class="m">i</span></span><span class="r">))</span> of label-sparse/label-dense sam-</span></div>
<div class="L" style="left:3240.0px;top:338.6px;transform:scaleX(1.0451);"><u></u><span class="b" style="font-size:33px;">ples during training, with <span class="m">ℓ</span><span class="sb"><span style="font-family:'Liberation Sans',sans-serif;font-style:italic">AC</span></span> <span class="r" style="display:inline-block;font-size:130%;position:relative;top:0.05em;transform:scaleX(0.8);font-weight:normal">(</span><span class="m">θ</span><span class="sb"><span class="m">t</span></span><span class="r">; </span><span class="mb">x</span><span class="sb"><span class="m">i</span></span><span class="r">, </span><span class="m">A</span><span class="sb"><span class="m">i</span><span class="r">,1</span></span><span class="r">, </span><span class="m">A</span><span class="sb"><span class="m">i</span><span class="r">,2</span></span><span class="r" style="display:inline-block;font-size:130%;position:relative;top:0.05em;transform:scaleX(0.8);font-weight:normal">)</span> well mixed for all samples throughout the process.</span></div>
<svg style="left:3488.1px;top:602.3px" width="866.8" height="151.7" viewBox="0 0 866.8 151.7" shape-rendering="crispEdges"><rect x="0.0" width="3.2" height="151.7" fill="#eaf2fa"/><rect x="2.9" width="3.2" height="151.7" fill="#abcce7"/><rect x="5.8" width="3.2" height="151.7" fill="#8bb8de"/><rect x="8.7" width="3.2" height="151.7" fill="#6ca5d4"/><rect x="11.6" width="3.2" height="151.7" fill="#5295cd"/><rect x="14.4" width="3.2" height="151.7" fill="#5396cd"/><rect x="17.3" width="3.2" height="151.7" fill="#4c91cb"/><rect x="20.2" width="3.2" height="151.7" fill="#5094cc"/><rect x="23.1" width="3.2" height="151.7" fill="#5496cd"/><rect x="26.0" width="3.2" height="151.7" fill="#5d9cd0"/><rect x="28.9" width="3.2" height="151.7" fill="#78add8"/><rect x="31.8" width="3.2" height="151.7" fill="#a9cae7"/><rect x="34.7" width="3.2" height="151.7" fill="#d7e7f4"/><rect x="37.6" width="3.2" height="151.7" fill="#e9f1fa"/><rect x="40.5" width="6.1" height="151.7" fill="#eaf2fa"/><rect x="46.2" width="6.1" height="151.7" fill="#e9f1fa"/><rect x="52.0" width="3.2" height="151.7" fill="#e9f2fa"/><rect x="54.9" width="6.1" height="151.7" fill="#ebf3fa"/><rect x="60.7" width="3.2" height="151.7" fill="#e9f1fa"/><rect x="63.6" width="3.2" height="151.7" fill="#afcee8"/><rect x="66.5" width="3.2" height="151.7" fill="#8cb8de"/><rect x="69.3" width="3.2" height="151.7" fill="#72a9d6"/><rect x="72.2" width="3.2" height="151.7" fill="#5094cc"/><rect x="75.1" width="3.2" height="151.7" fill="#4c91cb"/><rect x="78.0" width="3.2" height="151.7" fill="#5396cd"/><rect x="80.9" width="6.1" height="151.7" fill="#4e92cb"/><rect x="86.7" width="3.2" height="151.7" fill="#5497cd"/><rect x="89.6" width="3.2" height="151.7" fill="#62a0d2"/><rect x="92.5" width="3.2" height="151.7" fill="#75aad7"/><rect x="95.3" width="3.2" height="151.7" fill="#b0cfe9"/><rect x="98.2" width="3.2" height="151.7" fill="#d8e7f5"/><rect x="101.1" width="3.2" height="151.7" fill="#ebf2fa"/><rect x="104.0" width="3.2" height="151.7" fill="#e9f1fa"/><rect x="106.9" width="3.2" height="151.7" fill="#e4eef8"/><rect x="109.8" width="3.2" height="151.7" fill="#a8cae6"/><rect x="112.7" width="3.2" height="151.7" fill="#95bee1"/><rect x="115.6" width="3.2" height="151.7" fill="#7fb1da"/><rect x="118.5" width="3.2" height="151.7" fill="#64a0d2"/><rect x="121.4" width="3.2" height="151.7" fill="#4f93cc"/><rect x="124.2" width="9.0" height="151.7" fill="#4d92cb"/><rect x="132.9" width="3.2" height="151.7" fill="#4e93cc"/><rect x="135.8" width="3.2" height="151.7" fill="#5195cc"/><rect x="138.7" width="3.2" height="151.7" fill="#4c91cb"/><rect x="141.6" width="3.2" height="151.7" fill="#5195cc"/><rect x="144.5" width="3.2" height="151.7" fill="#5e9cd0"/><rect x="147.4" width="3.2" height="151.7" fill="#6ea6d5"/><rect x="150.2" width="3.2" height="151.7" fill="#83b3db"/><rect x="153.1" width="3.2" height="151.7" fill="#accce8"/><rect x="156.0" width="3.2" height="151.7" fill="#d7e6f4"/><rect x="158.9" width="3.2" height="151.7" fill="#eaf2fa"/><rect x="161.8" width="3.2" height="151.7" fill="#ebf2fa"/><rect x="164.7" width="3.2" height="151.7" fill="#e9f1fa"/><rect x="167.6" width="3.2" height="151.7" fill="#b7d3eb"/><rect x="170.5" width="3.2" height="151.7" fill="#91bbdf"/><rect x="173.4" width="3.2" height="151.7" fill="#79add8"/><rect x="176.2" width="3.2" height="151.7" fill="#5c9bd0"/><rect x="179.1" width="3.2" height="151.7" fill="#4c91cb"/><rect x="182.0" width="3.2" height="151.7" fill="#5296cd"/><rect x="184.9" width="3.2" height="151.7" fill="#4f93cc"/><rect x="187.8" width="3.2" height="151.7" fill="#5194cc"/><rect x="190.7" width="3.2" height="151.7" fill="#4c91cb"/><rect x="193.6" width="3.2" height="151.7" fill="#5999cf"/><rect x="196.5" width="3.2" height="151.7" fill="#71a8d6"/><rect x="199.4" width="3.2" height="151.7" fill="#b0cfe9"/><rect x="202.3" width="3.2" height="151.7" fill="#d7e6f4"/><rect x="205.1" width="9.0" height="151.7" fill="#ebf3fa"/><rect x="213.8" width="9.0" height="151.7" fill="#eaf2fa"/><rect x="222.5" width="3.2" height="151.7" fill="#dbe9f6"/><rect x="225.4" width="3.2" height="151.7" fill="#7cafd9"/><rect x="228.3" width="3.2" height="151.7" fill="#5295cd"/><rect x="231.1" width="3.2" height="151.7" fill="#5296cd"/><rect x="234.0" width="3.2" height="151.7" fill="#5396cd"/><rect x="236.9" width="3.2" height="151.7" fill="#4c91cb"/><rect x="239.8" width="3.2" height="151.7" fill="#b6d3eb"/><rect x="242.7" width="3.2" height="151.7" fill="#afcee8"/><rect x="245.6" width="3.2" height="151.7" fill="#b1cfe9"/><rect x="248.5" width="3.2" height="151.7" fill="#b3d1ea"/><rect x="251.4" width="3.2" height="151.7" fill="#e8f1f9"/><rect x="254.3" width="3.2" height="151.7" fill="#e6f0f9"/><rect x="257.2" width="3.2" height="151.7" fill="#ebf3fa"/><rect x="260.0" width="3.2" height="151.7" fill="#eaf2fa"/><rect x="262.9" width="6.1" height="151.7" fill="#e9f2fa"/><rect x="268.7" width="6.1" height="151.7" fill="#e9f1fa"/><rect x="274.5" width="3.2" height="151.7" fill="#8fbadf"/><rect x="277.4" width="6.1" height="151.7" fill="#5497cd"/><rect x="283.2" width="3.2" height="151.7" fill="#4d92cb"/><rect x="286.0" width="3.2" height="151.7" fill="#66a1d2"/><rect x="288.9" width="3.2" height="151.7" fill="#b0cfe9"/><rect x="291.8" width="6.1" height="151.7" fill="#eaf2fa"/><rect x="297.6" width="3.2" height="151.7" fill="#e9f1fa"/><rect x="300.5" width="3.2" height="151.7" fill="#eaf2fa"/><rect x="303.4" width="3.2" height="151.7" fill="#ebf3fa"/><rect x="306.3" width="6.1" height="151.7" fill="#eaf2fa"/><rect x="312.0" width="3.2" height="151.7" fill="#e9f1fa"/><rect x="314.9" width="3.2" height="151.7" fill="#b4d2ea"/><rect x="317.8" width="3.2" height="151.7" fill="#80b1da"/><rect x="320.7" width="3.2" height="151.7" fill="#5798ce"/><rect x="323.6" width="3.2" height="151.7" fill="#5396cd"/><rect x="326.5" width="3.2" height="151.7" fill="#4d92cb"/><rect x="329.4" width="3.2" height="151.7" fill="#5295cd"/><rect x="332.3" width="3.2" height="151.7" fill="#62a0d2"/><rect x="335.2" width="3.2" height="151.7" fill="#83b3db"/><rect x="338.1" width="3.2" height="151.7" fill="#d8e7f5"/><rect x="340.9" width="3.2" height="151.7" fill="#e9f1fa"/><rect x="343.8" width="3.2" height="151.7" fill="#eaf2fa"/><rect x="346.7" width="3.2" height="151.7" fill="#e9f1fa"/><rect x="349.6" width="3.2" height="151.7" fill="#ebf3fa"/><rect x="352.5" width="3.2" height="151.7" fill="#e9f2fa"/><rect x="355.4" width="3.2" height="151.7" fill="#eaf2fa"/><rect x="358.3" width="3.2" height="151.7" fill="#a6c9e6"/><rect x="361.2" width="3.2" height="151.7" fill="#6ea7d5"/><rect x="364.1" width="3.2" height="151.7" fill="#5497cd"/><rect x="366.9" width="6.1" height="151.7" fill="#5094cc"/><rect x="372.7" width="3.2" height="151.7" fill="#6fa7d5"/><rect x="375.6" width="3.2" height="151.7" fill="#accce8"/><rect x="378.5" width="3.2" height="151.7" fill="#e9f2fa"/><rect x="381.4" width="3.2" height="151.7" fill="#eaf2fa"/><rect x="384.3" width="3.2" height="151.7" fill="#e9f1fa"/><rect x="387.2" width="3.2" height="151.7" fill="#eaf2fa"/><rect x="390.1" width="6.1" height="151.7" fill="#ebf3fa"/><rect x="395.8" width="3.2" height="151.7" fill="#e3eef8"/><rect x="398.7" width="3.2" height="151.7" fill="#8ebadf"/><rect x="401.6" width="3.2" height="151.7" fill="#5a9acf"/><rect x="404.5" width="3.2" height="151.7" fill="#4d92cb"/><rect x="407.4" width="3.2" height="151.7" fill="#4e93cb"/><rect x="410.3" width="3.2" height="151.7" fill="#5296cd"/><rect x="413.2" width="3.2" height="151.7" fill="#70a8d5"/><rect x="416.1" width="3.2" height="151.7" fill="#abcce7"/><rect x="419.0" width="6.1" height="151.7" fill="#ebf3fa"/><rect x="424.7" width="3.2" height="151.7" fill="#ebf2fa"/><rect x="427.6" width="3.2" height="151.7" fill="#eaf2fa"/><rect x="430.5" width="3.2" height="151.7" fill="#ebf3fa"/><rect x="433.4" width="3.2" height="151.7" fill="#eaf2fa"/><rect x="436.3" width="3.2" height="151.7" fill="#ebf2fa"/><rect x="439.2" width="3.2" height="151.7" fill="#e9f2fa"/><rect x="442.1" width="3.2" height="151.7" fill="#eaf2fa"/><rect x="445.0" width="3.2" height="151.7" fill="#ebf3fa"/><rect x="447.8" width="3.2" height="151.7" fill="#ebf2fa"/><rect x="450.7" width="3.2" height="151.7" fill="#a1c5e4"/><rect x="453.6" width="3.2" height="151.7" fill="#80b2da"/><rect x="456.5" width="3.2" height="151.7" fill="#5899ce"/><rect x="459.4" width="3.2" height="151.7" fill="#5194cc"/><rect x="462.3" width="3.2" height="151.7" fill="#4c91cb"/><rect x="465.2" width="3.2" height="151.7" fill="#5094cc"/><rect x="468.1" width="3.2" height="151.7" fill="#4e93cb"/><rect x="471.0" width="3.2" height="151.7" fill="#67a2d3"/><rect x="473.9" width="3.2" height="151.7" fill="#83b3db"/><rect x="476.7" width="3.2" height="151.7" fill="#d8e7f5"/><rect x="479.6" width="3.2" height="151.7" fill="#eaf2fa"/><rect x="482.5" width="3.2" height="151.7" fill="#ebf3fa"/><rect x="485.4" width="6.1" height="151.7" fill="#eaf2fa"/><rect x="491.2" width="3.2" height="151.7" fill="#ebf2fa"/><rect x="494.1" width="3.2" height="151.7" fill="#ebf3fa"/><rect x="497.0" width="3.2" height="151.7" fill="#9bc2e2"/><rect x="499.9" width="3.2" height="151.7" fill="#68a3d3"/><rect x="502.7" width="3.2" height="151.7" fill="#5396cd"/><rect x="505.6" width="3.2" height="151.7" fill="#5295cc"/><rect x="508.5" width="3.2" height="151.7" fill="#5497cd"/><rect x="511.4" width="3.2" height="151.7" fill="#75abd7"/><rect x="514.3" width="3.2" height="151.7" fill="#d8e7f4"/><rect x="517.2" width="3.2" height="151.7" fill="#eaf2fa"/><rect x="520.1" width="3.2" height="151.7" fill="#e9f1fa"/><rect x="523.0" width="6.1" height="151.7" fill="#ebf3fa"/><rect x="528.7" width="3.2" height="151.7" fill="#eaf2fa"/><rect x="531.6" width="9.0" height="151.7" fill="#ebf2fa"/><rect x="540.3" width="3.2" height="151.7" fill="#e9f1fa"/><rect x="543.2" width="3.2" height="151.7" fill="#dbe9f6"/><rect x="546.1" width="3.2" height="151.7" fill="#9bc2e2"/><rect x="549.0" width="3.2" height="151.7" fill="#75abd7"/><rect x="551.9" width="3.2" height="151.7" fill="#4f94cc"/><rect x="554.8" width="3.2" height="151.7" fill="#5195cc"/><rect x="557.6" width="3.2" height="151.7" fill="#5296cd"/><rect x="560.5" width="3.2" height="151.7" fill="#5195cc"/><rect x="563.4" width="3.2" height="151.7" fill="#5295cd"/><rect x="566.3" width="3.2" height="151.7" fill="#8ab7dd"/><rect x="569.2" width="3.2" height="151.7" fill="#b0cee9"/><rect x="572.1" width="3.2" height="151.7" fill="#b2d0e9"/><rect x="575.0" width="3.2" height="151.7" fill="#b4d1ea"/><rect x="577.9" width="3.2" height="151.7" fill="#b0cfe9"/><rect x="580.8" width="3.2" height="151.7" fill="#b4d1ea"/><rect x="583.6" width="3.2" height="151.7" fill="#e7f0f9"/><rect x="586.5" width="3.2" height="151.7" fill="#e6eff9"/><rect x="589.4" width="3.2" height="151.7" fill="#e7f0f9"/><rect x="592.3" width="9.0" height="151.7" fill="#e9f1fa"/><rect x="601.0" width="3.2" height="151.7" fill="#e9f2fa"/><rect x="603.9" width="9.0" height="151.7" fill="#e9f1fa"/><rect x="612.5" width="6.1" height="151.7" fill="#eaf2fa"/><rect x="618.3" width="3.2" height="151.7" fill="#a6c9e6"/><rect x="621.2" width="3.2" height="151.7" fill="#85b5dc"/><rect x="624.1" width="3.2" height="151.7" fill="#629fd1"/><rect x="627.0" width="3.2" height="151.7" fill="#5396cd"/><rect x="629.9" width="3.2" height="151.7" fill="#4c91cb"/><rect x="632.8" width="3.2" height="151.7" fill="#4f93cc"/><rect x="635.7" width="3.2" height="151.7" fill="#4e93cb"/><rect x="638.5" width="3.2" height="151.7" fill="#4f93cc"/><rect x="641.4" width="3.2" height="151.7" fill="#5e9cd0"/><rect x="644.3" width="3.2" height="151.7" fill="#7db0d9"/><rect x="647.2" width="3.2" height="151.7" fill="#abcce7"/><rect x="650.1" width="3.2" height="151.7" fill="#e9f1fa"/><rect x="653.0" width="3.2" height="151.7" fill="#eaf2fa"/><rect x="655.9" width="3.2" height="151.7" fill="#e9f1fa"/><rect x="658.8" width="9.0" height="151.7" fill="#eaf2fa"/><rect x="667.4" width="6.1" height="151.7" fill="#ebf3fa"/><rect x="673.2" width="3.2" height="151.7" fill="#eaf2fa"/><rect x="676.1" width="3.2" height="151.7" fill="#ebf3fa"/><rect x="679.0" width="3.2" height="151.7" fill="#e3eef8"/><rect x="681.9" width="3.2" height="151.7" fill="#96bfe1"/><rect x="684.8" width="3.2" height="151.7" fill="#6ba4d4"/><rect x="687.7" width="3.2" height="151.7" fill="#5195cc"/><rect x="690.6" width="3.2" height="151.7" fill="#5194cc"/><rect x="693.4" width="6.1" height="151.7" fill="#5497cd"/><rect x="699.2" width="3.2" height="151.7" fill="#629fd1"/><rect x="702.1" width="3.2" height="151.7" fill="#80b1da"/><rect x="705.0" width="3.2" height="151.7" fill="#d9e8f5"/><rect x="707.9" width="6.1" height="151.7" fill="#e9f1fa"/><rect x="713.7" width="6.1" height="151.7" fill="#eaf2fa"/><rect x="719.4" width="3.2" height="151.7" fill="#e9f1fa"/><rect x="722.3" width="3.2" height="151.7" fill="#eaf2fa"/><rect x="725.2" width="3.2" height="151.7" fill="#ebf3fa"/><rect x="728.1" width="6.1" height="151.7" fill="#eaf2fa"/><rect x="733.9" width="3.2" height="151.7" fill="#a0c4e4"/><rect x="736.8" width="3.2" height="151.7" fill="#75aad7"/><rect x="739.7" width="3.2" height="151.7" fill="#5497cd"/><rect x="742.6" width="3.2" height="151.7" fill="#4f93cc"/><rect x="745.4" width="3.2" height="151.7" fill="#5497cd"/><rect x="748.3" width="3.2" height="151.7" fill="#5396cd"/><rect x="751.2" width="3.2" height="151.7" fill="#65a1d2"/><rect x="754.1" width="3.2" height="151.7" fill="#aacbe7"/><rect x="757.0" width="3.2" height="151.7" fill="#d9e8f5"/><rect x="759.9" width="6.1" height="151.7" fill="#eaf2fa"/><rect x="765.7" width="3.2" height="151.7" fill="#e9f2fa"/><rect x="768.6" width="3.2" height="151.7" fill="#ebf3fa"/><rect x="771.5" width="3.2" height="151.7" fill="#eaf2fa"/><rect x="774.3" width="3.2" height="151.7" fill="#95bee1"/><rect x="777.2" width="3.2" height="151.7" fill="#5e9cd0"/><rect x="780.1" width="3.2" height="151.7" fill="#4d92cb"/><rect x="783.0" width="6.1" height="151.7" fill="#5195cc"/><rect x="788.8" width="3.2" height="151.7" fill="#7cafd9"/><rect x="791.7" width="6.1" height="151.7" fill="#ebf3fa"/><rect x="797.5" width="3.2" height="151.7" fill="#e9f1fa"/><rect x="800.3" width="3.2" height="151.7" fill="#eaf2fa"/><rect x="803.2" width="3.2" height="151.7" fill="#e9f2fa"/><rect x="806.1" width="3.2" height="151.7" fill="#e4eef8"/><rect x="809.0" width="3.2" height="151.7" fill="#84b4db"/><rect x="811.9" width="6.1" height="151.7" fill="#4e93cb"/><rect x="817.7" width="3.2" height="151.7" fill="#4d92cb"/><rect x="820.6" width="3.2" height="151.7" fill="#599acf"/><rect x="823.5" width="3.2" height="151.7" fill="#7dafd9"/><rect x="826.3" width="3.2" height="151.7" fill="#d8e7f5"/><rect x="829.2" width="9.0" height="151.7" fill="#eaf2fa"/><rect x="837.9" width="3.2" height="151.7" fill="#ebf3fa"/><rect x="840.8" width="3.2" height="151.7" fill="#e9f1fa"/><rect x="843.7" width="3.2" height="151.7" fill="#ebf3fa"/><rect x="846.6" width="3.2" height="151.7" fill="#e9f2fa"/><rect x="849.5" width="3.2" height="151.7" fill="#96bfe1"/><rect x="852.4" width="3.2" height="151.7" fill="#5798ce"/><rect x="855.2" width="3.2" height="151.7" fill="#4e93cc"/><rect x="858.1" width="3.2" height="151.7" fill="#5094cc"/><rect x="861.0" width="3.2" height="151.7" fill="#629fd1"/><rect x="863.9" width="3.2" height="151.7" fill="#abcce7"/><defs><linearGradient id="g3" x1="0" y1="0" x2="0" y2="1"><stop offset="0" stop-color="#1f5fae" stop-opacity="0"/><stop offset=".75" stop-color="#1f5fae" stop-opacity="0.02"/><stop offset=".92" stop-color="#1f5fae" stop-opacity=".22"/><stop offset=".975" stop-color="#1f5fae" stop-opacity=".45"/><stop offset="1" stop-color="#184f9c" stop-opacity=".75"/></linearGradient></defs><rect width="866.8" height="151.7" fill="url(#g3)"/><rect x="35.5" width="2" height="151.7" fill="#000"/><rect x="99.4" width="2" height="151.7" fill="#000"/><rect x="157.8" width="2" height="151.7" fill="#000"/><rect x="203.6" width="2" height="151.7" fill="#000"/><rect x="255.0" width="2" height="151.7" fill="#000"/><rect x="290.3" width="2" height="151.7" fill="#000"/><rect x="338.9" width="2" height="151.7" fill="#000"/><rect x="377.3" width="2" height="151.7" fill="#000"/><rect x="418.1" width="2" height="151.7" fill="#000"/><rect x="478.1" width="2" height="151.7" fill="#000"/><rect x="515.7" width="2" height="151.7" fill="#000"/><rect x="592.2" width="2" height="151.7" fill="#000"/><rect x="650.2" width="2" height="151.7" fill="#000"/><rect x="706.2" width="2" height="151.7" fill="#000"/><rect x="757.6" width="2" height="151.7" fill="#000"/><rect x="792.1" width="2" height="151.7" fill="#000"/><rect x="827.0" width="2" height="151.7" fill="#000"/><line x1="2.0" y1="0" x2="2.0" y2="151.7" stroke="#8e1f93" stroke-width="1.9" stroke-dasharray="5.6 3.1"/><line x1="62.7" y1="0" x2="62.7" y2="151.7" stroke="#8e1f93" stroke-width="1.9" stroke-dasharray="5.6 3.1"/><line x1="107.4" y1="0" x2="107.4" y2="151.7" stroke="#8e1f93" stroke-width="1.9" stroke-dasharray="5.6 3.1"/><line x1="167.4" y1="0" x2="167.4" y2="151.7" stroke="#8e1f93" stroke-width="1.9" stroke-dasharray="5.6 3.1"/><line x1="222.3" y1="0" x2="222.3" y2="151.7" stroke="#8e1f93" stroke-width="1.9" stroke-dasharray="5.6 3.1"/><line x1="250.1" y1="0" x2="250.1" y2="151.7" stroke="#8e1f93" stroke-width="1.9" stroke-dasharray="5.6 3.1"/><line x1="273.6" y1="0" x2="273.6" y2="151.7" stroke="#8e1f93" stroke-width="1.9" stroke-dasharray="5.6 3.1"/><line x1="315.2" y1="0" x2="315.2" y2="151.7" stroke="#8e1f93" stroke-width="1.9" stroke-dasharray="5.6 3.1"/><line x1="357.9" y1="0" x2="357.9" y2="151.7" stroke="#8e1f93" stroke-width="1.9" stroke-dasharray="5.6 3.1"/><line x1="397.1" y1="0" x2="397.1" y2="151.7" stroke="#8e1f93" stroke-width="1.9" stroke-dasharray="5.6 3.1"/><line x1="449.7" y1="0" x2="449.7" y2="151.7" stroke="#8e1f93" stroke-width="1.9" stroke-dasharray="5.6 3.1"/><line x1="496.3" y1="0" x2="496.3" y2="151.7" stroke="#8e1f93" stroke-width="1.9" stroke-dasharray="5.6 3.1"/><line x1="543.0" y1="0" x2="543.0" y2="151.7" stroke="#8e1f93" stroke-width="1.9" stroke-dasharray="5.6 3.1"/><line x1="583.4" y1="0" x2="583.4" y2="151.7" stroke="#8e1f93" stroke-width="1.9" stroke-dasharray="5.6 3.1"/><line x1="617.1" y1="0" x2="617.1" y2="151.7" stroke="#8e1f93" stroke-width="1.9" stroke-dasharray="5.6 3.1"/><line x1="680.2" y1="0" x2="680.2" y2="151.7" stroke="#8e1f93" stroke-width="1.9" stroke-dasharray="5.6 3.1"/><line x1="733.1" y1="0" x2="733.1" y2="151.7" stroke="#8e1f93" stroke-width="1.9" stroke-dasharray="5.6 3.1"/><line x1="773.5" y1="0" x2="773.5" y2="151.7" stroke="#8e1f93" stroke-width="1.9" stroke-dasharray="5.6 3.1"/><line x1="806.8" y1="0" x2="806.8" y2="151.7" stroke="#8e1f93" stroke-width="1.9" stroke-dasharray="5.6 3.1"/><line x1="848.8" y1="0" x2="848.8" y2="151.7" stroke="#8e1f93" stroke-width="1.9" stroke-dasharray="5.6 3.1"/></svg>
<svg style="left:3488.1px;top:783.6px" width="866.8" height="151.7" viewBox="0 0 866.8 151.7" shape-rendering="crispEdges"><rect x="0.0" width="3.2" height="151.7" fill="#98cb95"/><rect x="2.9" width="3.2" height="151.7" fill="#70a67a"/><rect x="5.8" width="3.2" height="151.7" fill="#558d66"/><rect x="8.7" width="3.2" height="151.7" fill="#437c59"/><rect x="11.6" width="3.2" height="151.7" fill="#447d5a"/><rect x="14.4" width="3.2" height="151.7" fill="#417a57"/><rect x="17.3" width="3.2" height="151.7" fill="#447d5a"/><rect x="20.2" width="3.2" height="151.7" fill="#417a57"/><rect x="23.1" width="3.2" height="151.7" fill="#437c59"/><rect x="26.0" width="3.2" height="151.7" fill="#457e5b"/><rect x="28.9" width="3.2" height="151.7" fill="#48815d"/><rect x="31.8" width="3.2" height="151.7" fill="#76ac7f"/><rect x="34.7" width="3.2" height="151.7" fill="#97cb98"/><rect x="37.6" width="26.3" height="151.7" fill="#a6d9a3"/><rect x="63.6" width="3.2" height="151.7" fill="#75ab7f"/><rect x="66.5" width="3.2" height="151.7" fill="#5c946c"/><rect x="69.3" width="3.2" height="151.7" fill="#447c59"/><rect x="72.2" width="6.1" height="151.7" fill="#457e5b"/><rect x="78.0" width="3.2" height="151.7" fill="#417a57"/><rect x="80.9" width="9.0" height="151.7" fill="#437c59"/><rect x="89.6" width="3.2" height="151.7" fill="#427b58"/><rect x="92.5" width="3.2" height="151.7" fill="#47805c"/><rect x="95.3" width="3.2" height="151.7" fill="#75ab7f"/><rect x="98.2" width="3.2" height="151.7" fill="#97cb98"/><rect x="101.1" width="6.1" height="151.7" fill="#a6d9a3"/><rect x="106.9" width="3.2" height="151.7" fill="#a0d39e"/><rect x="109.8" width="3.2" height="151.7" fill="#72a87d"/><rect x="112.7" width="3.2" height="151.7" fill="#60986f"/><rect x="115.6" width="3.2" height="151.7" fill="#4e8762"/><rect x="118.5" width="3.2" height="151.7" fill="#407956"/><rect x="121.4" width="3.2" height="151.7" fill="#447d5a"/><rect x="124.2" width="6.1" height="151.7" fill="#467f5c"/><rect x="130.0" width="3.2" height="151.7" fill="#447d5a"/><rect x="132.9" width="3.2" height="151.7" fill="#407956"/><rect x="135.8" width="3.2" height="151.7" fill="#457e5b"/><rect x="138.7" width="3.2" height="151.7" fill="#417a57"/><rect x="141.6" width="3.2" height="151.7" fill="#447d5a"/><rect x="144.5" width="3.2" height="151.7" fill="#467f5c"/><rect x="147.4" width="3.2" height="151.7" fill="#457e5b"/><rect x="150.2" width="3.2" height="151.7" fill="#4f8761"/><rect x="153.1" width="3.2" height="151.7" fill="#73a97d"/><rect x="156.0" width="3.2" height="151.7" fill="#97cb98"/><rect x="158.9" width="6.1" height="151.7" fill="#a6d9a3"/><rect x="164.7" width="3.2" height="151.7" fill="#98cb95"/><rect x="167.6" width="3.2" height="151.7" fill="#78ad80"/><rect x="170.5" width="3.2" height="151.7" fill="#639b72"/><rect x="173.4" width="3.2" height="151.7" fill="#47805b"/><rect x="176.2" width="3.2" height="151.7" fill="#417a57"/><rect x="179.1" width="3.2" height="151.7" fill="#437c59"/><rect x="182.0" width="6.1" height="151.7" fill="#447d5a"/><rect x="187.8" width="3.2" height="151.7" fill="#427b58"/><rect x="190.7" width="3.2" height="151.7" fill="#437c59"/><rect x="193.6" width="3.2" height="151.7" fill="#417a57"/><rect x="196.5" width="3.2" height="151.7" fill="#467f5b"/><rect x="199.4" width="3.2" height="151.7" fill="#75ab7f"/><rect x="202.3" width="3.2" height="151.7" fill="#97cb98"/><rect x="205.1" width="9.0" height="151.7" fill="#a6d9a3"/><rect x="213.8" width="3.2" height="151.7" fill="#98cb95"/><rect x="216.7" width="6.1" height="151.7" fill="#a6d9a3"/><rect x="222.5" width="3.2" height="151.7" fill="#9acd9a"/><rect x="225.4" width="3.2" height="151.7" fill="#538b66"/><rect x="228.3" width="3.2" height="151.7" fill="#427b58"/><rect x="231.1" width="3.2" height="151.7" fill="#407956"/><rect x="234.0" width="3.2" height="151.7" fill="#447d5a"/><rect x="236.9" width="3.2" height="151.7" fill="#417a57"/><rect x="239.8" width="3.2" height="151.7" fill="#7ab082"/><rect x="242.7" width="3.2" height="151.7" fill="#79af82"/><rect x="245.6" width="3.2" height="151.7" fill="#7cb284"/><rect x="248.5" width="3.2" height="151.7" fill="#7aaf82"/><rect x="251.4" width="3.2" height="151.7" fill="#96c993"/><rect x="254.3" width="3.2" height="151.7" fill="#a4d7a1"/><rect x="257.2" width="6.1" height="151.7" fill="#a6d9a3"/><rect x="262.9" width="3.2" height="151.7" fill="#98cb95"/><rect x="265.8" width="9.0" height="151.7" fill="#a6d9a3"/><rect x="274.5" width="3.2" height="151.7" fill="#5f966e"/><rect x="277.4" width="6.1" height="151.7" fill="#417a57"/><rect x="283.2" width="3.2" height="151.7" fill="#427b58"/><rect x="286.0" width="3.2" height="151.7" fill="#447d5a"/><rect x="288.9" width="3.2" height="151.7" fill="#73a97c"/><rect x="291.8" width="9.0" height="151.7" fill="#a6d9a3"/><rect x="300.5" width="3.2" height="151.7" fill="#98cb95"/><rect x="303.4" width="9.0" height="151.7" fill="#a6d9a3"/><rect x="312.0" width="3.2" height="151.7" fill="#98cb95"/><rect x="314.9" width="3.2" height="151.7" fill="#79af81"/><rect x="317.8" width="3.2" height="151.7" fill="#528a64"/><rect x="320.7" width="3.2" height="151.7" fill="#457e5b"/><rect x="323.6" width="3.2" height="151.7" fill="#437c59"/><rect x="326.5" width="3.2" height="151.7" fill="#427b58"/><rect x="329.4" width="3.2" height="151.7" fill="#457e5b"/><rect x="332.3" width="3.2" height="151.7" fill="#407956"/><rect x="335.2" width="3.2" height="151.7" fill="#548c66"/><rect x="338.1" width="3.2" height="151.7" fill="#97cb98"/><rect x="340.9" width="17.6" height="151.7" fill="#a6d9a3"/><rect x="358.3" width="3.2" height="151.7" fill="#6ea479"/><rect x="361.2" width="3.2" height="151.7" fill="#417a57"/><rect x="364.1" width="3.2" height="151.7" fill="#447d5a"/><rect x="366.9" width="3.2" height="151.7" fill="#427b58"/><rect x="369.8" width="3.2" height="151.7" fill="#417a57"/><rect x="372.7" width="3.2" height="151.7" fill="#427b58"/><rect x="375.6" width="3.2" height="151.7" fill="#75ab7f"/><rect x="378.5" width="17.6" height="151.7" fill="#a6d9a3"/><rect x="395.8" width="3.2" height="151.7" fill="#a0d39e"/><rect x="398.7" width="3.2" height="151.7" fill="#5f976f"/><rect x="401.6" width="3.2" height="151.7" fill="#427b58"/><rect x="404.5" width="3.2" height="151.7" fill="#407956"/><rect x="407.4" width="3.2" height="151.7" fill="#467f5c"/><rect x="410.3" width="6.1" height="151.7" fill="#417a57"/><rect x="416.1" width="3.2" height="151.7" fill="#72a87b"/><rect x="419.0" width="32.1" height="151.7" fill="#a6d9a3"/><rect x="450.7" width="3.2" height="151.7" fill="#6ca378"/><rect x="453.6" width="3.2" height="151.7" fill="#518964"/><rect x="456.5" width="3.2" height="151.7" fill="#447d5a"/><rect x="459.4" width="6.1" height="151.7" fill="#437c59"/><rect x="465.2" width="9.0" height="151.7" fill="#417a57"/><rect x="473.9" width="3.2" height="151.7" fill="#538b65"/><rect x="476.7" width="3.2" height="151.7" fill="#97cb98"/><rect x="479.6" width="6.1" height="151.7" fill="#a6d9a3"/><rect x="485.4" width="3.2" height="151.7" fill="#98cb95"/><rect x="488.3" width="9.0" height="151.7" fill="#a6d9a3"/><rect x="497.0" width="3.2" height="151.7" fill="#69a076"/><rect x="499.9" width="3.2" height="151.7" fill="#457e5b"/><rect x="502.7" width="3.2" height="151.7" fill="#447d5a"/><rect x="505.6" width="3.2" height="151.7" fill="#407956"/><rect x="508.5" width="3.2" height="151.7" fill="#457e5b"/><rect x="511.4" width="3.2" height="151.7" fill="#447d5a"/><rect x="514.3" width="3.2" height="151.7" fill="#97cb98"/><rect x="517.2" width="26.3" height="151.7" fill="#a6d9a3"/><rect x="543.2" width="3.2" height="151.7" fill="#9acd9a"/><rect x="546.1" width="3.2" height="151.7" fill="#679e74"/><rect x="549.0" width="3.2" height="151.7" fill="#48815d"/><rect x="551.9" width="6.1" height="151.7" fill="#417a57"/><rect x="557.6" width="3.2" height="151.7" fill="#407956"/><rect x="560.5" width="3.2" height="151.7" fill="#417a57"/><rect x="563.4" width="3.2" height="151.7" fill="#407956"/><rect x="566.3" width="3.2" height="151.7" fill="#5b936b"/><rect x="569.2" width="3.2" height="151.7" fill="#7cb285"/><rect x="572.1" width="3.2" height="151.7" fill="#79ae81"/><rect x="575.0" width="3.2" height="151.7" fill="#78ae81"/><rect x="577.9" width="3.2" height="151.7" fill="#79af82"/><rect x="580.8" width="3.2" height="151.7" fill="#78ae80"/><rect x="583.6" width="9.0" height="151.7" fill="#a4d7a1"/><rect x="592.3" width="9.0" height="151.7" fill="#a6d9a3"/><rect x="601.0" width="3.2" height="151.7" fill="#98cb95"/><rect x="603.9" width="14.7" height="151.7" fill="#a6d9a3"/><rect x="618.3" width="3.2" height="151.7" fill="#6ea579"/><rect x="621.2" width="3.2" height="151.7" fill="#568d67"/><rect x="624.1" width="3.2" height="151.7" fill="#417a57"/><rect x="627.0" width="3.2" height="151.7" fill="#407956"/><rect x="629.9" width="6.1" height="151.7" fill="#457e5b"/><rect x="635.7" width="3.2" height="151.7" fill="#437c59"/><rect x="638.5" width="3.2" height="151.7" fill="#467f5c"/><rect x="641.4" width="3.2" height="151.7" fill="#447d5a"/><rect x="644.3" width="3.2" height="151.7" fill="#4b835e"/><rect x="647.2" width="3.2" height="151.7" fill="#76ac80"/><rect x="650.1" width="29.2" height="151.7" fill="#a6d9a3"/><rect x="679.0" width="3.2" height="151.7" fill="#a0d39e"/><rect x="681.9" width="3.2" height="151.7" fill="#639a71"/><rect x="684.8" width="3.2" height="151.7" fill="#447d5a"/><rect x="687.7" width="3.2" height="151.7" fill="#457e5b"/><rect x="690.6" width="3.2" height="151.7" fill="#467f5c"/><rect x="693.4" width="3.2" height="151.7" fill="#417a57"/><rect x="696.3" width="6.1" height="151.7" fill="#447d5a"/><rect x="702.1" width="3.2" height="151.7" fill="#508862"/><rect x="705.0" width="3.2" height="151.7" fill="#97cb98"/><rect x="707.9" width="11.9" height="151.7" fill="#a6d9a3"/><rect x="719.4" width="3.2" height="151.7" fill="#98cb95"/><rect x="722.3" width="3.2" height="151.7" fill="#a6d9a3"/><rect x="725.2" width="3.2" height="151.7" fill="#98cb95"/><rect x="728.1" width="6.1" height="151.7" fill="#a6d9a3"/><rect x="733.9" width="3.2" height="151.7" fill="#6da378"/><rect x="736.8" width="3.2" height="151.7" fill="#49815d"/><rect x="739.7" width="3.2" height="151.7" fill="#427b58"/><rect x="742.6" width="3.2" height="151.7" fill="#437c59"/><rect x="745.4" width="3.2" height="151.7" fill="#457e5b"/><rect x="748.3" width="3.2" height="151.7" fill="#437c59"/><rect x="751.2" width="3.2" height="151.7" fill="#417a57"/><rect x="754.1" width="3.2" height="151.7" fill="#72a87b"/><rect x="757.0" width="3.2" height="151.7" fill="#97cb98"/><rect x="759.9" width="6.1" height="151.7" fill="#a6d9a3"/><rect x="765.7" width="3.2" height="151.7" fill="#98cb95"/><rect x="768.6" width="6.1" height="151.7" fill="#a6d9a3"/><rect x="774.3" width="3.2" height="151.7" fill="#629970"/><rect x="777.2" width="3.2" height="151.7" fill="#417a57"/><rect x="780.1" width="6.1" height="151.7" fill="#457e5b"/><rect x="785.9" width="3.2" height="151.7" fill="#427b58"/><rect x="788.8" width="3.2" height="151.7" fill="#4d8560"/><rect x="791.7" width="14.7" height="151.7" fill="#a6d9a3"/><rect x="806.1" width="3.2" height="151.7" fill="#92c590"/><rect x="809.0" width="3.2" height="151.7" fill="#538b65"/><rect x="811.9" width="3.2" height="151.7" fill="#427b58"/><rect x="814.8" width="3.2" height="151.7" fill="#437c59"/><rect x="817.7" width="3.2" height="151.7" fill="#417a57"/><rect x="820.6" width="3.2" height="151.7" fill="#447d5a"/><rect x="823.5" width="3.2" height="151.7" fill="#518964"/><rect x="826.3" width="3.2" height="151.7" fill="#97cb98"/><rect x="829.2" width="14.7" height="151.7" fill="#a6d9a3"/><rect x="843.7" width="3.2" height="151.7" fill="#98cb95"/><rect x="846.6" width="3.2" height="151.7" fill="#a6d9a3"/><rect x="849.5" width="3.2" height="151.7" fill="#659c73"/><rect x="852.4" width="3.2" height="151.7" fill="#447d5a"/><rect x="855.2" width="3.2" height="151.7" fill="#457e5b"/><rect x="858.1" width="6.1" height="151.7" fill="#437c59"/><rect x="863.9" width="3.2" height="151.7" fill="#76ac80"/><defs><linearGradient id="g4" x1="0" y1="0" x2="0" y2="1"><stop offset="0" stop-color="#8fce96" stop-opacity="0"/><stop offset=".8" stop-color="#8fce96" stop-opacity="0.03"/><stop offset=".95" stop-color="#8fce96" stop-opacity=".3"/><stop offset="1" stop-color="#9ad49c" stop-opacity=".75"/></linearGradient></defs><rect width="866.8" height="151.7" fill="url(#g4)"/><rect x="35.5" width="2" height="151.7" fill="#000"/><rect x="99.4" width="2" height="151.7" fill="#000"/><rect x="157.8" width="2" height="151.7" fill="#000"/><rect x="203.6" width="2" height="151.7" fill="#000"/><rect x="255.0" width="2" height="151.7" fill="#000"/><rect x="290.3" width="2" height="151.7" fill="#000"/><rect x="338.9" width="2" height="151.7" fill="#000"/><rect x="377.3" width="2" height="151.7" fill="#000"/><rect x="418.1" width="2" height="151.7" fill="#000"/><rect x="478.1" width="2" height="151.7" fill="#000"/><rect x="515.7" width="2" height="151.7" fill="#000"/><rect x="592.2" width="2" height="151.7" fill="#000"/><rect x="650.2" width="2" height="151.7" fill="#000"/><rect x="706.2" width="2" height="151.7" fill="#000"/><rect x="757.6" width="2" height="151.7" fill="#000"/><rect x="792.1" width="2" height="151.7" fill="#000"/><rect x="827.0" width="2" height="151.7" fill="#000"/><line x1="2.0" y1="0" x2="2.0" y2="151.7" stroke="#8e1f93" stroke-width="1.9" stroke-dasharray="5.6 3.1"/><line x1="62.7" y1="0" x2="62.7" y2="151.7" stroke="#8e1f93" stroke-width="1.9" stroke-dasharray="5.6 3.1"/><line x1="107.4" y1="0" x2="107.4" y2="151.7" stroke="#8e1f93" stroke-width="1.9" stroke-dasharray="5.6 3.1"/><line x1="167.4" y1="0" x2="167.4" y2="151.7" stroke="#8e1f93" stroke-width="1.9" stroke-dasharray="5.6 3.1"/><line x1="222.3" y1="0" x2="222.3" y2="151.7" stroke="#8e1f93" stroke-width="1.9" stroke-dasharray="5.6 3.1"/><line x1="250.1" y1="0" x2="250.1" y2="151.7" stroke="#8e1f93" stroke-width="1.9" stroke-dasharray="5.6 3.1"/><line x1="273.6" y1="0" x2="273.6" y2="151.7" stroke="#8e1f93" stroke-width="1.9" stroke-dasharray="5.6 3.1"/><line x1="315.2" y1="0" x2="315.2" y2="151.7" stroke="#8e1f93" stroke-width="1.9" stroke-dasharray="5.6 3.1"/><line x1="357.9" y1="0" x2="357.9" y2="151.7" stroke="#8e1f93" stroke-width="1.9" stroke-dasharray="5.6 3.1"/><line x1="397.1" y1="0" x2="397.1" y2="151.7" stroke="#8e1f93" stroke-width="1.9" stroke-dasharray="5.6 3.1"/><line x1="449.7" y1="0" x2="449.7" y2="151.7" stroke="#8e1f93" stroke-width="1.9" stroke-dasharray="5.6 3.1"/><line x1="496.3" y1="0" x2="496.3" y2="151.7" stroke="#8e1f93" stroke-width="1.9" stroke-dasharray="5.6 3.1"/><line x1="543.0" y1="0" x2="543.0" y2="151.7" stroke="#8e1f93" stroke-width="1.9" stroke-dasharray="5.6 3.1"/><line x1="583.4" y1="0" x2="583.4" y2="151.7" stroke="#8e1f93" stroke-width="1.9" stroke-dasharray="5.6 3.1"/><line x1="617.1" y1="0" x2="617.1" y2="151.7" stroke="#8e1f93" stroke-width="1.9" stroke-dasharray="5.6 3.1"/><line x1="680.2" y1="0" x2="680.2" y2="151.7" stroke="#8e1f93" stroke-width="1.9" stroke-dasharray="5.6 3.1"/><line x1="733.1" y1="0" x2="733.1" y2="151.7" stroke="#8e1f93" stroke-width="1.9" stroke-dasharray="5.6 3.1"/><line x1="773.5" y1="0" x2="773.5" y2="151.7" stroke="#8e1f93" stroke-width="1.9" stroke-dasharray="5.6 3.1"/><line x1="806.8" y1="0" x2="806.8" y2="151.7" stroke="#8e1f93" stroke-width="1.9" stroke-dasharray="5.6 3.1"/><line x1="848.8" y1="0" x2="848.8" y2="151.7" stroke="#8e1f93" stroke-width="1.9" stroke-dasharray="5.6 3.1"/></svg>
<svg style="left:3488.1px;top:965.0px" width="866.8" height="151.7" viewBox="0 0 866.8 151.7" shape-rendering="crispEdges"><rect x="0.0" width="3.2" height="151.7" fill="#c8dcf0"/><rect x="2.9" width="3.2" height="151.7" fill="#c9ddf1"/><rect x="5.8" width="6.1" height="151.7" fill="#c8dcf0"/><rect x="11.6" width="3.2" height="151.7" fill="#c6daf0"/><rect x="14.4" width="3.2" height="151.7" fill="#c9dcf0"/><rect x="17.3" width="3.2" height="151.7" fill="#c6dbf0"/><rect x="20.2" width="3.2" height="151.7" fill="#c5daef"/><rect x="23.1" width="3.2" height="151.7" fill="#c5d9ef"/><rect x="26.0" width="3.2" height="151.7" fill="#c5daf0"/><rect x="28.9" width="3.2" height="151.7" fill="#c6daf0"/><rect x="31.8" width="3.2" height="151.7" fill="#c8dcf0"/><rect x="34.7" width="3.2" height="151.7" fill="#c6daf0"/><rect x="37.6" width="3.2" height="151.7" fill="#c5d9ef"/><rect x="40.5" width="3.2" height="151.7" fill="#c8dcf0"/><rect x="43.3" width="3.2" height="151.7" fill="#c7dbf0"/><rect x="46.2" width="6.1" height="151.7" fill="#c5d9ef"/><rect x="52.0" width="3.2" height="151.7" fill="#c5daef"/><rect x="54.9" width="3.2" height="151.7" fill="#c6dbf0"/><rect x="57.8" width="3.2" height="151.7" fill="#c9dcf1"/><rect x="60.7" width="3.2" height="151.7" fill="#c9ddf1"/><rect x="63.6" width="3.2" height="151.7" fill="#c8dbf0"/><rect x="66.5" width="3.2" height="151.7" fill="#c6daf0"/><rect x="69.3" width="3.2" height="151.7" fill="#c7dbf0"/><rect x="72.2" width="3.2" height="151.7" fill="#c6dbf0"/><rect x="75.1" width="3.2" height="151.7" fill="#c6daf0"/><rect x="78.0" width="3.2" height="151.7" fill="#c5d9ef"/><rect x="80.9" width="3.2" height="151.7" fill="#c7dbf0"/><rect x="83.8" width="3.2" height="151.7" fill="#c9dcf0"/><rect x="86.7" width="3.2" height="151.7" fill="#c8dcf0"/><rect x="89.6" width="3.2" height="151.7" fill="#c5daef"/><rect x="92.5" width="3.2" height="151.7" fill="#c7dbf0"/><rect x="95.3" width="3.2" height="151.7" fill="#c5daf0"/><rect x="98.2" width="3.2" height="151.7" fill="#c8dcf0"/><rect x="101.1" width="3.2" height="151.7" fill="#c7dbf0"/><rect x="104.0" width="3.2" height="151.7" fill="#c9ddf1"/><rect x="106.9" width="3.2" height="151.7" fill="#c8dcf0"/><rect x="109.8" width="3.2" height="151.7" fill="#c5daef"/><rect x="112.7" width="3.2" height="151.7" fill="#c6daf0"/><rect x="115.6" width="3.2" height="151.7" fill="#c9dcf1"/><rect x="118.5" width="9.0" height="151.7" fill="#c7dbf0"/><rect x="127.1" width="3.2" height="151.7" fill="#c8dcf0"/><rect x="130.0" width="3.2" height="151.7" fill="#c9ddf1"/><rect x="132.9" width="3.2" height="151.7" fill="#c7dbf0"/><rect x="135.8" width="3.2" height="151.7" fill="#c9ddf1"/><rect x="138.7" width="3.2" height="151.7" fill="#c7dbf0"/><rect x="141.6" width="3.2" height="151.7" fill="#c5daef"/><rect x="144.5" width="3.2" height="151.7" fill="#c9dcf0"/><rect x="147.4" width="3.2" height="151.7" fill="#c7dbf0"/><rect x="150.2" width="3.2" height="151.7" fill="#c5d9ef"/><rect x="153.1" width="3.2" height="151.7" fill="#c9ddf1"/><rect x="156.0" width="3.2" height="151.7" fill="#c5d9ef"/><rect x="158.9" width="6.1" height="151.7" fill="#c7dbf0"/><rect x="164.7" width="3.2" height="151.7" fill="#c9dcf1"/><rect x="167.6" width="3.2" height="151.7" fill="#c6dbf0"/><rect x="170.5" width="9.0" height="151.7" fill="#c6daf0"/><rect x="179.1" width="3.2" height="151.7" fill="#c7dbf0"/><rect x="182.0" width="3.2" height="151.7" fill="#c6daf0"/><rect x="184.9" width="3.2" height="151.7" fill="#c8dcf0"/><rect x="187.8" width="9.0" height="151.7" fill="#c6daf0"/><rect x="196.5" width="3.2" height="151.7" fill="#c9ddf1"/><rect x="199.4" width="6.1" height="151.7" fill="#c9dcf1"/><rect x="205.1" width="3.2" height="151.7" fill="#c8dbf0"/><rect x="208.0" width="3.2" height="151.7" fill="#c7dbf0"/><rect x="210.9" width="3.2" height="151.7" fill="#c5daef"/><rect x="213.8" width="3.2" height="151.7" fill="#c9dcf0"/><rect x="216.7" width="3.2" height="151.7" fill="#c7dbf0"/><rect x="219.6" width="3.2" height="151.7" fill="#c5d9ef"/><rect x="222.5" width="3.2" height="151.7" fill="#c5daf0"/><rect x="225.4" width="3.2" height="151.7" fill="#c5daef"/><rect x="228.3" width="3.2" height="151.7" fill="#c8dcf0"/><rect x="231.1" width="3.2" height="151.7" fill="#c9dcf1"/><rect x="234.0" width="3.2" height="151.7" fill="#c5daf0"/><rect x="236.9" width="3.2" height="151.7" fill="#c8dcf0"/><rect x="239.8" width="3.2" height="151.7" fill="#c6daf0"/><rect x="242.7" width="3.2" height="151.7" fill="#c8dcf0"/><rect x="245.6" width="3.2" height="151.7" fill="#c9dcf1"/><rect x="248.5" width="3.2" height="151.7" fill="#c8dbf0"/><rect x="251.4" width="3.2" height="151.7" fill="#c9dcf0"/><rect x="254.3" width="3.2" height="151.7" fill="#c6dbf0"/><rect x="257.2" width="3.2" height="151.7" fill="#c5d9ef"/><rect x="260.0" width="6.1" height="151.7" fill="#c7dbf0"/><rect x="265.8" width="3.2" height="151.7" fill="#c5daf0"/><rect x="268.7" width="3.2" height="151.7" fill="#c6dbf0"/><rect x="271.6" width="3.2" height="151.7" fill="#c6daf0"/><rect x="274.5" width="3.2" height="151.7" fill="#c5d9ef"/><rect x="277.4" width="3.2" height="151.7" fill="#c6daf0"/><rect x="280.3" width="3.2" height="151.7" fill="#c6dbf0"/><rect x="283.2" width="3.2" height="151.7" fill="#c7dbf0"/><rect x="286.0" width="3.2" height="151.7" fill="#c8dcf0"/><rect x="288.9" width="3.2" height="151.7" fill="#c6dbf0"/><rect x="291.8" width="3.2" height="151.7" fill="#c9ddf1"/><rect x="294.7" width="3.2" height="151.7" fill="#c9dcf0"/><rect x="297.6" width="3.2" height="151.7" fill="#c9dcf1"/><rect x="300.5" width="6.1" height="151.7" fill="#c8dcf0"/><rect x="306.3" width="3.2" height="151.7" fill="#c7dbf0"/><rect x="309.2" width="3.2" height="151.7" fill="#c8dcf0"/><rect x="312.0" width="3.2" height="151.7" fill="#c6dbf0"/><rect x="314.9" width="3.2" height="151.7" fill="#c7dbf0"/><rect x="317.8" width="3.2" height="151.7" fill="#c8dcf0"/><rect x="320.7" width="3.2" height="151.7" fill="#c7dbf0"/><rect x="323.6" width="3.2" height="151.7" fill="#c6daf0"/><rect x="326.5" width="6.1" height="151.7" fill="#c5daef"/><rect x="332.3" width="3.2" height="151.7" fill="#c6daf0"/><rect x="335.2" width="3.2" height="151.7" fill="#c7dbf0"/><rect x="338.1" width="6.1" height="151.7" fill="#c8dcf0"/><rect x="343.8" width="3.2" height="151.7" fill="#c6daf0"/><rect x="346.7" width="3.2" height="151.7" fill="#c9ddf1"/><rect x="349.6" width="3.2" height="151.7" fill="#c6daf0"/><rect x="352.5" width="3.2" height="151.7" fill="#c8dcf0"/><rect x="355.4" width="3.2" height="151.7" fill="#c5daef"/><rect x="358.3" width="6.1" height="151.7" fill="#c8dcf0"/><rect x="364.1" width="3.2" height="151.7" fill="#c9ddf1"/><rect x="366.9" width="3.2" height="151.7" fill="#c9dcf1"/><rect x="369.8" width="3.2" height="151.7" fill="#c8dcf0"/><rect x="372.7" width="3.2" height="151.7" fill="#c9dcf1"/><rect x="375.6" width="3.2" height="151.7" fill="#c8dcf0"/><rect x="378.5" width="3.2" height="151.7" fill="#c8dbf0"/><rect x="381.4" width="3.2" height="151.7" fill="#c6daf0"/><rect x="384.3" width="3.2" height="151.7" fill="#c7dbf0"/><rect x="387.2" width="3.2" height="151.7" fill="#c9dcf1"/><rect x="390.1" width="3.2" height="151.7" fill="#c6daf0"/><rect x="392.9" width="3.2" height="151.7" fill="#c9ddf1"/><rect x="395.8" width="3.2" height="151.7" fill="#c7dbf0"/><rect x="398.7" width="3.2" height="151.7" fill="#c6dbf0"/><rect x="401.6" width="3.2" height="151.7" fill="#c5d9ef"/><rect x="404.5" width="3.2" height="151.7" fill="#c6dbf0"/><rect x="407.4" width="3.2" height="151.7" fill="#c5daf0"/><rect x="410.3" width="3.2" height="151.7" fill="#c8dcf0"/><rect x="413.2" width="6.1" height="151.7" fill="#c9dcf1"/><rect x="419.0" width="3.2" height="151.7" fill="#c8dbf0"/><rect x="421.8" width="3.2" height="151.7" fill="#c6dbf0"/><rect x="424.7" width="3.2" height="151.7" fill="#c5daef"/><rect x="427.6" width="3.2" height="151.7" fill="#c8dcf0"/><rect x="430.5" width="3.2" height="151.7" fill="#c7dbf0"/><rect x="433.4" width="3.2" height="151.7" fill="#c8dcf0"/><rect x="436.3" width="3.2" height="151.7" fill="#c6dbf0"/><rect x="439.2" width="3.2" height="151.7" fill="#c9dcf1"/><rect x="442.1" width="9.0" height="151.7" fill="#c6daf0"/><rect x="450.7" width="3.2" height="151.7" fill="#c8dbf0"/><rect x="453.6" width="3.2" height="151.7" fill="#c9dcf1"/><rect x="456.5" width="3.2" height="151.7" fill="#c5daf0"/><rect x="459.4" width="3.2" height="151.7" fill="#c8dbf0"/><rect x="462.3" width="3.2" height="151.7" fill="#c8dcf0"/><rect x="465.2" width="3.2" height="151.7" fill="#c6daf0"/><rect x="468.1" width="3.2" height="151.7" fill="#c5d9ef"/><rect x="471.0" width="3.2" height="151.7" fill="#c7dbf0"/><rect x="473.9" width="3.2" height="151.7" fill="#c9dcf0"/><rect x="476.7" width="3.2" height="151.7" fill="#c9dcf1"/><rect x="479.6" width="3.2" height="151.7" fill="#c8dcf0"/><rect x="482.5" width="9.0" height="151.7" fill="#c7dbf0"/><rect x="491.2" width="3.2" height="151.7" fill="#c9dcf1"/><rect x="494.1" width="6.1" height="151.7" fill="#c6daf0"/><rect x="499.9" width="3.2" height="151.7" fill="#c8dbf0"/><rect x="502.7" width="3.2" height="151.7" fill="#c9ddf1"/><rect x="505.6" width="3.2" height="151.7" fill="#c5daf0"/><rect x="508.5" width="3.2" height="151.7" fill="#c5d9ef"/><rect x="511.4" width="3.2" height="151.7" fill="#c5daef"/><rect x="514.3" width="3.2" height="151.7" fill="#c7dbf0"/><rect x="517.2" width="3.2" height="151.7" fill="#c8dbf0"/><rect x="520.1" width="6.1" height="151.7" fill="#c5daf0"/><rect x="525.9" width="3.2" height="151.7" fill="#c7dbf0"/><rect x="528.7" width="9.0" height="151.7" fill="#c8dcf0"/><rect x="537.4" width="3.2" height="151.7" fill="#c5d9ef"/><rect x="540.3" width="3.2" height="151.7" fill="#c7dbf0"/><rect x="543.2" width="3.2" height="151.7" fill="#c9dcf1"/><rect x="546.1" width="3.2" height="151.7" fill="#c9ddf1"/><rect x="549.0" width="3.2" height="151.7" fill="#c6daf0"/><rect x="551.9" width="3.2" height="151.7" fill="#c9dcf1"/><rect x="554.8" width="3.2" height="151.7" fill="#c8dcf0"/><rect x="557.6" width="3.2" height="151.7" fill="#c9dcf1"/><rect x="560.5" width="3.2" height="151.7" fill="#c6daf0"/><rect x="563.4" width="3.2" height="151.7" fill="#c8dcf0"/><rect x="566.3" width="3.2" height="151.7" fill="#c9dcf1"/><rect x="569.2" width="3.2" height="151.7" fill="#c7dbf0"/><rect x="572.1" width="3.2" height="151.7" fill="#c5daef"/><rect x="575.0" width="3.2" height="151.7" fill="#c5daf0"/><rect x="577.9" width="9.0" height="151.7" fill="#c5daef"/><rect x="586.5" width="3.2" height="151.7" fill="#c8dbf0"/><rect x="589.4" width="3.2" height="151.7" fill="#c5daef"/><rect x="592.3" width="6.1" height="151.7" fill="#c8dcf0"/><rect x="598.1" width="6.1" height="151.7" fill="#c9dcf0"/><rect x="603.9" width="3.2" height="151.7" fill="#c8dcf0"/><rect x="606.8" width="3.2" height="151.7" fill="#c9dcf1"/><rect x="609.6" width="3.2" height="151.7" fill="#c9ddf1"/><rect x="612.5" width="3.2" height="151.7" fill="#c8dbf0"/><rect x="615.4" width="3.2" height="151.7" fill="#c9ddf1"/><rect x="618.3" width="6.1" height="151.7" fill="#c5daef"/><rect x="624.1" width="3.2" height="151.7" fill="#c5d9ef"/><rect x="627.0" width="3.2" height="151.7" fill="#c6daf0"/><rect x="629.9" width="3.2" height="151.7" fill="#c6dbf0"/><rect x="632.8" width="3.2" height="151.7" fill="#c7dbf0"/><rect x="635.7" width="6.1" height="151.7" fill="#c8dcf0"/><rect x="641.4" width="3.2" height="151.7" fill="#c5daef"/><rect x="644.3" width="6.1" height="151.7" fill="#c7dbf0"/><rect x="650.1" width="3.2" height="151.7" fill="#c6dbf0"/><rect x="653.0" width="3.2" height="151.7" fill="#c5daef"/><rect x="655.9" width="3.2" height="151.7" fill="#c7dbf0"/><rect x="658.8" width="3.2" height="151.7" fill="#c6dbf0"/><rect x="661.7" width="3.2" height="151.7" fill="#c8dcf0"/><rect x="664.5" width="3.2" height="151.7" fill="#c7dbf0"/><rect x="667.4" width="6.1" height="151.7" fill="#c9ddf1"/><rect x="673.2" width="3.2" height="151.7" fill="#c5daef"/><rect x="676.1" width="6.1" height="151.7" fill="#c8dcf0"/><rect x="681.9" width="3.2" height="151.7" fill="#c6daf0"/><rect x="684.8" width="3.2" height="151.7" fill="#c5daef"/><rect x="687.7" width="3.2" height="151.7" fill="#c7dbf0"/><rect x="690.6" width="3.2" height="151.7" fill="#c6daf0"/><rect x="693.4" width="3.2" height="151.7" fill="#c8dcf0"/><rect x="696.3" width="3.2" height="151.7" fill="#c9dcf1"/><rect x="699.2" width="3.2" height="151.7" fill="#c6dbf0"/><rect x="702.1" width="3.2" height="151.7" fill="#c6daf0"/><rect x="705.0" width="3.2" height="151.7" fill="#c7dbf0"/><rect x="707.9" width="6.1" height="151.7" fill="#c8dcf0"/><rect x="713.7" width="3.2" height="151.7" fill="#c7dbf0"/><rect x="716.6" width="6.1" height="151.7" fill="#c6daf0"/><rect x="722.3" width="3.2" height="151.7" fill="#c9dcf1"/><rect x="725.2" width="3.2" height="151.7" fill="#c7dbf0"/><rect x="728.1" width="3.2" height="151.7" fill="#c5d9ef"/><rect x="731.0" width="3.2" height="151.7" fill="#c7dbf0"/><rect x="733.9" width="3.2" height="151.7" fill="#c6daf0"/><rect x="736.8" width="3.2" height="151.7" fill="#c8dcf0"/><rect x="739.7" width="3.2" height="151.7" fill="#c5daef"/><rect x="742.6" width="3.2" height="151.7" fill="#c6daf0"/><rect x="745.4" width="3.2" height="151.7" fill="#c5daef"/><rect x="748.3" width="3.2" height="151.7" fill="#c7dbf0"/><rect x="751.2" width="3.2" height="151.7" fill="#c9ddf1"/><rect x="754.1" width="3.2" height="151.7" fill="#c7dbf0"/><rect x="757.0" width="3.2" height="151.7" fill="#c6dbf0"/><rect x="759.9" width="3.2" height="151.7" fill="#c9ddf1"/><rect x="762.8" width="3.2" height="151.7" fill="#c5daef"/><rect x="765.7" width="3.2" height="151.7" fill="#c6daf0"/><rect x="768.6" width="3.2" height="151.7" fill="#c9dcf0"/><rect x="771.5" width="3.2" height="151.7" fill="#c5d9ef"/><rect x="774.3" width="3.2" height="151.7" fill="#c8dcf0"/><rect x="777.2" width="3.2" height="151.7" fill="#c6dbf0"/><rect x="780.1" width="3.2" height="151.7" fill="#c5d9ef"/><rect x="783.0" width="3.2" height="151.7" fill="#c6daf0"/><rect x="785.9" width="3.2" height="151.7" fill="#c7dbf0"/><rect x="788.8" width="3.2" height="151.7" fill="#c6dbf0"/><rect x="791.7" width="3.2" height="151.7" fill="#c7dbf0"/><rect x="794.6" width="3.2" height="151.7" fill="#c5d9ef"/><rect x="797.5" width="3.2" height="151.7" fill="#c6daf0"/><rect x="800.3" width="3.2" height="151.7" fill="#c9ddf1"/><rect x="803.2" width="6.1" height="151.7" fill="#c7dbf0"/><rect x="809.0" width="3.2" height="151.7" fill="#c5daef"/><rect x="811.9" width="3.2" height="151.7" fill="#c6daf0"/><rect x="814.8" width="3.2" height="151.7" fill="#c9ddf1"/><rect x="817.7" width="3.2" height="151.7" fill="#c8dcf0"/><rect x="820.6" width="3.2" height="151.7" fill="#c7dbf0"/><rect x="823.5" width="3.2" height="151.7" fill="#c5d9ef"/><rect x="826.3" width="3.2" height="151.7" fill="#c6dbf0"/><rect x="829.2" width="3.2" height="151.7" fill="#c8dcf0"/><rect x="832.1" width="6.1" height="151.7" fill="#c7dbf0"/><rect x="837.9" width="3.2" height="151.7" fill="#c9dcf1"/><rect x="840.8" width="3.2" height="151.7" fill="#c8dcf0"/><rect x="843.7" width="3.2" height="151.7" fill="#c8dbf0"/><rect x="846.6" width="6.1" height="151.7" fill="#c5d9ef"/><rect x="852.4" width="3.2" height="151.7" fill="#c8dcf0"/><rect x="855.2" width="3.2" height="151.7" fill="#c7dbf0"/><rect x="858.1" width="3.2" height="151.7" fill="#c9dcf1"/><rect x="861.0" width="3.2" height="151.7" fill="#c9dcf0"/><rect x="863.9" width="3.2" height="151.7" fill="#c9dcf1"/><defs><linearGradient id="g5" x1="0" y1="0" x2="0" y2="1"><stop offset="0" stop-color="#3d80c0" stop-opacity="0"/><stop offset=".6" stop-color="#3d80c0" stop-opacity="0.03"/><stop offset=".88" stop-color="#3d80c0" stop-opacity=".2"/><stop offset="1" stop-color="#3579bd" stop-opacity=".55"/></linearGradient></defs><rect width="866.8" height="151.7" fill="url(#g5)"/><rect x="35.5" width="2" height="151.7" fill="#000"/><rect x="99.4" width="2" height="151.7" fill="#000"/><rect x="157.8" width="2" height="151.7" fill="#000"/><rect x="203.6" width="2" height="151.7" fill="#000"/><rect x="255.0" width="2" height="151.7" fill="#000"/><rect x="290.3" width="2" height="151.7" fill="#000"/><rect x="338.9" width="2" height="151.7" fill="#000"/><rect x="377.3" width="2" height="151.7" fill="#000"/><rect x="418.1" width="2" height="151.7" fill="#000"/><rect x="478.1" width="2" height="151.7" fill="#000"/><rect x="515.7" width="2" height="151.7" fill="#000"/><rect x="592.2" width="2" height="151.7" fill="#000"/><rect x="650.2" width="2" height="151.7" fill="#000"/><rect x="706.2" width="2" height="151.7" fill="#000"/><rect x="757.6" width="2" height="151.7" fill="#000"/><rect x="792.1" width="2" height="151.7" fill="#000"/><rect x="827.0" width="2" height="151.7" fill="#000"/><line x1="2.0" y1="0" x2="2.0" y2="151.7" stroke="#8e1f93" stroke-width="1.9" stroke-dasharray="5.6 3.1"/><line x1="62.7" y1="0" x2="62.7" y2="151.7" stroke="#8e1f93" stroke-width="1.9" stroke-dasharray="5.6 3.1"/><line x1="107.4" y1="0" x2="107.4" y2="151.7" stroke="#8e1f93" stroke-width="1.9" stroke-dasharray="5.6 3.1"/><line x1="167.4" y1="0" x2="167.4" y2="151.7" stroke="#8e1f93" stroke-width="1.9" stroke-dasharray="5.6 3.1"/><line x1="222.3" y1="0" x2="222.3" y2="151.7" stroke="#8e1f93" stroke-width="1.9" stroke-dasharray="5.6 3.1"/><line x1="250.1" y1="0" x2="250.1" y2="151.7" stroke="#8e1f93" stroke-width="1.9" stroke-dasharray="5.6 3.1"/><line x1="273.6" y1="0" x2="273.6" y2="151.7" stroke="#8e1f93" stroke-width="1.9" stroke-dasharray="5.6 3.1"/><line x1="315.2" y1="0" x2="315.2" y2="151.7" stroke="#8e1f93" stroke-width="1.9" stroke-dasharray="5.6 3.1"/><line x1="357.9" y1="0" x2="357.9" y2="151.7" stroke="#8e1f93" stroke-width="1.9" stroke-dasharray="5.6 3.1"/><line x1="397.1" y1="0" x2="397.1" y2="151.7" stroke="#8e1f93" stroke-width="1.9" stroke-dasharray="5.6 3.1"/><line x1="449.7" y1="0" x2="449.7" y2="151.7" stroke="#8e1f93" stroke-width="1.9" stroke-dasharray="5.6 3.1"/><line x1="496.3" y1="0" x2="496.3" y2="151.7" stroke="#8e1f93" stroke-width="1.9" stroke-dasharray="5.6 3.1"/><line x1="543.0" y1="0" x2="543.0" y2="151.7" stroke="#8e1f93" stroke-width="1.9" stroke-dasharray="5.6 3.1"/><line x1="583.4" y1="0" x2="583.4" y2="151.7" stroke="#8e1f93" stroke-width="1.9" stroke-dasharray="5.6 3.1"/><line x1="617.1" y1="0" x2="617.1" y2="151.7" stroke="#8e1f93" stroke-width="1.9" stroke-dasharray="5.6 3.1"/><line x1="680.2" y1="0" x2="680.2" y2="151.7" stroke="#8e1f93" stroke-width="1.9" stroke-dasharray="5.6 3.1"/><line x1="733.1" y1="0" x2="733.1" y2="151.7" stroke="#8e1f93" stroke-width="1.9" stroke-dasharray="5.6 3.1"/><line x1="773.5" y1="0" x2="773.5" y2="151.7" stroke="#8e1f93" stroke-width="1.9" stroke-dasharray="5.6 3.1"/><line x1="806.8" y1="0" x2="806.8" y2="151.7" stroke="#8e1f93" stroke-width="1.9" stroke-dasharray="5.6 3.1"/><line x1="848.8" y1="0" x2="848.8" y2="151.7" stroke="#8e1f93" stroke-width="1.9" stroke-dasharray="5.6 3.1"/></svg>
<svg style="left:0;top:0" width="10" height="10"><text transform="translate(3480.0,678.1) rotate(-90)" font-size="20" fill="#262626" text-anchor="middle" font-family="Liberation Sans">cross entropy</text><text transform="translate(4379.0,614.3) rotate(-90)" font-size="12.5" fill="#333" text-anchor="middle" font-family="Liberation Sans">150</text><text transform="translate(4379.0,664.3) rotate(-90)" font-size="12.5" fill="#333" text-anchor="middle" font-family="Liberation Sans">100</text><text transform="translate(4379.0,726.3) rotate(-90)" font-size="12.5" fill="#333" text-anchor="middle" font-family="Liberation Sans">0 epoch</text><text transform="translate(3480.0,859.5) rotate(-90)" font-size="20" fill="#262626" text-anchor="middle" font-family="Liberation Sans">CE weight</text><text transform="translate(4379.0,795.6) rotate(-90)" font-size="12.5" fill="#333" text-anchor="middle" font-family="Liberation Sans">150</text><text transform="translate(4379.0,845.6) rotate(-90)" font-size="12.5" fill="#333" text-anchor="middle" font-family="Liberation Sans">100</text><text transform="translate(4379.0,907.6) rotate(-90)" font-size="12.5" fill="#333" text-anchor="middle" font-family="Liberation Sans">0 epoch</text><text transform="translate(3480.0,1040.8) rotate(-90)" font-size="20" fill="#262626" text-anchor="middle" font-family="Liberation Sans">consistency loss</text><text transform="translate(4379.0,977.0) rotate(-90)" font-size="12.5" fill="#333" text-anchor="middle" font-family="Liberation Sans">150</text><text transform="translate(4379.0,1027.0) rotate(-90)" font-size="12.5" fill="#333" text-anchor="middle" font-family="Liberation Sans">100</text><text transform="translate(4379.0,1089.0) rotate(-90)" font-size="12.5" fill="#333" text-anchor="middle" font-family="Liberation Sans">0 epoch</text><text x="3485.1" y="599.8" font-size="11" fill="#8e1f93" text-anchor="middle" font-family="Liberation Sans">5</text><text x="3547.8" y="599.8" font-size="11" fill="#8e1f93" text-anchor="middle" font-family="Liberation Sans">160</text><text x="3592.5" y="599.8" font-size="11" fill="#8e1f93" text-anchor="middle" font-family="Liberation Sans">274</text><text x="3652.5" y="599.8" font-size="11" fill="#8e1f93" text-anchor="middle" font-family="Liberation Sans">427</text><text x="3707.4" y="599.8" font-size="11" fill="#8e1f93" text-anchor="middle" font-family="Liberation Sans">567</text><text x="3735.2" y="599.8" font-size="11" fill="#8e1f93" text-anchor="middle" font-family="Liberation Sans">638</text><text x="3758.7" y="599.8" font-size="11" fill="#8e1f93" text-anchor="middle" font-family="Liberation Sans">698</text><text x="3800.3" y="599.8" font-size="11" fill="#8e1f93" text-anchor="middle" font-family="Liberation Sans">804</text><text x="3843.0" y="599.8" font-size="11" fill="#8e1f93" text-anchor="middle" font-family="Liberation Sans">913</text><text x="3882.2" y="599.8" font-size="11" fill="#8e1f93" text-anchor="middle" font-family="Liberation Sans">1013</text><text x="3934.8" y="599.8" font-size="11" fill="#8e1f93" text-anchor="middle" font-family="Liberation Sans">1147</text><text x="3981.4" y="599.8" font-size="11" fill="#8e1f93" text-anchor="middle" font-family="Liberation Sans">1266</text><text x="4028.1" y="599.8" font-size="11" fill="#8e1f93" text-anchor="middle" font-family="Liberation Sans">1385</text><text x="4068.5" y="599.8" font-size="11" fill="#8e1f93" text-anchor="middle" font-family="Liberation Sans">1488</text><text x="4102.2" y="599.8" font-size="11" fill="#8e1f93" text-anchor="middle" font-family="Liberation Sans">1574</text><text x="4165.3" y="599.8" font-size="11" fill="#8e1f93" text-anchor="middle" font-family="Liberation Sans">1735</text><text x="4218.2" y="599.8" font-size="11" fill="#8e1f93" text-anchor="middle" font-family="Liberation Sans">1870</text><text x="4258.6" y="599.8" font-size="11" fill="#8e1f93" text-anchor="middle" font-family="Liberation Sans">1973</text><text x="4291.9" y="599.8" font-size="11" fill="#8e1f93" text-anchor="middle" font-family="Liberation Sans">2058</text><text x="4333.9" y="599.8" font-size="11" fill="#8e1f93" text-anchor="middle" font-family="Liberation Sans">2165</text><text x="3485.1" y="1126.2" font-size="11.3" fill="#111" text-anchor="middle" font-family="Liberation Sans">0</text><text x="3521.6" y="1126.2" font-size="11.3" fill="#111" text-anchor="middle" font-family="Liberation Sans">93</text><text x="3585.5" y="1126.2" font-size="11.3" fill="#111" text-anchor="middle" font-family="Liberation Sans">256</text><text x="3643.9" y="1126.2" font-size="11.3" fill="#111" text-anchor="middle" font-family="Liberation Sans">405</text><text x="3689.7" y="1126.2" font-size="11.3" fill="#111" text-anchor="middle" font-family="Liberation Sans">522</text><text x="3741.1" y="1126.2" font-size="11.3" fill="#111" text-anchor="middle" font-family="Liberation Sans">653</text><text x="3776.4" y="1126.2" font-size="11.3" fill="#111" text-anchor="middle" font-family="Liberation Sans">743</text><text x="3825.0" y="1126.2" font-size="11.3" fill="#111" text-anchor="middle" font-family="Liberation Sans">867</text><text x="3863.4" y="1126.2" font-size="11.3" fill="#111" text-anchor="middle" font-family="Liberation Sans">965</text><text x="3904.2" y="1126.2" font-size="11.3" fill="#111" text-anchor="middle" font-family="Liberation Sans">1069</text><text x="3964.2" y="1126.2" font-size="11.3" fill="#111" text-anchor="middle" font-family="Liberation Sans">1222</text><text x="4001.8" y="1126.2" font-size="11.3" fill="#111" text-anchor="middle" font-family="Liberation Sans">1318</text><text x="4078.3" y="1126.2" font-size="11.3" fill="#111" text-anchor="middle" font-family="Liberation Sans">1513</text><text x="4136.3" y="1126.2" font-size="11.3" fill="#111" text-anchor="middle" font-family="Liberation Sans">1661</text><text x="4192.3" y="1126.2" font-size="11.3" fill="#111" text-anchor="middle" font-family="Liberation Sans">1804</text><text x="4243.7" y="1126.2" font-size="11.3" fill="#111" text-anchor="middle" font-family="Liberation Sans">1935</text><text x="4278.2" y="1126.2" font-size="11.3" fill="#111" text-anchor="middle" font-family="Liberation Sans">2023</text><text x="4313.1" y="1126.2" font-size="11.3" fill="#111" text-anchor="middle" font-family="Liberation Sans">2112</text><text x="4351.9" y="1126.2" font-size="11.3" fill="#111" text-anchor="middle" font-family="Liberation Sans">2211</text></svg>
<svg style="left:4408.2px;top:602.3px" width="68.6" height="161.7" viewBox="0 0 68.6 161.7"><defs><linearGradient id="cb3" x1="0" y1="0" x2="0" y2="1"><stop offset="0" stop-color="#1d4f91"/><stop offset=".25" stop-color="#4b8cc6"/><stop offset=".6" stop-color="#a9cbe6"/><stop offset="1" stop-color="#f3f8fd"/></linearGradient></defs><rect width="8.6" height="151.7" fill="url(#cb3)"/><rect x="8.6" y="9.7" width="7" height="1.6" fill="#222"/><text x="20.6" y="14.5" font-size="10.5" fill="#333" font-family="Liberation Sans">10<tspan dy="-4" font-size="7.5">0</tspan></text><rect x="8.6" y="11.6" width="4" height="1" fill="#333"/><rect x="8.6" y="13.4" width="4" height="1" fill="#333"/><rect x="8.6" y="15.4" width="4" height="1" fill="#333"/><rect x="8.6" y="17.7" width="4" height="1" fill="#333"/><rect x="8.6" y="20.5" width="4" height="1" fill="#333"/><rect x="8.6" y="23.8" width="4" height="1" fill="#333"/><rect x="8.6" y="28.2" width="4" height="1" fill="#333"/><rect x="8.6" y="34.3" width="4" height="1" fill="#333"/><rect x="8.6" y="44.5" width="7" height="1.6" fill="#222"/><text x="20.6" y="49.3" font-size="10.5" fill="#333" font-family="Liberation Sans">10<tspan dy="-4" font-size="7.5">−1</tspan></text><rect x="8.6" y="46.4" width="4" height="1" fill="#333"/><rect x="8.6" y="48.2" width="4" height="1" fill="#333"/><rect x="8.6" y="50.2" width="4" height="1" fill="#333"/><rect x="8.6" y="52.5" width="4" height="1" fill="#333"/><rect x="8.6" y="55.3" width="4" height="1" fill="#333"/><rect x="8.6" y="58.6" width="4" height="1" fill="#333"/><rect x="8.6" y="63.0" width="4" height="1" fill="#333"/><rect x="8.6" y="69.1" width="4" height="1" fill="#333"/><rect x="8.6" y="79.3" width="7" height="1.6" fill="#222"/><text x="20.6" y="84.1" font-size="10.5" fill="#333" font-family="Liberation Sans">10<tspan dy="-4" font-size="7.5">−2</tspan></text><rect x="8.6" y="81.2" width="4" height="1" fill="#333"/><rect x="8.6" y="83.0" width="4" height="1" fill="#333"/><rect x="8.6" y="85.0" width="4" height="1" fill="#333"/><rect x="8.6" y="87.3" width="4" height="1" fill="#333"/><rect x="8.6" y="90.1" width="4" height="1" fill="#333"/><rect x="8.6" y="93.4" width="4" height="1" fill="#333"/><rect x="8.6" y="97.8" width="4" height="1" fill="#333"/><rect x="8.6" y="103.9" width="4" height="1" fill="#333"/><rect x="8.6" y="114.1" width="7" height="1.6" fill="#222"/><text x="20.6" y="118.9" font-size="10.5" fill="#333" font-family="Liberation Sans">10<tspan dy="-4" font-size="7.5">−3</tspan></text><rect x="8.6" y="116.0" width="4" height="1" fill="#333"/><rect x="8.6" y="117.8" width="4" height="1" fill="#333"/><rect x="8.6" y="119.8" width="4" height="1" fill="#333"/><rect x="8.6" y="122.1" width="4" height="1" fill="#333"/><rect x="8.6" y="124.9" width="4" height="1" fill="#333"/><rect x="8.6" y="128.2" width="4" height="1" fill="#333"/><rect x="8.6" y="132.6" width="4" height="1" fill="#333"/><rect x="8.6" y="138.7" width="4" height="1" fill="#333"/><rect x="8.6" y="148.9" width="7" height="1.6" fill="#222"/><text x="20.6" y="153.7" font-size="10.5" fill="#333" font-family="Liberation Sans">10<tspan dy="-4" font-size="7.5">−4</tspan></text></svg>
<svg style="left:4408.2px;top:965.0px" width="68.6" height="161.7" viewBox="0 0 68.6 161.7"><defs><linearGradient id="cb4" x1="0" y1="0" x2="0" y2="1"><stop offset="0" stop-color="#1d4f91"/><stop offset=".25" stop-color="#4b8cc6"/><stop offset=".6" stop-color="#a9cbe6"/><stop offset="1" stop-color="#f3f8fd"/></linearGradient></defs><rect width="8.6" height="151.7" fill="url(#cb4)"/><rect x="8.6" y="9.7" width="7" height="1.6" fill="#222"/><text x="20.6" y="14.5" font-size="10.5" fill="#333" font-family="Liberation Sans">10<tspan dy="-4" font-size="7.5">0</tspan></text><rect x="8.6" y="11.6" width="4" height="1" fill="#333"/><rect x="8.6" y="13.4" width="4" height="1" fill="#333"/><rect x="8.6" y="15.4" width="4" height="1" fill="#333"/><rect x="8.6" y="17.7" width="4" height="1" fill="#333"/><rect x="8.6" y="20.5" width="4" height="1" fill="#333"/><rect x="8.6" y="23.8" width="4" height="1" fill="#333"/><rect x="8.6" y="28.2" width="4" height="1" fill="#333"/><rect x="8.6" y="34.3" width="4" height="1" fill="#333"/><rect x="8.6" y="44.5" width="7" height="1.6" fill="#222"/><text x="20.6" y="49.3" font-size="10.5" fill="#333" font-family="Liberation Sans">10<tspan dy="-4" font-size="7.5">−1</tspan></text><rect x="8.6" y="46.4" width="4" height="1" fill="#333"/><rect x="8.6" y="48.2" width="4" height="1" fill="#333"/><rect x="8.6" y="50.2" width="4" height="1" fill="#333"/><rect x="8.6" y="52.5" width="4" height="1" fill="#333"/><rect x="8.6" y="55.3" width="4" height="1" fill="#333"/><rect x="8.6" y="58.6" width="4" height="1" fill="#333"/><rect x="8.6" y="63.0" width="4" height="1" fill="#333"/><rect x="8.6" y="69.1" width="4" height="1" fill="#333"/><rect x="8.6" y="79.3" width="7" height="1.6" fill="#222"/><text x="20.6" y="84.1" font-size="10.5" fill="#333" font-family="Liberation Sans">10<tspan dy="-4" font-size="7.5">−2</tspan></text><rect x="8.6" y="81.2" width="4" height="1" fill="#333"/><rect x="8.6" y="83.0" width="4" height="1" fill="#333"/><rect x="8.6" y="85.0" width="4" height="1" fill="#333"/><rect x="8.6" y="87.3" width="4" height="1" fill="#333"/><rect x="8.6" y="90.1" width="4" height="1" fill="#333"/><rect x="8.6" y="93.4" width="4" height="1" fill="#333"/><rect x="8.6" y="97.8" width="4" height="1" fill="#333"/><rect x="8.6" y="103.9" width="4" height="1" fill="#333"/><rect x="8.6" y="114.1" width="7" height="1.6" fill="#222"/><text x="20.6" y="118.9" font-size="10.5" fill="#333" font-family="Liberation Sans">10<tspan dy="-4" font-size="7.5">−3</tspan></text><rect x="8.6" y="116.0" width="4" height="1" fill="#333"/><rect x="8.6" y="117.8" width="4" height="1" fill="#333"/><rect x="8.6" y="119.8" width="4" height="1" fill="#333"/><rect x="8.6" y="122.1" width="4" height="1" fill="#333"/><rect x="8.6" y="124.9" width="4" height="1" fill="#333"/><rect x="8.6" y="128.2" width="4" height="1" fill="#333"/><rect x="8.6" y="132.6" width="4" height="1" fill="#333"/><rect x="8.6" y="138.7" width="4" height="1" fill="#333"/><rect x="8.6" y="148.9" width="7" height="1.6" fill="#222"/><text x="20.6" y="153.7" font-size="10.5" fill="#333" font-family="Liberation Sans">10<tspan dy="-4" font-size="7.5">−4</tspan></text></svg>
<svg style="left:4408.2px;top:783.6px" width="70" height="161.7"><defs><linearGradient id="cbg" x1="0" y1="0" x2="0" y2="1"><stop offset="0" stop-color="#3f7a55"/><stop offset=".35" stop-color="#7fbf8b"/><stop offset=".6" stop-color="#b4e0b0"/><stop offset=".66" stop-color="#dfe9df"/><stop offset=".8" stop-color="#e6e6e6"/><stop offset="1" stop-color="#f4f4f4"/></linearGradient></defs><rect width="8.6" height="151.7" fill="url(#cbg)"/><rect x="8.6" y="-0.2" width="7" height="1.6" fill="#222"/><text x="21" y="4.2" font-size="10.5" fill="#333" font-family="Liberation Sans">1.0</text><rect x="8.6" y="29.9" width="7" height="1.6" fill="#222"/><text x="21" y="34.3" font-size="10.5" fill="#333" font-family="Liberation Sans">0.8</text><rect x="8.6" y="60.0" width="7" height="1.6" fill="#222"/><text x="21" y="64.4" font-size="10.5" fill="#333" font-family="Liberation Sans">0.6</text><rect x="8.6" y="90.1" width="7" height="1.6" fill="#222"/><text x="21" y="94.5" font-size="10.5" fill="#333" font-family="Liberation Sans">0.4</text><rect x="8.6" y="120.2" width="7" height="1.6" fill="#222"/><text x="21" y="124.6" font-size="10.5" fill="#333" font-family="Liberation Sans">0.2</text><rect x="8.6" y="150.3" width="7" height="1.6" fill="#222"/><text x="21" y="154.7" font-size="10.5" fill="#333" font-family="Liberation Sans">0.0</text></svg>
<div class="L" style="left:3240.0px;top:1003.5px;transform:scaleX(0.9206);"><u></u><span class="b" style="font-size:29.5px;"><span style="color:#33478c">Figure 2.</span> <span class="m">ℓ</span><span class="sb"><span style="font-family:'Liberation Sans',sans-serif;font-style:normal">CE</span></span><span class="r"> (</span><span class="m">θ</span><span class="sb"><span class="m">t</span></span><span class="r">; (</span><span class="mb">x</span><span class="sb"><span class="m">i</span></span><span class="r">, </span><span class="mb">y</span><span class="sb"><span class="m">i</span></span><span class="r">))</span> (top), CE weights <span class="mbi">β</span><span class="sb"><span class="m">t</span></span> (middle), and <span class="m">ℓ</span><span class="sb"><span style="font-family:'Liberation Sans',sans-serif;font-style:normal">AC</span></span><span class="r"> (</span><span class="m">θ</span><span class="sb"><span class="m">t</span></span><span class="r">; </span><span class="mb">x</span><span class="sb"><span class="m">i</span></span><span class="r">, </span><span class="m">A</span><span class="sb"><span class="m">i</span><span class="r">,1</span></span><span class="r">, </span><span class="m">A</span><span class="sb"><span class="m">i</span><span class="r">,2</span></span><span class="r">)</span> (bottom) in the training process.&nbsp; x-axis</span></div>
<div class="L" style="left:3240.0px;top:1039.0px;transform:scaleX(0.9229);"><u></u><span class="b" style="font-size:29.5px;">indexes the training slices 0–2211.&nbsp; y-axis enumerates epochs 0–150.&nbsp; Black lines partition volumes.&nbsp; Purple lines</span></div>
<div class="L" style="left:3240.0px;top:1074.7px;transform:scaleX(0.9069);"><u></u><span class="b" style="font-size:29.5px;">separate all-background slices.</span></div>
<div class="L" style="left:3240.0px;top:1164.5px;transform:scaleX(1.0354);"><u></u><span class="b" style="font-size:33px;"><b>Sample efficiency &amp; distributional robustness</b>:&nbsp; We compare <b><i class="t">AdaWAC</i></b> and <b>ERM+SGD (baseline)</b></span></div>
<div class="L" style="left:3240.0px;top:1207.6px;transform:scaleX(1.0495);"><u></u><span class="b" style="font-size:33px;">when training on different subsets of the full Synapse training set (“<b>full</b>” in Table 1):</span></div>
<div class="L" style="left:3273.8px;top:1284.4px;transform:scaleX(1.0319);"><u></u><span class="b" style="font-size:33px;"><b>half-slice</b> contains slices with even indices only in each volume;</span></div>
<div style="position:absolute;left:3249.0px;top:1468.1px;width:9.2px;height:9.2px;background:#2a3a80;"></div>
<div class="L" style="left:3273.8px;top:1335.4px;transform:scaleX(1.0562);"><u></u><span class="b" style="font-size:33px;"><b>half-vol</b> consists of 9 volumes uniformly sampled from the total 18 volumes in <b>full</b> where</span></div>
<div style="position:absolute;left:3249.0px;top:1519.1px;width:9.2px;height:9.2px;background:#2a3a80;"></div>
<div class="L" style="left:3273.8px;top:1377.8px;transform:scaleX(1.0319);"><u></u><span class="b" style="font-size:33px;">different volumes tend to have distinct <span class="m">ξ</span>s (<i class="t">i.e.</i>, ratios of label-dense samples);</span></div>
<div class="L" style="left:3273.8px;top:1428.8px;transform:scaleX(1.0371);"><u></u><span class="b" style="font-size:33px;"><b>half-sparse</b> takes the first half slices in each volume, most of which tend to be label-sparse</span></div>
<div style="position:absolute;left:3249.0px;top:1612.5px;width:9.2px;height:9.2px;background:#2a3a80;"></div>
<div class="L" style="left:3273.8px;top:1470.6px;transform:scaleX(0.9952);"><u></u><span class="b" style="font-size:33px;">(<i class="t">i.e.</i>, <span class="m">ξ</span>s are made to be small).</span></div>
<div class="L" style="left:3474.0px;top:1538.2px;transform:scaleX(0.9829);"><u></u><span class="b" style="font-size:28px;"><span style="color:#33478c">Table 1.</span> <i class="t">AdaWAC</i> with TransUNet trained on the full Synapse and its subsets.</span></div>
<div style="position:absolute;left:3240.0px;top:1768.0px;width:1440.0px;height:2.2px;background:#111;"></div>
<div style="position:absolute;left:3240.0px;top:1813.1px;width:1440.0px;height:1.2px;background:#222;"></div>
<div style="position:absolute;left:3240.0px;top:1889.2px;width:1440.0px;height:1.2px;background:#222;"></div>
<div style="position:absolute;left:3240.0px;top:1964.4px;width:1440.0px;height:1.2px;background:#222;"></div>
<div style="position:absolute;left:3240.0px;top:2039.7px;width:1440.0px;height:1.2px;background:#222;"></div>
<div style="position:absolute;left:3240.0px;top:2116.5px;width:1440.0px;height:2.2px;background:#111;"></div>
<div class="L" style="left:3245.8px;top:1598.5px;"><u></u><span class="b" style="font-size:24.5px;">Training</span></div>
<div class="L" style="left:3380.7px;top:1598.5px;"><u></u><span class="b" style="font-size:24.5px;">Method</span></div>
<div class="L" style="left:3563.6px;top:1598.5px;transform:translateX(-50%);"><u></u><span class="b" style="font-size:24.5px;">DSC ↑</span></div>
<div class="L" style="left:3735.8px;top:1598.5px;transform:translateX(-50%);"><u></u><span class="b" style="font-size:24.5px;">HD95 ↓</span></div>
<div class="L" style="left:3864.5px;top:1598.5px;transform:translateX(-50%);"><u></u><span class="b" style="font-size:24.5px;">Aorta</span></div>
<div class="L" style="left:3973.2px;top:1598.5px;transform:translateX(-50%);"><u></u><span class="b" style="font-size:24.5px;">Gallbladder</span></div>
<div class="L" style="left:4104.7px;top:1598.5px;transform:translateX(-50%);"><u></u><span class="b" style="font-size:24.5px;">Kidney (L)</span></div>
<div class="L" style="left:4228.3px;top:1598.5px;transform:translateX(-50%);"><u></u><span class="b" style="font-size:24.5px;">Kidney (R)</span></div>
<div class="L" style="left:4330.9px;top:1598.5px;transform:translateX(-50%);"><u></u><span class="b" style="font-size:24.5px;">Liver</span></div>
<div class="L" style="left:4426.2px;top:1598.5px;transform:translateX(-50%);"><u></u><span class="b" style="font-size:24.5px;">Pancreas</span></div>
<div class="L" style="left:4525.8px;top:1598.5px;transform:translateX(-50%);"><u></u><span class="b" style="font-size:24.5px;">Spleen</span></div>
<div class="L" style="left:4624.1px;top:1598.5px;transform:translateX(-50%);"><u></u><span class="b" style="font-size:24.5px;">Stomach</span></div>
<div class="L" style="left:3245.8px;top:1658.3px;"><u></u><span class="b" style="font-size:24.5px;">full</span></div>
<div class="L" style="left:3380.7px;top:1642.5px;"><u></u><span class="b" style="font-size:24.5px;">baseline</span></div>
<div class="L" style="left:3563.6px;top:1642.5px;transform:translateX(-50%);"><u></u><span class="b" style="font-size:26px;">76.66 ± 0.88</span></div>
<div class="L" style="left:3735.8px;top:1642.5px;transform:translateX(-50%);"><u></u><span class="b" style="font-size:26px;">29.23 ± 1.90</span></div>
<div class="L" style="left:3864.5px;top:1642.5px;transform:translateX(-50%);"><u></u><span class="b" style="font-size:26px;">87.06</span></div>
<div class="L" style="left:3973.2px;top:1642.5px;transform:translateX(-50%);"><u></u><span class="b" style="font-size:26px;">55.90</span></div>
<div class="L" style="left:4104.7px;top:1642.5px;transform:translateX(-50%);"><u></u><span class="b" style="font-size:26px;">81.95</span></div>
<div class="L" style="left:4228.3px;top:1642.5px;transform:translateX(-50%);"><u></u><span class="b" style="font-size:26px;">75.58</span></div>
<div class="L" style="left:4330.9px;top:1642.5px;transform:translateX(-50%);"><u></u><span class="b" style="font-size:26px;">94.29</span></div>
<div class="L" style="left:4426.2px;top:1642.5px;transform:translateX(-50%);"><u></u><span class="b" style="font-size:26px;">56.30</span></div>
<div class="L" style="left:4525.8px;top:1642.5px;transform:translateX(-50%);"><u></u><span class="b" style="font-size:26px;">86.05</span></div>
<div class="L" style="left:4624.1px;top:1642.5px;transform:translateX(-50%);"><u></u><span class="b" style="font-size:26px;">76.17</span></div>
<div class="L" style="left:3380.7px;top:1673.7px;"><u></u><span class="b" style="font-size:24.5px;"><i class="t">AdaWAC</i></span></div>
<div class="L" style="left:3563.6px;top:1673.7px;transform:translateX(-50%);"><u></u><span class="b" style="font-size:26px;"><b>79.04</b> ± <b>0.21</b></span></div>
<div class="L" style="left:3735.8px;top:1673.7px;transform:translateX(-50%);"><u></u><span class="b" style="font-size:26px;"><b>27.39</b> ± <b>1.91</b></span></div>
<div class="L" style="left:3864.5px;top:1673.7px;transform:translateX(-50%);"><u></u><span class="b" style="font-size:26px;">87.53</span></div>
<div class="L" style="left:3973.2px;top:1673.7px;transform:translateX(-50%);"><u></u><span class="b" style="font-size:26px;">56.57</span></div>
<div class="L" style="left:4104.7px;top:1673.7px;transform:translateX(-50%);"><u></u><span class="b" style="font-size:26px;">83.23</span></div>
<div class="L" style="left:4228.3px;top:1673.7px;transform:translateX(-50%);"><u></u><span class="b" style="font-size:26px;">81.12</span></div>
<div class="L" style="left:4330.9px;top:1673.7px;transform:translateX(-50%);"><u></u><span class="b" style="font-size:26px;">94.04</span></div>
<div class="L" style="left:4426.2px;top:1673.7px;transform:translateX(-50%);"><u></u><span class="b" style="font-size:26px;">62.05</span></div>
<div class="L" style="left:4525.8px;top:1673.7px;transform:translateX(-50%);"><u></u><span class="b" style="font-size:26px;">89.51</span></div>
<div class="L" style="left:4624.1px;top:1673.7px;transform:translateX(-50%);"><u></u><span class="b" style="font-size:26px;">78.32</span></div>
<div class="L" style="left:3245.8px;top:1733.8px;"><u></u><span class="b" style="font-size:24.5px;">half-slice</span></div>
<div class="L" style="left:3380.7px;top:1718.3px;"><u></u><span class="b" style="font-size:24.5px;">baseline</span></div>
<div class="L" style="left:3563.6px;top:1718.3px;transform:translateX(-50%);"><u></u><span class="b" style="font-size:26px;">74.62 ± 0.78</span></div>
<div class="L" style="left:3735.8px;top:1718.3px;transform:translateX(-50%);"><u></u><span class="b" style="font-size:26px;">31.62 ± 8.37</span></div>
<div class="L" style="left:3864.5px;top:1718.3px;transform:translateX(-50%);"><u></u><span class="b" style="font-size:26px;">86.14</span></div>
<div class="L" style="left:3973.2px;top:1718.3px;transform:translateX(-50%);"><u></u><span class="b" style="font-size:26px;">44.23</span></div>
<div class="L" style="left:4104.7px;top:1718.3px;transform:translateX(-50%);"><u></u><span class="b" style="font-size:26px;">79.09</span></div>
<div class="L" style="left:4228.3px;top:1718.3px;transform:translateX(-50%);"><u></u><span class="b" style="font-size:26px;">78.46</span></div>
<div class="L" style="left:4330.9px;top:1718.3px;transform:translateX(-50%);"><u></u><span class="b" style="font-size:26px;">93.50</span></div>
<div class="L" style="left:4426.2px;top:1718.3px;transform:translateX(-50%);"><u></u><span class="b" style="font-size:26px;">55.78</span></div>
<div class="L" style="left:4525.8px;top:1718.3px;transform:translateX(-50%);"><u></u><span class="b" style="font-size:26px;">84.54</span></div>
<div class="L" style="left:4624.1px;top:1718.3px;transform:translateX(-50%);"><u></u><span class="b" style="font-size:26px;">75.24</span></div>
<div class="L" style="left:3380.7px;top:1749.3px;"><u></u><span class="b" style="font-size:24.5px;"><i class="t">AdaWAC</i></span></div>
<div class="L" style="left:3563.6px;top:1749.3px;transform:translateX(-50%);"><u></u><span class="b" style="font-size:26px;"><b>77.37</b> ± <b>0.40</b></span></div>
<div class="L" style="left:3735.8px;top:1749.3px;transform:translateX(-50%);"><u></u><span class="b" style="font-size:26px;"><b>29.56</b> ± <b>1.09</b></span></div>
<div class="L" style="left:3864.5px;top:1749.3px;transform:translateX(-50%);"><u></u><span class="b" style="font-size:26px;">86.89</span></div>
<div class="L" style="left:3973.2px;top:1749.3px;transform:translateX(-50%);"><u></u><span class="b" style="font-size:26px;">55.96</span></div>
<div class="L" style="left:4104.7px;top:1749.3px;transform:translateX(-50%);"><u></u><span class="b" style="font-size:26px;">82.15</span></div>
<div class="L" style="left:4228.3px;top:1749.3px;transform:translateX(-50%);"><u></u><span class="b" style="font-size:26px;">78.63</span></div>
<div class="L" style="left:4330.9px;top:1749.3px;transform:translateX(-50%);"><u></u><span class="b" style="font-size:26px;">94.34</span></div>
<div class="L" style="left:4426.2px;top:1749.3px;transform:translateX(-50%);"><u></u><span class="b" style="font-size:26px;">57.36</span></div>
<div class="L" style="left:4525.8px;top:1749.3px;transform:translateX(-50%);"><u></u><span class="b" style="font-size:26px;">86.60</span></div>
<div class="L" style="left:4624.1px;top:1749.3px;transform:translateX(-50%);"><u></u><span class="b" style="font-size:26px;">77.05</span></div>
<div class="L" style="left:3245.8px;top:1809.3px;"><u></u><span class="b" style="font-size:24.5px;">half-vol</span></div>
<div class="L" style="left:3380.7px;top:1794.2px;"><u></u><span class="b" style="font-size:24.5px;">baseline</span></div>
<div class="L" style="left:3563.6px;top:1794.2px;transform:translateX(-50%);"><u></u><span class="b" style="font-size:26px;">71.08 ± 0.90</span></div>
<div class="L" style="left:3735.8px;top:1794.2px;transform:translateX(-50%);"><u></u><span class="b" style="font-size:26px;">46.83 ± 2.91</span></div>
<div class="L" style="left:3864.5px;top:1794.2px;transform:translateX(-50%);"><u></u><span class="b" style="font-size:26px;">84.38</span></div>
<div class="L" style="left:3973.2px;top:1794.2px;transform:translateX(-50%);"><u></u><span class="b" style="font-size:26px;">46.71</span></div>
<div class="L" style="left:4104.7px;top:1794.2px;transform:translateX(-50%);"><u></u><span class="b" style="font-size:26px;">78.19</span></div>
<div class="L" style="left:4228.3px;top:1794.2px;transform:translateX(-50%);"><u></u><span class="b" style="font-size:26px;">74.55</span></div>
<div class="L" style="left:4330.9px;top:1794.2px;transform:translateX(-50%);"><u></u><span class="b" style="font-size:26px;">92.02</span></div>
<div class="L" style="left:4426.2px;top:1794.2px;transform:translateX(-50%);"><u></u><span class="b" style="font-size:26px;">48.03</span></div>
<div class="L" style="left:4525.8px;top:1794.2px;transform:translateX(-50%);"><u></u><span class="b" style="font-size:26px;">76.28</span></div>
<div class="L" style="left:4624.1px;top:1794.2px;transform:translateX(-50%);"><u></u><span class="b" style="font-size:26px;">68.47</span></div>
<div class="L" style="left:3380.7px;top:1825.4px;"><u></u><span class="b" style="font-size:24.5px;"><i class="t">AdaWAC</i></span></div>
<div class="L" style="left:3563.6px;top:1825.4px;transform:translateX(-50%);"><u></u><span class="b" style="font-size:26px;"><b>73.81</b> ± <b>0.94</b></span></div>
<div class="L" style="left:3735.8px;top:1825.4px;transform:translateX(-50%);"><u></u><span class="b" style="font-size:26px;"><b>35.33</b> ± <b>0.92</b></span></div>
<div class="L" style="left:3864.5px;top:1825.4px;transform:translateX(-50%);"><u></u><span class="b" style="font-size:26px;">84.37</span></div>
<div class="L" style="left:3973.2px;top:1825.4px;transform:translateX(-50%);"><u></u><span class="b" style="font-size:26px;">48.14</span></div>
<div class="L" style="left:4104.7px;top:1825.4px;transform:translateX(-50%);"><u></u><span class="b" style="font-size:26px;">80.32</span></div>
<div class="L" style="left:4228.3px;top:1825.4px;transform:translateX(-50%);"><u></u><span class="b" style="font-size:26px;">77.39</span></div>
<div class="L" style="left:4330.9px;top:1825.4px;transform:translateX(-50%);"><u></u><span class="b" style="font-size:26px;">93.23</span></div>
<div class="L" style="left:4426.2px;top:1825.4px;transform:translateX(-50%);"><u></u><span class="b" style="font-size:26px;">52.78</span></div>
<div class="L" style="left:4525.8px;top:1825.4px;transform:translateX(-50%);"><u></u><span class="b" style="font-size:26px;">83.50</span></div>
<div class="L" style="left:4624.1px;top:1825.4px;transform:translateX(-50%);"><u></u><span class="b" style="font-size:26px;">70.79</span></div>
<div class="L" style="left:3245.8px;top:1885.2px;"><u></u><span class="b" style="font-size:24.5px;">half-sparse</span></div>
<div class="L" style="left:3380.7px;top:1870.0px;"><u></u><span class="b" style="font-size:24.5px;">baseline</span></div>
<div class="L" style="left:3563.6px;top:1870.0px;transform:translateX(-50%);"><u></u><span class="b" style="font-size:26px;">31.74 ± 2.78</span></div>
<div class="L" style="left:3735.8px;top:1870.0px;transform:translateX(-50%);"><u></u><span class="b" style="font-size:26px;">69.72 ± 1.37</span></div>
<div class="L" style="left:3864.5px;top:1870.0px;transform:translateX(-50%);"><u></u><span class="b" style="font-size:26px;">65.71</span></div>
<div class="L" style="left:3973.2px;top:1870.0px;transform:translateX(-50%);"><u></u><span class="b" style="font-size:26px;">8.33</span></div>
<div class="L" style="left:4104.7px;top:1870.0px;transform:translateX(-50%);"><u></u><span class="b" style="font-size:26px;">59.46</span></div>
<div class="L" style="left:4228.3px;top:1870.0px;transform:translateX(-50%);"><u></u><span class="b" style="font-size:26px;">51.59</span></div>
<div class="L" style="left:4330.9px;top:1870.0px;transform:translateX(-50%);"><u></u><span class="b" style="font-size:26px;">51.18</span></div>
<div class="L" style="left:4426.2px;top:1870.0px;transform:translateX(-50%);"><u></u><span class="b" style="font-size:26px;">10.72</span></div>
<div class="L" style="left:4525.8px;top:1870.0px;transform:translateX(-50%);"><u></u><span class="b" style="font-size:26px;">6.92</span></div>
<div class="L" style="left:4624.1px;top:1870.0px;transform:translateX(-50%);"><u></u><span class="b" style="font-size:26px;">0.00</span></div>
<div class="L" style="left:3380.7px;top:1901.2px;"><u></u><span class="b" style="font-size:24.5px;"><i class="t">AdaWAC</i></span></div>
<div class="L" style="left:3563.6px;top:1901.2px;transform:translateX(-50%);"><u></u><span class="b" style="font-size:26px;"><b>41.03</b> ± <b>2.12</b></span></div>
<div class="L" style="left:3735.8px;top:1901.2px;transform:translateX(-50%);"><u></u><span class="b" style="font-size:26px;"><b>59.04</b> ± <b>12.32</b></span></div>
<div class="L" style="left:3864.5px;top:1901.2px;transform:translateX(-50%);"><u></u><span class="b" style="font-size:26px;">71.27</span></div>
<div class="L" style="left:3973.2px;top:1901.2px;transform:translateX(-50%);"><u></u><span class="b" style="font-size:26px;">8.33</span></div>
<div class="L" style="left:4104.7px;top:1901.2px;transform:translateX(-50%);"><u></u><span class="b" style="font-size:26px;">69.14</span></div>
<div class="L" style="left:4228.3px;top:1901.2px;transform:translateX(-50%);"><u></u><span class="b" style="font-size:26px;">63.09</span></div>
<div class="L" style="left:4330.9px;top:1901.2px;transform:translateX(-50%);"><u></u><span class="b" style="font-size:26px;">64.29</span></div>
<div class="L" style="left:4426.2px;top:1901.2px;transform:translateX(-50%);"><u></u><span class="b" style="font-size:26px;">17.74</span></div>
<div class="L" style="left:4525.8px;top:1901.2px;transform:translateX(-50%);"><u></u><span class="b" style="font-size:26px;">30.77</span></div>
<div class="L" style="left:4624.1px;top:1901.2px;transform:translateX(-50%);"><u></u><span class="b" style="font-size:26px;">3.57</span></div>
<div class="L" style="left:3273.8px;top:1973.8px;transform:scaleX(1.0300);"><u></u><span class="b" style="font-size:33px;"><b>full</b> and <b>half-slice</b> results illustrate the <b>sample efficiency</b> of <i class="t">AdaWAC</i>. Specifically, <i class="t">AdaWAC</i></span></div>
<div style="position:absolute;left:3249.0px;top:2157.5px;width:9.2px;height:9.2px;background:#2a3a80;"></div>
<div class="L" style="left:3273.8px;top:2015.6px;transform:scaleX(1.0420);"><u></u><span class="b" style="font-size:33px;">models trained on <b>half-slice</b> generalize as well as baseline models on <b>full</b>, if not better.</span></div>
<div class="L" style="left:3273.8px;top:2066.0px;transform:scaleX(1.0559);"><u></u><span class="b" style="font-size:33px;"><b>half-vol</b> and <b>half-sparse</b> results illustrate the <b>distributional robustness</b> of <i class="t">AdaWAC</i> to different</span></div>
<div style="position:absolute;left:3249.0px;top:2249.7px;width:9.2px;height:9.2px;background:#2a3a80;"></div>
<div class="L" style="left:3273.8px;top:2109.0px;transform:scaleX(1.0285);"><u></u><span class="b" style="font-size:33px;">ratios (<span class="m">ξ</span> in <span class="m">P</span><span class="sb"><span class="m">ξ</span></span>) of label-sparse versus label-dense samples during training and testing.</span></div>
<div class="L" style="left:3240.0px;top:2216.5px;transform:scaleX(1.0491);"><u></u><span class="b" style="font-size:33px;"><b>More interesting comparisons &amp; ablation studies in the paper</b>:&nbsp; By combining sample</span></div>
<div class="L" style="left:3240.0px;top:2258.3px;transform:scaleX(1.0283);"><u></u><span class="b" style="font-size:33px;">reweighting and data augmentation consistency regularization strategically, <i class="t">AdaWAC</i></span></div>
<div class="L" style="left:3240.0px;top:2300.7px;transform:scaleX(1.0570);"><u></u><span class="b" style="font-size:33px;">outperforms different variations of <b>hard-thresholding</b> and <b>DRO-based</b> algorithms.</span></div>
<div class="L" style="left:3847.2px;top:2359.7px;transform:scaleX(0.9519);"><u></u><span class="h" style="font-size:43.5px;">References</span></div>
<div style="position:absolute;left:3240.0px;top:2585.0px;width:1440.0px;height:1.2px;background:#151515;"></div>
<div class="L" style="left:3240.0px;top:2429.8px;transform:scaleX(1.0600);"><u></u><span class="b" style="font-size:23px;">[1]</span></div>
<div class="L" style="left:3283.6px;top:2429.8px;transform:scaleX(0.9814);"><u></u><span class="b" style="font-size:23px;">Jieneng Chen, Yongyi Lu, Qihang Yu, Xiangde Luo, Ehsan Adeli, Yan Wang, Le Lu, Alan L Yuille, and Yuyin Zhou. Transunet:&nbsp; Transformers</span></div>
<div class="L" style="left:3283.6px;top:2461.2px;transform:scaleX(1.0066);"><u></u><span class="b" style="font-size:23px;">make strong encoders for medical image segmentation. <i class="t">arXiv preprint arXiv:2102.04306</i>, 2021.</span></div>
<div class="L" style="left:3240.0px;top:2503.0px;transform:scaleX(1.0600);"><u></u><span class="b" style="font-size:23px;">[2]</span></div>
<div class="L" style="left:3283.6px;top:2503.0px;transform:scaleX(1.0177);"><u></u><span class="b" style="font-size:23px;">Yijun Dong, Yuege Xie, and Rachel Ward. Adaptively weighted data augmentation consistency regularization for robust optimization</span></div>
<div class="L" style="left:3283.6px;top:2534.3px;transform:scaleX(1.0166);"><u></u><span class="b" style="font-size:23px;">under concept shift. <i class="t">arXiv preprint arXiv:2210.01891</i>, 2022.</span></div>
<div class="L" style="left:3240.0px;top:2576.1px;transform:scaleX(1.0600);"><u></u><span class="b" style="font-size:23px;">[3]</span></div>
<div class="L" style="left:3283.6px;top:2576.1px;transform:scaleX(1.0059);"><u></u><span class="b" style="font-size:23px;">Shiori Sagawa, Pang Wei Koh, Tatsunori B. Hashimoto, and Percy Liang. Distributionally robust neural networks. In <i class="t">International</i></span></div>
<div class="L" style="left:3283.6px;top:2606.8px;transform:scaleX(0.9429);"><u></u><span class="b" style="font-size:23px;"><i class="t">Conference on Learning Representations</i>, 2020.</span></div>
</body></html>
